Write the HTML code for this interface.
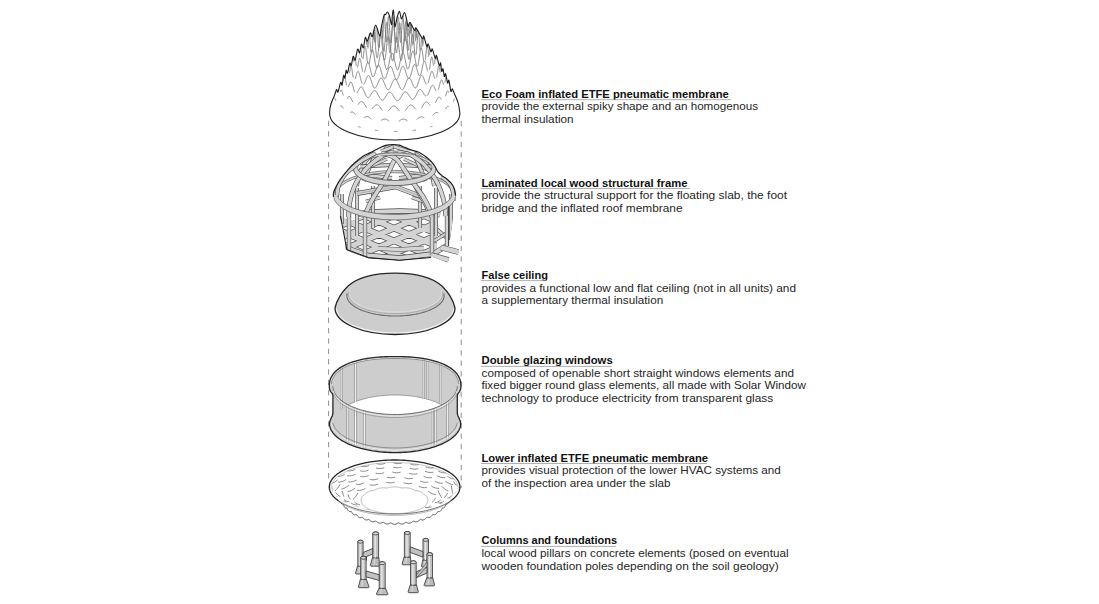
<!DOCTYPE html>
<html><head><meta charset="utf-8"><style>
html,body{margin:0;padding:0;background:#fff;width:1099px;height:604px;overflow:hidden}
</style></head><body>
<svg width="1099" height="604" viewBox="0 0 1099 604" style="position:absolute;left:0;top:0">
<g font-family='"Liberation Sans", sans-serif' font-size="9.8">
<text x="481.5" y="97.7" font-size="10.4" font-weight="bold" fill="#111" textLength="247.3" lengthAdjust="spacingAndGlyphs">Eco Foam inflated ETFE pneumatic membrane</text>
<line x1="481.0" y1="99.7" x2="731" y2="99.7" stroke="#9a9a9a" stroke-width="0.8"/>
<text x="481.5" y="110.3" font-size="10.1" font-weight="normal" fill="#262626" textLength="276.5" lengthAdjust="spacingAndGlyphs">provide the external spiky shape and an homogenous</text>
<text x="481.5" y="122.7" font-size="10.1" font-weight="normal" fill="#262626" textLength="92.1" lengthAdjust="spacingAndGlyphs">thermal insulation</text>
<text x="481.5" y="186.5" font-size="10.4" font-weight="bold" fill="#111" textLength="205.9" lengthAdjust="spacingAndGlyphs">Laminated local wood structural frame</text>
<line x1="481.0" y1="188.5" x2="689.7" y2="188.5" stroke="#9a9a9a" stroke-width="0.8"/>
<text x="481.5" y="199.1" font-size="10.1" font-weight="normal" fill="#262626" textLength="305.5" lengthAdjust="spacingAndGlyphs">provide the structural support for the floating slab, the foot</text>
<text x="481.5" y="211.5" font-size="10.1" font-weight="normal" fill="#262626" textLength="201.0" lengthAdjust="spacingAndGlyphs">bridge and the inflated roof membrane</text>
<text x="481.5" y="278.6" font-size="10.4" font-weight="bold" fill="#111" textLength="66.4" lengthAdjust="spacingAndGlyphs">False ceiling</text>
<line x1="481.0" y1="280.6" x2="546.9" y2="280.6" stroke="#9a9a9a" stroke-width="0.8"/>
<text x="481.5" y="291.6" font-size="10.1" font-weight="normal" fill="#262626" textLength="314.5" lengthAdjust="spacingAndGlyphs">provides a functional low and flat ceiling (not in all units) and</text>
<text x="481.5" y="304.0" font-size="10.1" font-weight="normal" fill="#262626" textLength="181.7" lengthAdjust="spacingAndGlyphs">a supplementary thermal insulation</text>
<text x="481.5" y="364.4" font-size="10.4" font-weight="bold" fill="#111" textLength="131.2" lengthAdjust="spacingAndGlyphs">Double glazing windows</text>
<line x1="481.0" y1="366.4" x2="611.7" y2="366.4" stroke="#9a9a9a" stroke-width="0.8"/>
<text x="481.5" y="376.8" font-size="10.1" font-weight="normal" fill="#262626" textLength="312.5" lengthAdjust="spacingAndGlyphs">composed of openable short straight windows elements and</text>
<text x="481.5" y="389.2" font-size="10.1" font-weight="normal" fill="#262626" textLength="324.5" lengthAdjust="spacingAndGlyphs">fixed bigger round glass elements, all made with Solar Window</text>
<text x="481.5" y="401.6" font-size="10.1" font-weight="normal" fill="#262626" textLength="291.7" lengthAdjust="spacingAndGlyphs">technology to produce electricity from transparent glass</text>
<text x="481.5" y="461.5" font-size="10.4" font-weight="bold" fill="#111" textLength="226.6" lengthAdjust="spacingAndGlyphs">Lower inflated ETFE pneumatic membrane</text>
<line x1="481.0" y1="463.5" x2="707.1" y2="463.5" stroke="#9a9a9a" stroke-width="0.8"/>
<text x="481.5" y="474.2" font-size="10.1" font-weight="normal" fill="#262626" textLength="299.3" lengthAdjust="spacingAndGlyphs">provides visual protection of the lower HVAC systems and</text>
<text x="481.5" y="486.6" font-size="10.1" font-weight="normal" fill="#262626" textLength="189.0" lengthAdjust="spacingAndGlyphs">of the inspection area under the slab</text>
<text x="481.5" y="544.4" font-size="10.4" font-weight="bold" fill="#111" textLength="135.5" lengthAdjust="spacingAndGlyphs">Columns and foundations</text>
<line x1="481.0" y1="546.4" x2="616.0" y2="546.4" stroke="#9a9a9a" stroke-width="0.8"/>
<text x="481.5" y="556.8" font-size="10.1" font-weight="normal" fill="#262626" textLength="307.0" lengthAdjust="spacingAndGlyphs">local wood pillars on concrete elements (posed on eventual</text>
<text x="481.5" y="569.5" font-size="10.1" font-weight="normal" fill="#262626" textLength="297.1" lengthAdjust="spacingAndGlyphs">wooden foundation poles depending on the soil geology)</text>
</g>
<line x1="328.6" y1="120.8" x2="328.6" y2="479" stroke="#8f8f8f" stroke-width="1" stroke-dasharray="5.3 5.06"/><line x1="461.2" y1="120.9" x2="461.2" y2="488" stroke="#8f8f8f" stroke-width="1" stroke-dasharray="5.4 5.02"/>
<clipPath id="cc"><path d="M329.60,113.50 C329.62,113.08 329.63,111.90 329.70,111.00 C329.77,110.10 329.85,109.02 330.00,108.10 C330.15,107.18 330.33,106.47 330.60,105.50 C330.87,104.53 331.25,103.30 331.60,102.30 C331.95,101.30 332.28,100.47 332.70,99.50 C333.12,98.53 333.67,97.58 334.10,96.50 C334.53,95.42 334.88,94.18 335.30,93.00 C335.72,91.82 336.15,89.57 336.60,89.40 C337.05,89.23 337.32,93.17 338.00,92.00 C338.68,90.83 340.02,83.57 340.70,82.40 C341.38,81.23 341.62,86.17 342.10,85.00 C342.58,83.83 343.12,76.57 343.60,75.40 C344.08,74.23 344.58,78.83 345.00,78.00 C345.42,77.17 345.68,71.23 346.10,70.40 C346.52,69.57 346.88,74.20 347.50,73.00 C348.12,71.80 349.18,64.40 349.80,63.20 C350.42,62.00 350.63,66.93 351.20,65.80 C351.77,64.67 352.53,57.37 353.20,56.40 C353.87,55.43 354.47,61.20 355.20,60.00 C355.93,58.80 356.87,50.40 357.60,49.20 C358.33,48.00 358.97,53.63 359.60,52.80 C360.23,51.97 360.77,45.03 361.40,44.20 C362.03,43.37 362.75,48.92 363.40,47.80 C364.05,46.68 364.65,38.62 365.30,37.50 C365.95,36.38 366.47,41.87 367.30,41.10 C368.13,40.33 369.47,33.67 370.30,32.90 C371.13,32.13 371.40,37.82 372.30,36.50 C373.20,35.18 374.47,25.08 375.70,25.00 C376.93,24.92 378.78,35.50 379.70,36.00 C380.62,36.50 380.48,31.43 381.20,28.00 C381.92,24.57 383.27,17.65 384.00,15.40 C384.73,13.15 385.02,15.07 385.60,14.50 C386.18,13.93 386.85,11.75 387.50,12.00 C388.15,12.25 388.82,13.88 389.50,16.00 C390.18,18.12 391.13,24.70 391.60,24.70 C392.07,24.70 392.02,18.42 392.30,16.00 C392.58,13.58 392.98,9.87 393.30,10.20 C393.62,10.53 393.92,15.20 394.20,18.00 C394.48,20.80 394.50,27.17 395.00,27.00 C395.50,26.83 396.43,19.60 397.20,17.00 C397.97,14.40 398.90,11.08 399.60,11.40 C400.30,11.72 400.62,18.72 401.40,18.90 C402.18,19.08 403.48,12.65 404.30,12.50 C405.12,12.35 405.67,15.67 406.30,18.00 C406.93,20.33 407.48,25.75 408.10,26.50 C408.72,27.25 408.90,21.82 410.00,22.50 C411.10,23.18 413.70,29.68 414.70,30.60 C415.70,31.52 414.72,26.65 416.00,28.00 C417.28,29.35 421.12,37.35 422.40,38.70 C423.68,40.05 422.95,34.78 423.70,36.10 C424.45,37.42 426.15,45.28 426.90,46.60 C427.65,47.92 427.52,43.17 428.20,44.00 C428.88,44.83 430.32,50.77 431.00,51.60 C431.68,52.43 431.60,47.90 432.30,49.00 C433.00,50.10 434.50,57.10 435.20,58.20 C435.90,59.30 435.82,54.37 436.50,55.60 C437.18,56.83 438.62,64.37 439.30,65.60 C439.98,66.83 440.20,62.03 440.60,63.00 C441.00,63.97 441.30,70.43 441.70,71.40 C442.10,72.37 442.57,67.97 443.00,68.80 C443.43,69.63 443.87,75.57 444.30,76.40 C444.73,77.23 445.05,72.70 445.60,73.80 C446.15,74.90 447.05,81.90 447.60,83.00 C448.15,84.10 448.35,79.02 448.90,80.40 C449.45,81.78 450.35,89.92 450.90,91.30 C451.45,92.68 451.77,88.67 452.20,88.70 C452.63,88.73 453.08,90.53 453.50,91.50 C453.92,92.47 454.20,93.33 454.70,94.50 C455.20,95.67 455.95,97.13 456.50,98.50 C457.05,99.87 457.58,101.28 458.00,102.70 C458.42,104.12 458.73,105.62 459.00,107.00 C459.27,108.38 459.45,109.92 459.60,111.00 C459.75,112.08 459.85,113.08 459.90,113.50 A65.15,26.5 0 0 1 329.6,113.5 Z"/></clipPath><path d="M329.60,113.50 C329.62,113.08 329.63,111.90 329.70,111.00 C329.77,110.10 329.85,109.02 330.00,108.10 C330.15,107.18 330.33,106.47 330.60,105.50 C330.87,104.53 331.25,103.30 331.60,102.30 C331.95,101.30 332.28,100.47 332.70,99.50 C333.12,98.53 333.67,97.58 334.10,96.50 C334.53,95.42 334.88,94.18 335.30,93.00 C335.72,91.82 336.15,89.57 336.60,89.40 C337.05,89.23 337.32,93.17 338.00,92.00 C338.68,90.83 340.02,83.57 340.70,82.40 C341.38,81.23 341.62,86.17 342.10,85.00 C342.58,83.83 343.12,76.57 343.60,75.40 C344.08,74.23 344.58,78.83 345.00,78.00 C345.42,77.17 345.68,71.23 346.10,70.40 C346.52,69.57 346.88,74.20 347.50,73.00 C348.12,71.80 349.18,64.40 349.80,63.20 C350.42,62.00 350.63,66.93 351.20,65.80 C351.77,64.67 352.53,57.37 353.20,56.40 C353.87,55.43 354.47,61.20 355.20,60.00 C355.93,58.80 356.87,50.40 357.60,49.20 C358.33,48.00 358.97,53.63 359.60,52.80 C360.23,51.97 360.77,45.03 361.40,44.20 C362.03,43.37 362.75,48.92 363.40,47.80 C364.05,46.68 364.65,38.62 365.30,37.50 C365.95,36.38 366.47,41.87 367.30,41.10 C368.13,40.33 369.47,33.67 370.30,32.90 C371.13,32.13 371.40,37.82 372.30,36.50 C373.20,35.18 374.47,25.08 375.70,25.00 C376.93,24.92 378.78,35.50 379.70,36.00 C380.62,36.50 380.48,31.43 381.20,28.00 C381.92,24.57 383.27,17.65 384.00,15.40 C384.73,13.15 385.02,15.07 385.60,14.50 C386.18,13.93 386.85,11.75 387.50,12.00 C388.15,12.25 388.82,13.88 389.50,16.00 C390.18,18.12 391.13,24.70 391.60,24.70 C392.07,24.70 392.02,18.42 392.30,16.00 C392.58,13.58 392.98,9.87 393.30,10.20 C393.62,10.53 393.92,15.20 394.20,18.00 C394.48,20.80 394.50,27.17 395.00,27.00 C395.50,26.83 396.43,19.60 397.20,17.00 C397.97,14.40 398.90,11.08 399.60,11.40 C400.30,11.72 400.62,18.72 401.40,18.90 C402.18,19.08 403.48,12.65 404.30,12.50 C405.12,12.35 405.67,15.67 406.30,18.00 C406.93,20.33 407.48,25.75 408.10,26.50 C408.72,27.25 408.90,21.82 410.00,22.50 C411.10,23.18 413.70,29.68 414.70,30.60 C415.70,31.52 414.72,26.65 416.00,28.00 C417.28,29.35 421.12,37.35 422.40,38.70 C423.68,40.05 422.95,34.78 423.70,36.10 C424.45,37.42 426.15,45.28 426.90,46.60 C427.65,47.92 427.52,43.17 428.20,44.00 C428.88,44.83 430.32,50.77 431.00,51.60 C431.68,52.43 431.60,47.90 432.30,49.00 C433.00,50.10 434.50,57.10 435.20,58.20 C435.90,59.30 435.82,54.37 436.50,55.60 C437.18,56.83 438.62,64.37 439.30,65.60 C439.98,66.83 440.20,62.03 440.60,63.00 C441.00,63.97 441.30,70.43 441.70,71.40 C442.10,72.37 442.57,67.97 443.00,68.80 C443.43,69.63 443.87,75.57 444.30,76.40 C444.73,77.23 445.05,72.70 445.60,73.80 C446.15,74.90 447.05,81.90 447.60,83.00 C448.15,84.10 448.35,79.02 448.90,80.40 C449.45,81.78 450.35,89.92 450.90,91.30 C451.45,92.68 451.77,88.67 452.20,88.70 C452.63,88.73 453.08,90.53 453.50,91.50 C453.92,92.47 454.20,93.33 454.70,94.50 C455.20,95.67 455.95,97.13 456.50,98.50 C457.05,99.87 457.58,101.28 458.00,102.70 C458.42,104.12 458.73,105.62 459.00,107.00 C459.27,108.38 459.45,109.92 459.60,111.00 C459.75,112.08 459.85,113.08 459.90,113.50 A65.15,26.5 0 0 1 329.6,113.5 Z" fill="#fff" stroke="none"/><path d="M358.2,126.7 L358.5,126.7 L358.8,126.8 L359.1,126.8 L359.3,126.9 L359.6,127.0 L359.9,127.1 L360.1,127.2 L360.4,127.3 L360.7,127.4 M374.9,130.3 L375.2,130.3 L375.5,130.3 L375.8,130.3 L376.1,130.3 L376.4,130.4 L376.7,130.4 L377.1,130.4 L377.4,130.5 L377.7,130.6 L378.0,130.7 L378.3,130.7 M393.8,131.6 L394.1,131.6 L394.5,131.6 L394.8,131.5 L395.1,131.5 L395.5,131.5 L395.8,131.5 L396.1,131.5 L396.4,131.5 L396.8,131.6 L397.1,131.6 L397.4,131.7 M412.5,130.6 L412.9,130.5 L413.2,130.4 L413.5,130.4 L413.8,130.3 L414.1,130.2 L414.4,130.2 L414.7,130.1 L415.0,130.1 L415.4,130.1 L415.7,130.1 L416.0,130.1 M430.3,127.0 L430.5,126.9 L430.8,126.8 L431.1,126.7 L431.4,126.6 L431.6,126.5 L431.9,126.5 L432.2,126.4 L432.4,126.4 M334.7,98.5 L334.7,98.5 L334.8,98.5 L334.8,98.5 L334.9,98.5 L334.9,98.5 L335.0,98.6 L335.1,98.6 L335.1,98.7 L335.2,98.9 L335.3,99.0 L335.3,99.2 L335.4,99.4 L335.5,99.6 L335.5,99.8 L335.6,100.1 L335.7,100.3 L335.8,100.6 L335.8,100.9 M340.2,106.0 L340.4,105.9 L340.5,105.9 L340.7,105.8 L340.8,105.8 L341.0,105.8 L341.1,105.8 L341.3,105.9 L341.4,106.0 L341.6,106.0 L341.7,106.2 L341.9,106.3 L342.0,106.5 L342.2,106.7 L342.3,106.9 L342.5,107.1 L342.6,107.3 L342.8,107.6 L343.0,107.9 L343.1,108.2 L343.3,108.5 M350.4,112.5 L350.6,112.4 L350.8,112.3 L351.0,112.2 L351.2,112.1 L351.4,112.1 L351.7,112.1 L351.9,112.0 L352.1,112.1 L352.3,112.1 L352.5,112.1 L352.8,112.2 L353.0,112.3 L353.2,112.4 L353.4,112.6 L353.7,112.8 L353.9,113.0 L354.1,113.2 L354.4,113.4 L354.6,113.6 L354.8,113.9 L355.1,114.2 L355.3,114.5 L355.6,114.8 M363.9,117.7 L364.2,117.6 L364.5,117.4 L364.7,117.3 L365.0,117.1 L365.3,117.0 L365.6,116.9 L365.8,116.8 L366.1,116.7 L366.4,116.7 L366.7,116.6 L366.9,116.6 L367.2,116.6 L367.5,116.6 L367.8,116.7 L368.0,116.8 L368.3,116.9 L368.6,117.0 L368.9,117.1 L369.2,117.3 L369.5,117.5 L369.7,117.7 L370.0,117.9 L370.3,118.2 L370.6,118.4 L370.9,118.7 L371.2,118.9 L371.4,119.2 M380.9,120.5 L381.2,120.3 L381.5,120.2 L381.8,120.0 L382.1,119.8 L382.4,119.6 L382.7,119.5 L383.0,119.4 L383.4,119.3 L383.7,119.2 L384.0,119.1 L384.3,119.1 L384.6,119.1 L384.9,119.1 L385.2,119.1 L385.5,119.1 L385.8,119.2 L386.1,119.3 L386.4,119.4 L386.7,119.5 L387.0,119.7 L387.3,119.9 L387.7,120.1 L388.0,120.3 L388.3,120.5 L388.6,120.7 L388.9,120.9 L389.2,121.2 M398.8,121.3 L399.2,121.1 L399.5,120.8 L399.8,120.6 L400.1,120.4 L400.4,120.2 L400.7,120.0 L401.0,119.8 L401.3,119.7 L401.6,119.5 L401.9,119.4 L402.3,119.3 L402.6,119.2 L402.9,119.2 L403.2,119.2 L403.5,119.1 L403.8,119.2 L404.1,119.2 L404.4,119.3 L404.7,119.3 L405.0,119.4 L405.3,119.6 L405.6,119.7 L405.9,119.9 L406.2,120.0 L406.6,120.2 L406.9,120.4 L407.2,120.6 L407.5,120.8 M416.7,119.5 L417.0,119.3 L417.3,119.0 L417.6,118.7 L417.9,118.5 L418.2,118.3 L418.4,118.0 L418.7,117.8 L419.0,117.6 L419.3,117.5 L419.6,117.3 L419.9,117.2 L420.1,117.1 L420.4,117.0 L420.7,116.9 L421.0,116.9 L421.3,116.9 L421.6,116.9 L421.8,116.9 L422.1,117.0 L422.4,117.0 L422.7,117.1 L422.9,117.2 L423.2,117.4 L423.5,117.5 L423.8,117.6 L424.0,117.8 L424.3,118.0 M432.8,115.3 L433.1,115.0 L433.3,114.7 L433.6,114.4 L433.8,114.1 L434.0,113.9 L434.3,113.7 L434.5,113.4 L434.8,113.2 L435.0,113.1 L435.2,112.9 L435.5,112.8 L435.7,112.7 L435.9,112.6 L436.2,112.5 L436.4,112.5 L436.6,112.5 L436.8,112.5 L437.1,112.5 L437.3,112.6 L437.5,112.6 L437.7,112.7 L437.9,112.8 L438.2,112.9 L438.4,113.0 M445.4,109.1 L445.6,108.8 L445.8,108.5 L446.0,108.2 L446.1,108.0 L446.3,107.7 L446.5,107.5 L446.6,107.3 L446.8,107.1 L447.0,106.9 L447.1,106.7 L447.3,106.6 L447.4,106.5 L447.6,106.4 L447.7,106.4 L447.9,106.4 L448.0,106.3 L448.2,106.4 L448.3,106.4 L448.5,106.4 L448.6,106.5 L448.8,106.6 M453.3,101.7 L453.4,101.3 L453.5,101.1 L453.6,100.8 L453.7,100.5 L453.8,100.3 L453.8,100.0 L453.9,99.8 L454.0,99.7 L454.1,99.5 L454.1,99.4 L454.2,99.3 L454.3,99.2 L454.3,99.1 L454.4,99.1 L454.5,99.1 L454.5,99.1 L454.6,99.1 L454.7,99.1 M338.0,82.9 L338.0,82.9 L338.0,82.9 L338.0,83.0 L338.0,83.2 L338.0,83.3 L338.1,83.5 L338.1,83.8 L338.1,84.1 L338.1,84.4 L338.2,84.7 L338.2,85.1 L338.2,85.5 L338.2,86.0 L338.3,86.4 L338.3,86.9 L338.3,87.4 L338.4,87.9 L338.4,88.4 M340.1,92.0 L340.2,91.8 L340.3,91.5 L340.4,91.3 L340.5,91.0 L340.6,90.8 L340.6,90.6 L340.7,90.4 L340.8,90.3 L340.9,90.2 L341.0,90.1 L341.1,90.0 L341.2,90.0 L341.3,90.0 L341.4,90.1 L341.5,90.2 L341.6,90.3 L341.7,90.5 L341.8,90.7 L341.9,90.9 L342.0,91.2 L342.1,91.6 L342.2,91.9 L342.3,92.3 L342.5,92.7 L342.6,93.1 L342.7,93.6 L342.8,94.1 L342.9,94.5 L343.0,95.0 L343.2,95.5 M347.1,98.8 L347.3,98.5 L347.4,98.3 L347.6,98.0 L347.7,97.7 L347.9,97.5 L348.1,97.3 L348.2,97.0 L348.4,96.9 L348.6,96.7 L348.7,96.6 L348.9,96.5 L349.1,96.4 L349.2,96.4 L349.4,96.4 L349.6,96.5 L349.8,96.5 L350.0,96.7 L350.1,96.8 L350.3,97.1 L350.5,97.3 L350.7,97.6 L350.9,97.9 L351.0,98.3 L351.2,98.6 L351.4,99.0 L351.6,99.4 L351.8,99.9 L352.0,100.3 L352.2,100.8 L352.4,101.3 L352.6,101.7 L352.8,102.2 M358.0,104.7 L358.2,104.4 L358.4,104.1 L358.6,103.8 L358.9,103.5 L359.1,103.2 L359.3,103.0 L359.5,102.7 L359.8,102.4 L360.0,102.2 L360.2,102.0 L360.5,101.8 L360.7,101.7 L360.9,101.6 L361.2,101.5 L361.4,101.5 L361.6,101.5 L361.9,101.5 L362.1,101.6 L362.3,101.7 L362.6,101.9 L362.8,102.1 L363.1,102.3 L363.3,102.6 L363.5,102.9 L363.8,103.2 L364.0,103.6 L364.3,103.9 L364.5,104.3 L364.8,104.8 L365.0,105.2 L365.3,105.6 L365.5,106.1 L365.8,106.5 L366.0,106.9 L366.3,107.3 L366.5,107.8 M372.0,109.0 L372.2,108.7 L372.5,108.4 L372.8,108.1 L373.0,107.7 L373.3,107.4 L373.6,107.1 L373.8,106.8 L374.1,106.5 L374.4,106.2 L374.6,105.9 L374.9,105.7 L375.2,105.4 L375.5,105.2 L375.7,105.1 L376.0,104.9 L376.3,104.8 L376.6,104.8 L376.8,104.8 L377.1,104.8 L377.4,104.9 L377.7,105.0 L377.9,105.1 L378.2,105.3 L378.5,105.5 L378.8,105.7 L379.0,106.0 L379.3,106.3 L379.6,106.6 L379.9,107.0 L380.2,107.4 L380.4,107.8 L380.7,108.2 L381.0,108.6 L381.3,109.0 L381.6,109.4 L381.9,109.8 L382.1,110.1 L382.4,110.5 M388.4,110.8 L388.7,110.4 L389.0,110.1 L389.3,109.7 L389.6,109.4 L389.9,109.0 L390.2,108.6 L390.5,108.3 L390.7,107.9 L391.0,107.6 L391.3,107.3 L391.6,107.0 L391.9,106.8 L392.2,106.6 L392.5,106.4 L392.8,106.2 L393.1,106.1 L393.3,106.0 L393.6,106.0 L393.9,106.0 L394.2,106.0 L394.5,106.1 L394.8,106.2 L395.1,106.4 L395.4,106.6 L395.7,106.8 L396.0,107.1 L396.3,107.3 L396.5,107.6 L396.8,108.0 L397.1,108.3 L397.4,108.7 L397.7,109.0 L398.0,109.4 L398.3,109.7 L398.6,110.1 L398.9,110.5 L399.1,110.8 L399.4,111.1 M405.2,110.7 L405.5,110.4 L405.8,110.0 L406.0,109.6 L406.3,109.2 L406.6,108.8 L406.9,108.4 L407.2,108.0 L407.5,107.6 L407.7,107.2 L408.0,106.9 L408.3,106.6 L408.6,106.3 L408.9,106.0 L409.2,105.7 L409.4,105.5 L409.7,105.4 L410.0,105.2 L410.3,105.1 L410.6,105.0 L410.8,105.0 L411.1,105.0 L411.4,105.1 L411.7,105.2 L411.9,105.3 L412.2,105.5 L412.5,105.7 L412.8,105.9 L413.0,106.2 L413.3,106.4 L413.6,106.7 L413.9,107.0 L414.1,107.4 L414.4,107.7 L414.7,108.0 L415.0,108.4 L415.2,108.7 L415.5,109.0 L415.8,109.3 M421.3,108.2 L421.6,107.8 L421.8,107.4 L422.1,107.0 L422.3,106.5 L422.6,106.1 L422.8,105.7 L423.1,105.2 L423.3,104.8 L423.6,104.4 L423.8,104.0 L424.1,103.7 L424.3,103.4 L424.6,103.1 L424.8,102.8 L425.1,102.6 L425.3,102.4 L425.6,102.2 L425.8,102.1 L426.1,102.0 L426.3,102.0 L426.5,102.0 L426.8,102.0 L427.0,102.1 L427.3,102.2 L427.5,102.3 L427.7,102.5 L428.0,102.7 L428.2,102.9 L428.4,103.2 L428.7,103.4 L428.9,103.7 L429.1,104.0 L429.4,104.3 L429.6,104.6 L429.8,104.9 L430.1,105.2 L430.3,105.5 M435.4,102.9 L435.6,102.4 L435.8,101.9 L436.0,101.5 L436.2,101.0 L436.4,100.6 L436.6,100.1 L436.8,99.7 L437.0,99.3 L437.2,98.9 L437.4,98.6 L437.6,98.3 L437.8,98.0 L438.0,97.7 L438.2,97.5 L438.4,97.4 L438.6,97.2 L438.7,97.1 L438.9,97.1 L439.1,97.1 L439.3,97.1 L439.5,97.1 L439.6,97.2 L439.8,97.4 L440.0,97.5 L440.2,97.7 L440.4,97.9 L440.5,98.2 L440.7,98.4 L440.9,98.7 L441.0,98.9 L441.2,99.2 L441.4,99.5 M445.5,96.3 L445.7,95.8 L445.8,95.4 L445.9,94.9 L446.1,94.4 L446.2,94.0 L446.3,93.5 L446.4,93.1 L446.6,92.7 L446.7,92.4 L446.8,92.1 L446.9,91.8 L447.0,91.5 L447.1,91.3 L447.3,91.1 L447.4,91.0 L447.5,90.9 L447.6,90.8 L447.7,90.8 L447.8,90.8 L447.9,90.9 L448.0,91.0 L448.1,91.1 L448.2,91.2 L448.3,91.4 L448.4,91.6 L448.5,91.8 L448.6,92.1 L448.7,92.3 L448.8,92.6 L448.9,92.8 M450.9,89.3 L450.9,88.8 L451.0,88.3 L451.0,87.8 L451.1,87.3 L451.1,86.9 L451.1,86.4 L451.2,86.0 L451.2,85.6 L451.3,85.3 L451.3,85.0 L451.3,84.7 L451.4,84.4 L451.4,84.2 L451.4,84.0 L451.4,83.9 L451.5,83.8 L451.5,83.7 L451.5,83.7 L451.5,83.8 L451.6,83.8 L451.6,83.9 L451.6,84.0 L451.6,84.2 L451.6,84.4 L451.6,84.6 M342.7,73.9 L342.7,74.4 L342.7,75.0 L342.7,75.6 L342.7,76.1 L342.7,76.7 L342.8,77.3 L342.8,77.8 L342.8,78.3 M343.4,80.6 L343.5,80.3 L343.5,80.0 L343.5,79.7 L343.6,79.4 L343.7,79.0 L343.7,78.7 L343.8,78.4 L343.8,78.0 L343.9,77.7 L343.9,77.4 L344.0,77.1 L344.1,76.8 L344.1,76.6 L344.2,76.4 L344.2,76.2 L344.3,76.1 L344.4,76.0 L344.4,75.9 L344.5,76.0 L344.6,76.0 L344.7,76.1 L344.7,76.3 L344.8,76.5 L344.9,76.7 L345.0,77.0 L345.0,77.3 L345.1,77.7 L345.2,78.1 L345.3,78.6 L345.4,79.0 L345.5,79.6 L345.5,80.1 L345.6,80.6 L345.7,81.2 L345.8,81.7 L345.9,82.3 L346.0,82.9 L346.1,83.4 L346.2,83.9 L346.3,84.5 L346.4,84.9 L346.5,85.4 M348.3,87.0 L348.4,86.8 L348.5,86.5 L348.6,86.2 L348.7,85.9 L348.9,85.5 L349.0,85.2 L349.1,84.8 L349.3,84.4 L349.4,84.1 L349.5,83.8 L349.6,83.4 L349.8,83.2 L349.9,82.9 L350.1,82.6 L350.2,82.4 L350.3,82.3 L350.5,82.1 L350.6,82.1 L350.8,82.0 L350.9,82.0 L351.0,82.1 L351.2,82.2 L351.3,82.4 L351.5,82.6 L351.6,82.8 L351.8,83.1 L351.9,83.4 L352.1,83.8 L352.2,84.2 L352.4,84.7 L352.5,85.1 L352.7,85.6 L352.9,86.1 L353.0,86.7 L353.2,87.2 L353.3,87.8 L353.5,88.3 L353.7,88.8 L353.8,89.4 L354.0,89.9 L354.2,90.4 L354.3,90.8 L354.5,91.3 L354.7,91.7 L354.8,92.0 M356.8,93.0 L357.0,92.8 L357.2,92.6 L357.3,92.4 L357.5,92.1 L357.7,91.8 L357.9,91.4 L358.1,91.1 L358.3,90.7 L358.5,90.3 L358.7,89.9 L358.8,89.6 L359.0,89.2 L359.2,88.9 L359.4,88.5 L359.6,88.2 L359.8,87.9 L360.0,87.7 L360.2,87.5 L360.4,87.3 L360.6,87.2 L360.8,87.1 L361.0,87.0 L361.2,87.0 L361.4,87.1 L361.6,87.2 L361.8,87.3 L362.1,87.5 L362.3,87.8 L362.5,88.1 L362.7,88.4 L362.9,88.8 L363.1,89.2 L363.3,89.6 L363.5,90.0 L363.7,90.5 L363.9,91.0 L364.2,91.5 L364.4,92.1 L364.6,92.6 L364.8,93.1 L365.0,93.6 L365.3,94.1 L365.5,94.6 L365.7,95.0 L365.9,95.5 L366.1,95.9 L366.4,96.2 L366.6,96.6 L366.8,96.8 L367.0,97.1 L367.3,97.3 L367.5,97.4 L367.7,97.5 L367.9,97.6 L368.2,97.5 L368.4,97.5 L368.6,97.4 L368.9,97.3 L369.1,97.1 L369.3,96.8 L369.6,96.6 L369.8,96.3 L370.0,96.0 L370.3,95.6 L370.5,95.2 L370.7,94.8 L371.0,94.4 L371.2,94.0 L371.4,93.6 L371.7,93.2 L371.9,92.9 L372.2,92.5 L372.4,92.1 L372.6,91.8 L372.9,91.5 L373.1,91.2 L373.4,91.0 L373.6,90.8 L373.8,90.7 L374.1,90.6 L374.3,90.5 L374.6,90.5 L374.8,90.6 L375.1,90.6 L375.3,90.8 L375.6,91.0 L375.8,91.2 L376.1,91.5 L376.3,91.8 L376.6,92.1 L376.8,92.5 L377.1,92.9 L377.3,93.4 L377.6,93.8 L377.8,94.3 L378.1,94.8 L378.3,95.3 L378.6,95.8 L378.8,96.2 L379.1,96.7 L379.3,97.2 L379.6,97.6 L379.8,98.0 L380.1,98.4 L380.4,98.8 L380.6,99.1 L380.9,99.4 L381.1,99.6 L381.4,99.8 L381.6,99.9 L381.9,100.0 L382.1,100.1 L382.4,100.1 L382.7,100.0 L382.9,99.9 L383.2,99.8 L383.4,99.6 L383.7,99.4 L384.0,99.1 L384.2,98.8 L384.5,98.4 L384.7,98.1 L385.0,97.7 L385.3,97.3 L385.5,96.8 L385.8,96.4 L386.1,96.0 L386.3,95.5 L386.6,95.1 L386.8,94.7 L387.1,94.3 L387.4,93.9 L387.6,93.6 L387.9,93.3 L388.2,93.0 L388.4,92.7 L388.7,92.5 L389.0,92.4 L389.2,92.2 L389.5,92.2 L389.7,92.1 L390.0,92.2 L390.3,92.2 L390.5,92.4 L390.8,92.5 L391.1,92.7 L391.3,93.0 L391.6,93.3 L391.9,93.6 L392.1,94.0 L392.4,94.4 L392.7,94.8 L392.9,95.2 L393.2,95.7 L393.5,96.1 L393.7,96.6 L394.0,97.0 L394.3,97.5 L394.5,97.9 L394.8,98.3 L395.1,98.7 L395.3,99.1 L395.6,99.4 L395.9,99.8 L396.1,100.0 L396.4,100.3 L396.7,100.4 L396.9,100.6 L397.2,100.7 L397.5,100.7 L397.7,100.7 L398.0,100.7 L398.3,100.6 L398.5,100.4 L398.8,100.2 L399.1,100.0 L399.3,99.7 L399.6,99.4 L399.9,99.0 L400.1,98.6 L400.4,98.2 L400.6,97.8 L400.9,97.3 L401.2,96.9 L401.4,96.4 L401.7,95.9 L402.0,95.5 L402.2,95.0 L402.5,94.6 L402.8,94.1 L403.0,93.7 L403.3,93.4 L403.5,93.0 L403.8,92.7 L404.1,92.5 L404.3,92.2 L404.6,92.0 L404.9,91.9 L405.1,91.8 L405.4,91.8 L405.6,91.8 L405.9,91.9 L406.2,92.0 L406.4,92.1 L406.7,92.3 L406.9,92.5 L407.2,92.8 L407.5,93.1 L407.7,93.5 L408.0,93.8 L408.2,94.2 L408.5,94.6 L408.7,95.0 L409.0,95.4 L409.2,95.9 L409.5,96.3 L409.8,96.7 L410.0,97.1 L410.3,97.5 L410.5,97.8 L410.8,98.2 L411.0,98.5 L411.3,98.7 L411.5,98.9 L411.8,99.1 L412.0,99.3 L412.3,99.3 L412.5,99.4 L412.8,99.4 L413.0,99.3 L413.3,99.2 L413.5,99.1 L413.8,98.9 L414.0,98.6 L414.3,98.3 L414.5,98.0 L414.8,97.6 L415.0,97.2 L415.3,96.8 L415.5,96.4 L415.8,95.9 L416.0,95.4 L416.2,94.9 L416.5,94.4 L416.7,93.9 L417.0,93.4 L417.2,92.9 L417.4,92.4 L417.7,92.0 L417.9,91.6 L418.2,91.2 L418.4,90.8 L418.6,90.5 L418.9,90.2 L419.1,90.0 L419.3,89.8 L419.6,89.6 L419.8,89.5 L420.0,89.5 L420.3,89.5 L420.5,89.5 L420.7,89.6 L421.0,89.7 L421.2,89.9 L421.4,90.1 L421.7,90.4 L421.9,90.7 L422.1,91.0 L422.3,91.3 L422.6,91.7 L422.8,92.1 L423.0,92.4 L423.2,92.8 L423.5,93.2 L423.7,93.6 L423.9,94.0 L424.1,94.4 L424.3,94.7 L424.6,95.0 L424.8,95.3 L425.0,95.6 L425.2,95.8 L425.4,96.0 L425.7,96.1 L425.9,96.2 L426.1,96.2 M426.9,95.9 L427.1,95.7 L427.3,95.5 L427.5,95.2 L427.8,94.8 L428.0,94.5 L428.2,94.0 L428.4,93.6 L428.6,93.1 L428.8,92.7 L429.0,92.1 L429.2,91.6 L429.4,91.1 L429.6,90.6 L429.8,90.0 L430.0,89.5 L430.2,89.0 L430.4,88.5 L430.6,88.1 L430.8,87.6 L430.9,87.2 L431.1,86.8 L431.3,86.5 L431.5,86.2 L431.7,85.9 L431.9,85.7 L432.1,85.6 L432.3,85.5 L432.4,85.4 L432.6,85.4 L432.8,85.4 L433.0,85.5 L433.2,85.6 L433.4,85.8 L433.5,86.0 L433.7,86.2 L433.9,86.5 L434.1,86.8 L434.2,87.1 L434.4,87.5 L434.6,87.8 L434.8,88.2 L434.9,88.6 L435.1,88.9 L435.3,89.3 L435.4,89.6 L435.6,90.0 L435.8,90.3 L435.9,90.6 L436.1,90.8 L436.3,91.0 M438.3,89.8 L438.4,89.4 L438.6,88.9 L438.7,88.4 L438.8,87.9 L439.0,87.4 L439.1,86.9 L439.3,86.3 L439.4,85.8 L439.5,85.2 L439.7,84.7 L439.8,84.2 L440.0,83.6 L440.1,83.1 L440.2,82.7 L440.3,82.2 L440.5,81.8 L440.6,81.4 L440.7,81.1 L440.9,80.8 L441.0,80.5 L441.1,80.3 L441.2,80.1 L441.3,80.0 L441.5,80.0 L441.6,79.9 L441.7,80.0 L441.8,80.0 L441.9,80.2 L442.0,80.3 L442.2,80.5 L442.3,80.8 L442.4,81.0 L442.5,81.3 L442.6,81.6 L442.7,82.0 L442.8,82.3 L442.9,82.6 L443.0,83.0 L443.1,83.3 L443.2,83.7 L443.3,84.0 L443.4,84.3 L443.5,84.6 L443.6,84.8 M445.0,82.7 L445.1,82.2 L445.2,81.7 L445.2,81.1 L445.3,80.6 L445.4,80.0 L445.4,79.5 L445.5,78.9 L445.5,78.3 L445.6,77.8 L445.7,77.3 L445.7,76.8 L445.8,76.3 L445.8,75.8 L445.9,75.4 L445.9,75.0 L446.0,74.7 L446.1,74.4 L446.1,74.1 L446.1,73.9 L446.2,73.8 L446.2,73.7 L446.3,73.6 L446.3,73.6 L446.4,73.6 L446.4,73.7 L446.4,73.9 L446.5,74.0 L446.5,74.2 L446.6,74.5 L446.6,74.7 L446.6,75.0 L446.6,75.3 L446.7,75.6 L446.7,76.0 L446.7,76.3 L446.8,76.7 L446.8,77.0 L446.8,77.3 L446.8,77.6 L446.8,77.9 L446.9,78.2 M347.8,61.6 L347.8,61.3 L347.8,61.0 L347.8,60.8 L347.8,60.6 L347.8,60.5 L347.9,60.4 L347.9,60.4 L347.9,60.5 L347.9,60.6 L347.9,60.8 L348.0,61.1 L348.0,61.4 L348.0,61.8 L348.0,62.2 L348.1,62.7 L348.1,63.2 L348.1,63.8 L348.2,64.4 L348.2,65.0 L348.2,65.6 L348.3,66.3 L348.3,67.0 L348.3,67.7 L348.4,68.4 L348.4,69.1 L348.4,69.7 L348.5,70.4 L348.5,71.0 M349.5,73.2 L349.6,72.8 L349.6,72.3 L349.7,71.9 L349.8,71.4 L349.9,70.9 L349.9,70.5 L350.0,70.0 L350.1,69.5 L350.1,69.0 L350.2,68.6 L350.3,68.1 L350.4,67.7 L350.5,67.4 L350.5,67.1 L350.6,66.8 L350.7,66.6 L350.8,66.4 L350.9,66.3 L351.0,66.3 L351.0,66.3 L351.1,66.4 L351.2,66.5 L351.3,66.7 L351.4,67.0 L351.5,67.3 L351.6,67.7 L351.7,68.2 L351.8,68.6 L351.9,69.2 L352.0,69.7 L352.1,70.3 L352.2,71.0 L352.3,71.6 L352.4,72.3 L352.5,73.0 L352.6,73.7 L352.7,74.3 L352.8,75.0 L352.9,75.7 L353.0,76.3 L353.2,76.9 L353.3,77.4 M355.1,79.2 L355.2,78.9 L355.3,78.5 L355.5,78.1 L355.6,77.6 L355.7,77.2 L355.9,76.7 L356.0,76.2 L356.1,75.7 L356.3,75.2 L356.4,74.7 L356.6,74.2 L356.7,73.7 L356.8,73.3 L357.0,72.9 L357.1,72.5 L357.3,72.2 L357.4,72.0 L357.6,71.8 L357.7,71.6 L357.8,71.5 L358.0,71.5 L358.1,71.5 L358.3,71.6 L358.5,71.7 L358.6,72.0 L358.8,72.2 L358.9,72.6 L359.1,73.0 L359.2,73.4 L359.4,73.9 L359.5,74.4 L359.7,75.0 L359.9,75.6 L360.0,76.2 L360.2,76.8 L360.3,77.5 L360.5,78.2 L360.7,78.8 L360.8,79.5 L361.0,80.1 L361.2,80.7 L361.3,81.3 L361.5,81.9 L361.7,82.4 L361.9,82.9 L362.0,83.3 L362.2,83.7 M363.6,84.6 L363.8,84.4 L364.0,84.2 L364.2,83.9 L364.3,83.6 L364.5,83.2 L364.7,82.8 L364.9,82.4 L365.1,81.9 L365.3,81.4 L365.5,80.9 L365.6,80.4 L365.8,79.8 L366.0,79.3 L366.2,78.8 L366.4,78.3 L366.6,77.8 L366.8,77.4 L367.0,77.0 L367.2,76.6 L367.4,76.3 L367.6,76.1 L367.8,75.8 L368.0,75.7 L368.1,75.6 L368.3,75.6 L368.5,75.6 L368.7,75.7 L368.9,75.8 L369.1,76.0 L369.3,76.3 L369.6,76.6 L369.8,77.0 L370.0,77.5 L370.2,77.9 L370.4,78.5 L370.6,79.0 L370.8,79.6 L371.0,80.2 L371.2,80.8 L371.4,81.5 L371.6,82.1 L371.8,82.7 L372.0,83.4 L372.2,84.0 L372.5,84.6 L372.7,85.1 L372.9,85.6 L373.1,86.1 L373.3,86.6 L373.5,87.0 L373.7,87.3 L373.9,87.6 L374.2,87.8 L374.4,88.0 L374.6,88.0 L374.8,88.1 L375.0,88.0 L375.2,88.0 L375.5,87.8 L375.7,87.6 L375.9,87.3 L376.1,87.0 L376.3,86.6 L376.6,86.2 L376.8,85.8 L377.0,85.3 L377.2,84.8 L377.5,84.2 L377.7,83.7 L377.9,83.1 L378.1,82.6 L378.3,82.0 L378.6,81.5 L378.8,81.0 L379.0,80.5 L379.3,80.1 L379.5,79.6 L379.7,79.3 L379.9,78.9 L380.2,78.7 L380.4,78.4 L380.6,78.3 L380.8,78.2 L381.1,78.1 L381.3,78.2 L381.5,78.2 L381.8,78.4 L382.0,78.6 L382.2,78.9 L382.5,79.2 L382.7,79.6 L382.9,80.0 L383.2,80.4 L383.4,81.0 L383.6,81.5 L383.9,82.1 L384.1,82.6 L384.3,83.2 L384.6,83.9 L384.8,84.5 L385.0,85.1 L385.3,85.7 L385.5,86.2 L385.7,86.8 L386.0,87.3 L386.2,87.8 L386.4,88.2 L386.7,88.6 L386.9,89.0 L387.2,89.3 L387.4,89.5 L387.6,89.6 L387.9,89.8 L388.1,89.8 L388.3,89.8 L388.6,89.7 L388.8,89.5 L389.1,89.3 L389.3,89.1 L389.5,88.8 L389.8,88.4 L390.0,88.0 L390.2,87.5 L390.5,87.0 L390.7,86.5 L391.0,85.9 L391.2,85.4 L391.4,84.8 L391.7,84.2 L391.9,83.6 L392.2,83.1 L392.4,82.5 L392.6,82.0 L392.9,81.5 L393.1,81.0 L393.4,80.6 L393.6,80.2 L393.8,79.8 L394.1,79.6 L394.3,79.3 L394.6,79.2 L394.8,79.0 L395.0,79.0 L395.3,79.0 L395.5,79.1 L395.8,79.2 L396.0,79.4 L396.2,79.7 L396.5,80.0 L396.7,80.4 L397.0,80.8 L397.2,81.2 L397.4,81.7 L397.7,82.2 L397.9,82.8 L398.2,83.3 L398.4,83.9 L398.6,84.5 L398.9,85.1 L399.1,85.6 L399.4,86.2 L399.6,86.7 L399.8,87.2 L400.1,87.7 L400.3,88.2 L400.5,88.5 L400.8,88.9 L401.0,89.2 L401.3,89.4 L401.5,89.6 L401.7,89.7 L402.0,89.8 L402.2,89.7 L402.4,89.7 L402.7,89.5 L402.9,89.3 L403.2,89.1 L403.4,88.8 L403.6,88.4 L403.9,88.0 L404.1,87.5 L404.3,87.0 L404.6,86.5 L404.8,85.9 L405.0,85.3 L405.3,84.7 L405.5,84.1 L405.7,83.5 L406.0,82.9 L406.2,82.3 L406.4,81.7 L406.7,81.2 L406.9,80.6 L407.1,80.1 L407.4,79.7 L407.6,79.3 L407.8,78.9 L408.1,78.7 L408.3,78.4 L408.5,78.2 L408.8,78.1 L409.0,78.1 L409.2,78.1 L409.4,78.1 L409.7,78.3 L409.9,78.5 L410.1,78.7 L410.3,79.0 L410.6,79.4 L410.8,79.8 L411.0,80.2 L411.3,80.7 L411.5,81.2 L411.7,81.7 L411.9,82.2 L412.1,82.8 L412.4,83.3 L412.6,83.9 L412.8,84.4 L413.0,84.9 L413.3,85.4 L413.5,85.9 L413.7,86.3 L413.9,86.7 L414.1,87.1 L414.4,87.3 L414.6,87.6 L414.8,87.8 L415.0,87.9 L415.2,88.0 L415.4,88.0 L415.7,87.9 L415.9,87.8 L416.1,87.6 L416.3,87.3 L416.5,87.0 L416.7,86.7 L416.9,86.2 L417.1,85.8 L417.4,85.3 L417.6,84.7 L417.8,84.1 L418.0,83.5 L418.2,82.9 L418.4,82.3 L418.6,81.7 L418.8,81.0 L419.0,80.4 L419.2,79.8 L419.4,79.2 L419.6,78.6 L419.8,78.1 L420.0,77.6 L420.3,77.1 L420.5,76.7 L420.7,76.3 L420.9,76.0 L421.1,75.8 L421.3,75.6 L421.5,75.5 L421.6,75.4 L421.8,75.4 L422.0,75.5 L422.2,75.6 L422.4,75.8 L422.6,76.0 L422.8,76.3 L423.0,76.7 L423.2,77.0 L423.4,77.5 L423.6,77.9 L423.8,78.4 L424.0,78.9 L424.1,79.4 L424.3,79.9 L424.5,80.5 L424.7,81.0 L424.9,81.5 L425.1,82.0 L425.3,82.4 L425.4,82.9 L425.6,83.3 L425.8,83.6 L426.0,83.9 L426.2,84.2 L426.3,84.4 M427.9,83.4 L428.1,82.9 L428.3,82.5 L428.4,82.0 L428.6,81.4 L428.8,80.9 L428.9,80.2 L429.1,79.6 L429.3,79.0 L429.4,78.3 L429.6,77.6 L429.7,77.0 L429.9,76.3 L430.1,75.7 L430.2,75.1 L430.4,74.5 L430.5,73.9 L430.7,73.4 L430.8,73.0 L431.0,72.6 L431.1,72.2 L431.3,71.9 L431.5,71.6 L431.6,71.5 L431.8,71.3 L431.9,71.3 L432.0,71.3 L432.2,71.3 L432.3,71.5 L432.5,71.7 L432.6,71.9 L432.8,72.2 L432.9,72.5 L433.0,72.9 L433.2,73.3 L433.3,73.7 L433.5,74.2 L433.6,74.7 L433.7,75.2 L433.9,75.7 L434.0,76.2 L434.1,76.7 L434.3,77.2 L434.4,77.6 L434.5,78.1 L434.7,78.5 L434.8,78.8 M436.6,77.5 L436.7,76.9 L436.8,76.3 L436.9,75.7 L437.0,75.1 L437.1,74.4 L437.2,73.8 L437.3,73.1 L437.4,72.4 L437.5,71.7 L437.6,71.1 L437.7,70.4 L437.8,69.8 L437.9,69.2 L438.0,68.7 L438.1,68.2 L438.2,67.7 L438.3,67.3 L438.4,66.9 L438.5,66.6 L438.6,66.4 L438.6,66.2 L438.7,66.1 L438.8,66.0 L438.9,66.1 L439.0,66.1 L439.1,66.3 L439.1,66.4 L439.2,66.7 L439.3,67.0 L439.4,67.3 L439.5,67.7 L439.5,68.1 L439.6,68.5 L439.7,69.0 L439.7,69.5 L439.8,70.0 L439.9,70.5 L440.0,70.9 L440.0,71.4 L440.1,71.9 L440.2,72.3 L440.2,72.7 M441.2,71.0 L441.2,70.4 L441.2,69.8 L441.3,69.1 L441.3,68.5 L441.3,67.8 L441.4,67.1 L441.4,66.4 L441.4,65.7 L441.5,65.1 L441.5,64.4 L441.5,63.8 L441.6,63.2 L441.6,62.7 L441.6,62.2 L441.6,61.7 L441.7,61.3 L441.7,61.0 L441.7,60.7 L441.7,60.5 L441.7,60.3 L441.8,60.2 L441.8,60.2 L441.8,60.2 L441.8,60.3 L441.8,60.4 L441.8,60.6 M353.3,55.2 L353.3,55.9 L353.3,56.7 L353.3,57.5 L353.3,58.3 L353.4,59.0 L353.4,59.7 L353.4,60.4 M353.8,61.8 L353.9,61.3 L353.9,60.7 L354.0,60.2 L354.0,59.6 L354.0,59.0 L354.1,58.4 L354.1,57.8 L354.2,57.2 L354.2,56.6 L354.3,56.1 L354.3,55.6 L354.3,55.1 L354.4,54.7 L354.4,54.3 L354.5,54.0 L354.5,53.7 L354.6,53.6 L354.7,53.5 L354.7,53.4 L354.8,53.5 L354.8,53.6 L354.9,53.8 L354.9,54.0 L355.0,54.4 L355.1,54.8 L355.1,55.2 L355.2,55.8 L355.2,56.3 L355.3,57.0 L355.4,57.6 L355.4,58.4 L355.5,59.1 L355.6,59.9 L355.7,60.6 L355.7,61.4 L355.8,62.2 L355.9,63.0 L355.9,63.7 L356.0,64.4 L356.1,65.1 L356.2,65.8 M357.6,67.6 L357.6,67.1 L357.7,66.6 L357.8,66.1 L357.9,65.5 L358.0,65.0 L358.1,64.4 L358.2,63.7 L358.3,63.1 L358.4,62.5 L358.5,61.9 L358.6,61.3 L358.7,60.8 L358.9,60.3 L359.0,59.8 L359.1,59.4 L359.2,59.1 L359.3,58.8 L359.4,58.6 L359.5,58.4 L359.6,58.3 L359.7,58.3 L359.8,58.3 L360.0,58.5 L360.1,58.7 L360.2,58.9 L360.3,59.3 L360.4,59.7 L360.5,60.2 L360.7,60.7 L360.8,61.3 L360.9,61.9 L361.0,62.6 L361.2,63.3 L361.3,64.1 L361.4,64.8 L361.5,65.6 L361.7,66.3 L361.8,67.1 L361.9,67.9 L362.1,68.6 L362.2,69.3 L362.3,70.0 L362.4,70.6 L362.6,71.2 L362.7,71.7 M364.4,72.6 L364.5,72.2 L364.7,71.8 L364.8,71.3 L365.0,70.8 L365.1,70.2 L365.3,69.6 L365.4,69.0 L365.6,68.4 L365.7,67.7 L365.9,67.1 L366.0,66.5 L366.2,65.9 L366.3,65.3 L366.5,64.8 L366.6,64.3 L366.8,63.8 L367.0,63.4 L367.1,63.0 L367.3,62.7 L367.4,62.5 L367.6,62.4 L367.7,62.3 L367.9,62.3 L368.1,62.3 L368.2,62.5 L368.4,62.7 L368.6,63.0 L368.7,63.3 L368.9,63.8 L369.1,64.2 L369.2,64.8 L369.4,65.4 L369.6,66.0 L369.7,66.7 L369.9,67.4 L370.1,68.1 L370.2,68.8 L370.4,69.6 L370.6,70.3 L370.8,71.1 L370.9,71.8 L371.1,72.5 L371.3,73.2 L371.4,73.8 L371.6,74.4 L371.8,74.9 L372.0,75.4 L372.2,75.8 L372.3,76.2 L372.5,76.5 L372.7,76.7 L372.9,76.8 L373.1,76.9 L373.2,76.9 L373.4,76.8 L373.6,76.6 L373.8,76.4 L374.0,76.1 L374.1,75.7 L374.3,75.3 L374.5,74.8 L374.7,74.3 L374.9,73.8 L375.1,73.2 L375.3,72.6 L375.4,71.9 L375.6,71.3 L375.8,70.6 L376.0,70.0 L376.2,69.3 L376.4,68.7 L376.6,68.1 L376.8,67.6 L377.0,67.0 L377.2,66.6 L377.3,66.2 L377.5,65.8 L377.7,65.5 L377.9,65.3 L378.1,65.2 L378.3,65.1 L378.5,65.1 L378.7,65.1 L378.9,65.3 L379.1,65.5 L379.3,65.8 L379.5,66.1 L379.7,66.6 L379.9,67.0 L380.1,67.6 L380.3,68.2 L380.5,68.8 L380.7,69.4 L380.9,70.1 L381.1,70.8 L381.3,71.5 L381.5,72.3 L381.7,73.0 L381.9,73.7 L382.1,74.4 L382.3,75.1 L382.5,75.7 L382.7,76.3 L382.9,76.8 L383.1,77.3 L383.3,77.8 L383.5,78.1 L383.7,78.4 L383.9,78.7 L384.1,78.8 L384.3,78.9 L384.5,78.9 L384.7,78.9 L384.9,78.7 L385.1,78.5 L385.3,78.2 L385.6,77.9 L385.8,77.5 L386.0,77.0 L386.2,76.5 L386.4,76.0 L386.6,75.4 L386.8,74.7 L387.0,74.1 L387.2,73.4 L387.4,72.7 L387.6,72.0 L387.8,71.4 L388.0,70.7 L388.3,70.1 L388.5,69.5 L388.7,68.9 L388.9,68.4 L389.1,67.9 L389.3,67.5 L389.5,67.2 L389.7,66.9 L389.9,66.6 L390.1,66.5 L390.4,66.4 L390.6,66.4 L390.8,66.5 L391.0,66.6 L391.2,66.8 L391.4,67.1 L391.6,67.5 L391.8,67.9 L392.0,68.4 L392.3,68.9 L392.5,69.5 L392.7,70.1 L392.9,70.7 L393.1,71.4 L393.3,72.1 L393.5,72.8 L393.7,73.5 L394.0,74.2 L394.2,74.8 L394.4,75.5 L394.6,76.1 L394.8,76.7 L395.0,77.3 L395.2,77.8 L395.4,78.2 L395.6,78.6 L395.9,78.9 L396.1,79.2 L396.3,79.3 L396.5,79.4 L396.7,79.5 L396.9,79.4 L397.1,79.3 L397.3,79.1 L397.6,78.9 L397.8,78.5 L398.0,78.1 L398.2,77.7 L398.4,77.2 L398.6,76.6 L398.8,76.0 L399.0,75.4 L399.2,74.7 L399.5,74.0 L399.7,73.3 L399.9,72.6 L400.1,71.9 L400.3,71.2 L400.5,70.5 L400.7,69.9 L400.9,69.3 L401.1,68.7 L401.3,68.2 L401.6,67.7 L401.8,67.3 L402.0,66.9 L402.2,66.6 L402.4,66.4 L402.6,66.2 L402.8,66.2 L403.0,66.2 L403.2,66.2 L403.4,66.4 L403.6,66.6 L403.8,66.9 L404.0,67.2 L404.3,67.6 L404.5,68.1 L404.7,68.6 L404.9,69.2 L405.1,69.8 L405.3,70.4 L405.5,71.0 L405.7,71.7 L405.9,72.4 L406.1,73.0 L406.3,73.7 L406.5,74.4 L406.7,75.0 L406.9,75.6 L407.1,76.1 L407.3,76.6 L407.5,77.1 L407.7,77.5 L407.9,77.8 L408.1,78.1 L408.3,78.3 L408.5,78.4 L408.7,78.5 L408.9,78.4 L409.1,78.3 L409.3,78.2 L409.5,77.9 L409.7,77.6 L409.9,77.2 L410.1,76.8 L410.3,76.3 L410.5,75.7 L410.7,75.1 L410.9,74.5 L411.1,73.8 L411.3,73.1 L411.5,72.4 L411.7,71.7 L411.9,70.9 L412.1,70.2 L412.3,69.5 L412.4,68.8 L412.6,68.1 L412.8,67.5 L413.0,66.9 L413.2,66.4 L413.4,65.9 L413.6,65.5 L413.8,65.1 L414.0,64.8 L414.2,64.6 L414.3,64.4 L414.5,64.4 L414.7,64.4 L414.9,64.4 L415.1,64.6 L415.3,64.8 L415.5,65.1 L415.6,65.4 L415.8,65.8 L416.0,66.3 L416.2,66.8 L416.4,67.3 L416.5,67.9 L416.7,68.5 L416.9,69.2 L417.1,69.8 L417.3,70.5 L417.4,71.1 L417.6,71.7 L417.8,72.3 L418.0,72.9 L418.2,73.5 L418.3,74.0 L418.5,74.5 L418.7,74.9 L418.8,75.2 L419.0,75.5 L419.2,75.7 L419.4,75.9 L419.5,75.9 L419.7,76.0 M420.0,75.7 L420.2,75.5 L420.4,75.2 L420.5,74.9 L420.7,74.4 L420.9,73.9 L421.0,73.4 L421.2,72.8 L421.4,72.2 L421.5,71.5 L421.7,70.8 L421.9,70.0 L422.0,69.3 L422.2,68.5 L422.3,67.8 L422.5,67.0 L422.6,66.3 L422.8,65.6 L423.0,64.9 L423.1,64.3 L423.3,63.7 L423.4,63.2 L423.6,62.7 L423.7,62.3 L423.9,61.9 L424.0,61.6 L424.2,61.4 L424.3,61.2 L424.5,61.2 L424.6,61.2 L424.8,61.3 L424.9,61.4 L425.1,61.6 L425.2,61.9 L425.4,62.2 L425.5,62.7 L425.6,63.1 L425.8,63.6 L425.9,64.1 L426.1,64.7 L426.2,65.3 L426.3,65.9 L426.5,66.6 L426.6,67.2 L426.8,67.8 L426.9,68.4 L427.0,69.0 L427.2,69.6 L427.3,70.1 L427.4,70.5 L427.5,71.0 L427.7,71.3 M429.3,69.8 L429.4,69.3 L429.5,68.6 L429.6,68.0 L429.8,67.3 L429.9,66.5 L430.0,65.8 L430.1,65.0 L430.2,64.2 L430.3,63.5 L430.4,62.7 L430.5,62.0 L430.6,61.2 L430.7,60.6 L430.9,59.9 L431.0,59.3 L431.1,58.8 L431.2,58.3 L431.3,57.9 L431.4,57.5 L431.5,57.3 L431.6,57.1 L431.7,56.9 L431.8,56.9 L431.9,56.9 L432.0,57.0 L432.0,57.1 L432.1,57.4 L432.2,57.6 L432.3,58.0 L432.4,58.4 L432.5,58.9 L432.6,59.4 L432.7,59.9 L432.8,60.5 L432.9,61.1 L432.9,61.7 L433.0,62.3 L433.1,62.9 L433.2,63.5 L433.3,64.1 L433.3,64.6 L433.4,65.2 L433.5,65.7 M434.7,64.2 L434.7,63.6 L434.8,62.9 L434.8,62.2 L434.9,61.4 L434.9,60.6 L435.0,59.8 L435.1,59.1 L435.1,58.3 L435.2,57.5 L435.2,56.8 L435.3,56.1 L435.3,55.4 L435.3,54.8 L435.4,54.2 L435.4,53.7 L435.5,53.2 L435.5,52.8 L435.6,52.5 L435.6,52.2 L435.6,52.0 L435.7,51.9 L435.7,51.8 L435.8,51.9 L435.8,52.0 L435.8,52.2 L435.9,52.4 L435.9,52.7 L435.9,53.1 L435.9,53.5 L436.0,54.0 L436.0,54.5 L436.0,55.0 L436.1,55.6 L436.1,56.2 L436.1,56.8 L436.1,57.4 L436.1,58.0 L436.2,58.6 L436.2,59.1 L436.2,59.7 L436.2,60.2 M358.9,41.1 L358.9,41.9 L358.9,42.7 L358.9,43.6 L358.9,44.5 L358.9,45.5 L358.9,46.5 L358.9,47.4 L358.9,48.4 L359.0,49.4 L359.0,50.4 L359.0,51.3 L359.0,52.2 M359.5,54.3 L359.5,53.6 L359.6,52.9 L359.6,52.1 L359.6,51.3 L359.7,50.5 L359.7,49.7 L359.8,48.8 L359.8,48.0 L359.8,47.2 L359.9,46.4 L359.9,45.7 L360.0,45.0 L360.0,44.4 L360.1,43.8 L360.1,43.3 L360.2,42.9 L360.2,42.6 L360.3,42.3 L360.3,42.2 L360.4,42.1 L360.4,42.2 L360.5,42.3 L360.5,42.6 L360.6,42.9 L360.7,43.3 L360.7,43.8 L360.8,44.4 L360.8,45.1 L360.9,45.8 L361.0,46.6 L361.0,47.5 L361.1,48.4 L361.2,49.3 L361.2,50.3 L361.3,51.3 L361.3,52.3 L361.4,53.3 L361.5,54.2 L361.6,55.1 L361.6,56.0 L361.7,56.9 L361.8,57.7 M363.0,59.0 L363.1,58.3 L363.2,57.6 L363.3,56.9 L363.4,56.1 L363.5,55.3 L363.6,54.5 L363.7,53.6 L363.8,52.8 L363.9,52.0 L363.9,51.1 L364.0,50.4 L364.1,49.6 L364.2,49.0 L364.3,48.4 L364.4,47.8 L364.5,47.3 L364.6,46.9 L364.7,46.6 L364.8,46.4 L364.9,46.3 L365.0,46.3 L365.1,46.3 L365.2,46.5 L365.3,46.8 L365.5,47.1 L365.6,47.6 L365.7,48.1 L365.8,48.7 L365.9,49.4 L366.0,50.2 L366.1,51.0 L366.2,51.8 L366.3,52.8 L366.4,53.7 L366.6,54.7 L366.7,55.6 L366.8,56.6 L366.9,57.6 L367.0,58.5 L367.1,59.4 L367.2,60.3 L367.4,61.1 L367.5,61.9 L367.6,62.6 L367.7,63.2 M369.1,64.1 L369.2,63.6 L369.4,63.1 L369.5,62.4 L369.6,61.8 L369.7,61.0 L369.9,60.2 L370.0,59.4 L370.1,58.6 L370.3,57.7 L370.4,56.9 L370.5,56.0 L370.7,55.2 L370.8,54.4 L371.0,53.6 L371.1,52.9 L371.2,52.2 L371.4,51.6 L371.5,51.1 L371.7,50.6 L371.8,50.2 L371.9,49.9 L372.1,49.8 L372.2,49.6 L372.4,49.6 L372.5,49.7 L372.6,49.9 L372.8,50.2 L372.9,50.6 L373.1,51.0 L373.2,51.6 L373.4,52.2 L373.5,52.9 L373.7,53.7 L373.8,54.5 L374.0,55.4 L374.1,56.3 L374.3,57.2 L374.4,58.1 L374.6,59.1 L374.7,60.0 L374.9,61.0 L375.0,61.9 L375.2,62.8 L375.3,63.6 L375.5,64.4 L375.7,65.1 L375.8,65.8 L376.0,66.3 L376.1,66.8 L376.3,67.3 L376.4,67.6 L376.6,67.8 L376.8,67.9 L376.9,67.9 L377.1,67.9 L377.2,67.7 L377.4,67.5 L377.6,67.1 L377.7,66.7 L377.9,66.1 L378.0,65.6 L378.2,64.9 L378.4,64.2 L378.5,63.4 L378.7,62.6 L378.9,61.8 L379.0,60.9 L379.2,60.0 L379.3,59.1 L379.5,58.3 L379.7,57.4 L379.8,56.6 L380.0,55.8 L380.2,55.1 L380.4,54.4 L380.5,53.8 L380.7,53.3 L380.9,52.9 L381.0,52.5 L381.2,52.2 L381.4,52.0 L381.5,51.9 L381.7,51.9 L381.9,52.1 L382.1,52.3 L382.2,52.6 L382.4,52.9 L382.6,53.4 L382.7,54.0 L382.9,54.6 L383.1,55.3 L383.3,56.1 L383.4,56.9 L383.6,57.7 L383.8,58.6 L384.0,59.5 L384.1,60.5 L384.3,61.4 L384.5,62.3 L384.7,63.2 L384.8,64.1 L385.0,65.0 L385.2,65.8 L385.4,66.5 L385.5,67.2 L385.7,67.8 L385.9,68.3 L386.1,68.8 L386.3,69.1 L386.4,69.4 L386.6,69.5 L386.8,69.6 L387.0,69.6 L387.1,69.5 L387.3,69.2 L387.5,68.9 L387.7,68.5 L387.9,68.0 L388.0,67.5 L388.2,66.8 L388.4,66.1 L388.6,65.4 L388.8,64.5 L389.0,63.7 L389.1,62.8 L389.3,61.9 L389.5,61.0 L389.7,60.1 L389.9,59.3 L390.0,58.4 L390.2,57.6 L390.4,56.8 L390.6,56.1 L390.8,55.4 L391.0,54.8 L391.1,54.3 L391.3,53.8 L391.5,53.5 L391.7,53.2 L391.9,53.0 L392.0,53.0 L392.2,53.0 L392.4,53.1 L392.6,53.3 L392.8,53.6 L393.0,54.0 L393.1,54.5 L393.3,55.1 L393.5,55.7 L393.7,56.4 L393.9,57.2 L394.1,58.0 L394.2,58.8 L394.4,59.7 L394.6,60.6 L394.8,61.5 L395.0,62.4 L395.2,63.3 L395.4,64.2 L395.5,65.0 L395.7,65.8 L395.9,66.6 L396.1,67.3 L396.3,67.9 L396.5,68.5 L396.6,68.9 L396.8,69.3 L397.0,69.6 L397.2,69.8 L397.4,69.9 L397.6,69.9 L397.7,69.9 L397.9,69.7 L398.1,69.4 L398.3,69.0 L398.5,68.6 L398.6,68.0 L398.8,67.4 L399.0,66.7 L399.2,66.0 L399.4,65.2 L399.6,64.3 L399.7,63.4 L399.9,62.5 L400.1,61.6 L400.3,60.7 L400.5,59.8 L400.6,58.9 L400.8,58.0 L401.0,57.2 L401.2,56.4 L401.4,55.7 L401.6,55.0 L401.7,54.4 L401.9,53.9 L402.1,53.4 L402.3,53.1 L402.5,52.8 L402.6,52.7 L402.8,52.6 L403.0,52.6 L403.2,52.8 L403.3,53.0 L403.5,53.3 L403.7,53.7 L403.9,54.2 L404.1,54.8 L404.2,55.4 L404.4,56.1 L404.6,56.9 L404.8,57.7 L404.9,58.5 L405.1,59.4 L405.3,60.3 L405.5,61.1 L405.6,62.0 L405.8,62.9 L406.0,63.7 L406.2,64.5 L406.3,65.3 L406.5,66.0 L406.7,66.7 L406.9,67.2 L407.0,67.8 L407.2,68.2 L407.4,68.5 L407.5,68.7 L407.7,68.9 L407.9,68.9 L408.1,68.9 L408.2,68.7 L408.4,68.5 L408.6,68.2 L408.7,67.7 L408.9,67.2 L409.1,66.6 L409.2,66.0 L409.4,65.2 L409.6,64.4 L409.8,63.6 L409.9,62.7 L410.1,61.8 L410.3,60.9 L410.4,59.9 L410.6,59.0 L410.7,58.1 L410.9,57.1 L411.1,56.3 L411.2,55.4 L411.4,54.6 L411.6,53.9 L411.7,53.2 L411.9,52.6 L412.0,52.1 L412.2,51.7 L412.4,51.4 L412.5,51.1 L412.7,51.0 L412.8,50.9 L413.0,51.0 L413.2,51.1 L413.3,51.4 L413.5,51.7 L413.6,52.1 L413.8,52.6 L413.9,53.2 L414.1,53.8 L414.3,54.5 L414.4,55.3 L414.6,56.1 L414.7,56.9 L414.9,57.7 L415.0,58.6 L415.2,59.5 L415.3,60.3 L415.5,61.2 L415.6,62.0 L415.8,62.7 L415.9,63.5 L416.1,64.1 L416.2,64.7 L416.4,65.3 L416.5,65.7 L416.7,66.1 L416.8,66.4 L417.0,66.6 M417.7,66.0 L417.8,65.6 L417.9,65.2 L418.1,64.6 L418.2,64.0 L418.4,63.3 L418.5,62.5 L418.6,61.7 L418.8,60.8 L418.9,59.9 L419.1,58.9 L419.2,58.0 L419.3,57.0 L419.5,56.0 L419.6,55.1 L419.7,54.2 L419.9,53.3 L420.0,52.4 L420.1,51.7 L420.2,50.9 L420.4,50.3 L420.5,49.7 L420.6,49.2 L420.8,48.8 L420.9,48.5 L421.0,48.2 L421.1,48.1 L421.3,48.1 L421.4,48.1 L421.5,48.3 L421.6,48.5 L421.8,48.9 L421.9,49.3 L422.0,49.8 L422.1,50.4 L422.2,51.0 L422.4,51.7 L422.5,52.5 L422.6,53.3 L422.7,54.1 L422.8,54.9 L422.9,55.8 L423.0,56.6 L423.2,57.5 L423.3,58.3 L423.4,59.1 L423.5,59.8 L423.6,60.5 L423.7,61.1 L423.8,61.7 M425.3,60.2 L425.4,59.5 L425.5,58.7 L425.6,57.8 L425.7,56.9 L425.7,56.0 L425.8,55.0 L425.9,54.0 L426.0,53.1 L426.1,52.1 L426.2,51.1 L426.3,50.2 L426.4,49.3 L426.5,48.5 L426.6,47.7 L426.6,47.0 L426.7,46.3 L426.8,45.8 L426.9,45.3 L427.0,44.9 L427.1,44.6 L427.1,44.4 L427.2,44.3 L427.3,44.3 L427.4,44.4 L427.5,44.5 L427.5,44.8 L427.6,45.2 L427.7,45.6 L427.8,46.1 L427.8,46.7 L427.9,47.4 L428.0,48.1 L428.0,48.8 L428.1,49.6 L428.2,50.5 L428.3,51.3 L428.3,52.1 L428.4,53.0 L428.4,53.8 L428.5,54.6 L428.6,55.3 L428.6,56.0 L428.7,56.7 M429.6,55.0 L429.7,54.1 L429.7,53.3 L429.8,52.3 L429.8,51.4 L429.8,50.4 L429.9,49.4 L429.9,48.4 L430.0,47.4 L430.0,46.5 L430.0,45.6 L430.1,44.7 L430.1,43.9 L430.1,43.1 L430.2,42.4 L430.2,41.8 L430.2,41.2 L430.3,40.8 L430.3,40.4 L430.3,40.1 L430.4,40.0 L430.4,39.9 L430.4,39.9 L430.4,40.0 L430.5,40.2 L430.5,40.5 L430.5,40.9 L430.5,41.4 L430.6,41.9 L430.6,42.5 L430.6,43.2 L430.6,43.9 L430.6,44.7 L430.6,45.5 L430.7,46.3 L430.7,47.1 L430.7,48.0 L430.7,48.8 L430.7,49.6 L430.7,50.4 L430.7,51.1 L430.7,51.8 M366.4,44.4 L366.4,43.4 L366.4,42.3 L366.4,41.1 L366.4,40.0 L366.4,38.8 L366.4,37.5 L366.5,36.3 L366.5,35.1 L366.5,33.9 L366.5,32.8 L366.5,31.7 L366.5,30.8 L366.5,29.8 L366.6,29.0 L366.6,28.3 L366.6,27.7 L366.6,27.3 L366.6,26.9 L366.7,26.7 L366.7,26.6 L366.7,26.7 L366.7,26.9 L366.7,27.2 L366.8,27.7 L366.8,28.3 L366.8,29.0 L366.8,29.9 L366.9,30.8 L366.9,31.8 L366.9,33.0 L366.9,34.1 L367.0,35.4 L367.0,36.7 L367.0,38.0 L367.1,39.4 L367.1,40.7 L367.1,42.0 L367.2,43.3 L367.2,44.6 L367.2,45.8 L367.3,47.0 M368.0,48.6 L368.1,47.6 L368.1,46.5 L368.2,45.4 L368.2,44.3 L368.3,43.1 L368.3,41.8 L368.4,40.6 L368.4,39.4 L368.5,38.2 L368.5,37.0 L368.6,35.9 L368.6,34.9 L368.7,33.9 L368.7,33.0 L368.8,32.3 L368.9,31.6 L368.9,31.0 L369.0,30.6 L369.0,30.3 L369.1,30.1 L369.2,30.1 L369.2,30.2 L369.3,30.5 L369.4,30.8 L369.4,31.4 L369.5,32.0 L369.6,32.8 L369.6,33.6 L369.7,34.6 L369.8,35.6 L369.8,36.8 L369.9,38.0 L370.0,39.3 L370.0,40.6 L370.1,41.9 L370.2,43.2 L370.3,44.6 L370.3,45.9 L370.4,47.2 L370.5,48.4 L370.6,49.6 L370.6,50.7 L370.7,51.7 M371.9,53.2 L371.9,52.3 L372.0,51.4 L372.1,50.4 L372.2,49.3 L372.3,48.2 L372.4,47.0 L372.5,45.8 L372.6,44.5 L372.7,43.3 L372.7,42.1 L372.8,40.9 L372.9,39.7 L373.0,38.6 L373.1,37.6 L373.2,36.7 L373.3,35.8 L373.4,35.1 L373.5,34.4 L373.6,33.9 L373.7,33.5 L373.8,33.2 L373.9,33.1 L374.0,33.1 L374.1,33.3 L374.2,33.6 L374.3,34.0 L374.4,34.5 L374.5,35.2 L374.6,36.0 L374.7,36.9 L374.8,37.9 L374.9,38.9 L375.0,40.1 L375.1,41.3 L375.2,42.6 L375.3,43.9 L375.4,45.2 L375.5,46.5 L375.6,47.9 L375.7,49.2 L375.8,50.4 L376.0,51.6 L376.1,52.8 L376.2,53.8 L376.3,54.8 L376.4,55.7 L376.5,56.4 L376.6,57.1 L376.7,57.6 M377.3,58.2 L377.4,57.9 L377.5,57.4 L377.6,56.9 L377.8,56.2 L377.9,55.4 L378.0,54.6 L378.1,53.6 L378.2,52.5 L378.3,51.4 L378.5,50.2 L378.6,49.0 L378.7,47.8 L378.8,46.5 L378.9,45.3 L379.1,44.1 L379.2,42.9 L379.3,41.7 L379.4,40.6 L379.5,39.6 L379.7,38.7 L379.8,37.9 L379.9,37.1 L380.0,36.5 L380.2,36.0 L380.3,35.7 L380.4,35.5 L380.5,35.4 L380.7,35.4 L380.8,35.6 L380.9,35.9 L381.0,36.4 L381.2,36.9 L381.3,37.6 L381.4,38.5 L381.5,39.4 L381.7,40.4 L381.8,41.5 L381.9,42.6 L382.1,43.9 L382.2,45.1 L382.3,46.4 L382.5,47.7 L382.6,49.0 L382.7,50.3 L382.8,51.6 L383.0,52.8 L383.1,54.0 L383.2,55.1 L383.4,56.1 L383.5,57.0 L383.6,57.9 L383.8,58.6 L383.9,59.1 L384.0,59.6 L384.2,59.9 L384.3,60.1 L384.5,60.2 L384.6,60.1 L384.7,59.8 L384.9,59.5 L385.0,59.0 L385.1,58.4 L385.3,57.7 L385.4,56.8 L385.5,55.9 L385.7,54.9 L385.8,53.8 L386.0,52.6 L386.1,51.4 L386.2,50.2 L386.4,48.9 L386.5,47.7 L386.6,46.4 L386.8,45.2 L386.9,44.0 L387.1,42.8 L387.2,41.7 L387.3,40.7 L387.5,39.8 L387.6,39.0 L387.8,38.3 L387.9,37.7 L388.0,37.3 L388.2,36.9 L388.3,36.8 L388.5,36.7 L388.6,36.8 L388.8,37.0 L388.9,37.3 L389.0,37.8 L389.2,38.4 L389.3,39.2 L389.5,40.0 L389.6,40.9 L389.7,41.9 L389.9,43.0 L390.0,44.2 L390.2,45.4 L390.3,46.7 L390.5,48.0 L390.6,49.3 L390.8,50.6 L390.9,51.8 L391.0,53.1 L391.2,54.3 L391.3,55.4 L391.5,56.4 L391.6,57.4 L391.8,58.3 L391.9,59.0 L392.0,59.7 L392.2,60.2 L392.3,60.6 L392.5,60.8 L392.6,61.0 L392.8,60.9 L392.9,60.8 L393.1,60.5 L393.2,60.1 L393.3,59.5 L393.5,58.8 L393.6,58.1 L393.8,57.2 L393.9,56.2 L394.1,55.1 L394.2,54.0 L394.4,52.8 L394.5,51.6 L394.7,50.3 L394.8,49.0 L394.9,47.7 L395.1,46.4 L395.2,45.2 L395.4,44.0 L395.5,42.9 L395.7,41.8 L395.8,40.8 L396.0,39.9 L396.1,39.1 L396.3,38.4 L396.4,37.9 L396.5,37.5 L396.7,37.2 L396.8,37.0 L397.0,37.0 L397.1,37.1 L397.3,37.3 L397.4,37.7 L397.6,38.2 L397.7,38.8 L397.8,39.6 L398.0,40.4 L398.1,41.4 L398.3,42.4 L398.4,43.5 L398.6,44.7 L398.7,45.9 L398.8,47.2 L399.0,48.5 L399.1,49.7 L399.3,51.0 L399.4,52.2 L399.6,53.4 L399.7,54.6 L399.9,55.7 L400.0,56.7 L400.1,57.6 L400.3,58.4 L400.4,59.1 L400.6,59.7 L400.7,60.1 L400.8,60.5 L401.0,60.6 L401.1,60.7 L401.3,60.6 L401.4,60.4 L401.6,60.0 L401.7,59.5 L401.8,58.9 L402.0,58.2 L402.1,57.4 L402.3,56.4 L402.4,55.4 L402.5,54.3 L402.7,53.1 L402.8,51.9 L403.0,50.6 L403.1,49.3 L403.2,48.0 L403.4,46.7 L403.5,45.4 L403.6,44.2 L403.8,43.0 L403.9,41.8 L404.1,40.8 L404.2,39.8 L404.3,38.9 L404.5,38.2 L404.6,37.5 L404.7,37.0 L404.9,36.6 L405.0,36.3 L405.1,36.2 L405.3,36.2 L405.4,36.3 L405.6,36.6 L405.7,37.0 L405.8,37.5 L406.0,38.2 L406.1,39.0 L406.2,39.8 L406.4,40.8 L406.5,41.9 L406.6,43.0 L406.8,44.1 L406.9,45.4 L407.0,46.6 L407.1,47.9 L407.3,49.1 L407.4,50.4 L407.5,51.6 L407.7,52.7 L407.8,53.8 L407.9,54.9 L408.1,55.8 L408.2,56.7 L408.3,57.4 L408.4,58.1 L408.6,58.6 L408.7,59.0 L408.8,59.2 L408.9,59.4 L409.1,59.3 L409.2,59.2 L409.3,58.9 L409.4,58.5 L409.6,57.9 L409.7,57.3 L409.8,56.5 L409.9,55.6 L410.1,54.6 L410.2,53.5 L410.3,52.3 L410.4,51.1 L410.5,49.9 L410.7,48.6 L410.8,47.2 L410.9,45.9 L411.0,44.6 L411.1,43.3 L411.3,42.1 L411.4,40.9 L411.5,39.8 L411.6,38.7 L411.7,37.8 L411.8,36.9 L412.0,36.2 L412.1,35.5 L412.2,35.0 L412.3,34.7 L412.4,34.4 L412.5,34.3 L412.7,34.4 L412.8,34.6 L412.9,34.9 L413.0,35.3 L413.1,35.9 L413.2,36.6 L413.3,37.3 L413.4,38.2 L413.5,39.2 L413.6,40.3 L413.8,41.4 L413.9,42.6 L414.0,43.8 L414.1,45.0 L414.2,46.3 L414.3,47.5 L414.4,48.7 L414.5,49.9 L414.6,51.0 L414.7,52.1 L414.8,53.1 L414.9,54.0 L415.0,54.8 L415.1,55.5 M416.2,54.6 L416.3,53.8 L416.4,52.8 L416.5,51.8 L416.6,50.7 L416.7,49.5 L416.8,48.2 L416.9,47.0 L416.9,45.6 L417.0,44.3 L417.1,43.0 L417.2,41.7 L417.3,40.4 L417.4,39.1 L417.5,37.9 L417.6,36.8 L417.7,35.8 L417.7,34.9 L417.8,34.0 L417.9,33.3 L418.0,32.7 L418.1,32.3 L418.2,31.9 L418.2,31.7 L418.3,31.7 L418.4,31.8 L418.5,32.0 L418.6,32.3 L418.7,32.8 L418.7,33.4 L418.8,34.1 L418.9,34.9 L419.0,35.8 L419.0,36.8 L419.1,37.9 L419.2,39.0 L419.3,40.2 L419.3,41.4 L419.4,42.6 L419.5,43.9 L419.6,45.1 L419.6,46.3 L419.7,47.4 L419.8,48.5 L419.8,49.6 L419.9,50.5 M420.9,49.4 L421.0,48.3 L421.0,47.2 L421.1,45.9 L421.1,44.7 L421.2,43.4 L421.2,42.0 L421.3,40.7 L421.3,39.3 L421.4,38.0 L421.4,36.7 L421.5,35.5 L421.5,34.3 L421.6,33.3 L421.6,32.3 L421.7,31.3 L421.7,30.6 L421.8,29.9 L421.8,29.3 L421.9,28.9 L421.9,28.6 L422.0,28.4 L422.0,28.4 L422.0,28.5 L422.1,28.8 L422.1,29.2 L422.2,29.7 L422.2,30.3 L422.2,31.1 L422.3,31.9 L422.3,32.9 L422.4,33.9 L422.4,35.0 L422.4,36.1 L422.5,37.3 L422.5,38.5 L422.5,39.7 L422.6,40.9 L422.6,42.1 L422.6,43.3 L422.7,44.4 L422.7,45.5 L422.7,46.5 M423.1,44.4 L423.1,43.2 L423.1,42.0 L423.1,40.7 L423.1,39.3 L423.2,38.0 L423.2,36.6 L423.2,35.3 L423.2,34.0 L423.2,32.7 L423.2,31.5 L423.2,30.4 L423.2,29.3 M373.0,19.0 L373.0,20.3 L373.0,21.7 L373.0,23.2 L373.0,24.8 L373.0,26.4 L373.1,28.0 L373.1,29.7 L373.1,31.3 L373.1,33.0 L373.1,34.5 L373.1,36.1 L373.1,37.5 M373.4,39.6 L373.4,38.4 L373.4,37.0 L373.5,35.6 L373.5,34.1 L373.5,32.5 L373.5,31.0 L373.6,29.4 L373.6,27.9 L373.6,26.4 L373.6,24.9 L373.7,23.5 L373.7,22.2 L373.7,21.0 L373.8,19.9 L373.8,19.0 L373.8,18.1 L373.8,17.5 L373.9,17.0 L373.9,16.6 L373.9,16.4 L374.0,16.4 L374.0,16.6 L374.0,16.9 L374.1,17.4 L374.1,18.1 L374.1,18.9 L374.2,19.9 L374.2,21.0 L374.3,22.2 L374.3,23.6 L374.3,25.0 L374.4,26.5 L374.4,28.1 L374.4,29.7 L374.5,31.3 L374.5,33.0 L374.6,34.6 L374.6,36.2 L374.7,37.8 L374.7,39.3 L374.7,40.7 L374.8,42.0 M375.6,43.0 L375.6,41.8 L375.7,40.5 L375.7,39.1 L375.8,37.6 L375.8,36.1 L375.9,34.6 L375.9,33.0 L376.0,31.4 L376.0,29.9 L376.1,28.4 L376.2,26.9 L376.2,25.6 L376.3,24.3 L376.3,23.1 L376.4,22.1 L376.5,21.2 L376.5,20.4 L376.6,19.8 L376.6,19.3 L376.7,19.0 L376.8,18.9 L376.8,19.0 L376.9,19.2 L376.9,19.6 L377.0,20.2 L377.1,20.9 L377.1,21.7 L377.2,22.7 L377.3,23.9 L377.3,25.2 L377.4,26.5 L377.5,28.0 L377.5,29.5 L377.6,31.1 L377.7,32.7 L377.7,34.3 L377.8,36.0 L377.9,37.6 L378.0,39.2 L378.0,40.7 L378.1,42.2 L378.2,43.6 L378.2,44.9 L378.3,46.0 L378.4,47.1 M379.2,47.9 L379.3,47.0 L379.4,46.0 L379.5,44.8 L379.5,43.6 L379.6,42.2 L379.7,40.8 L379.8,39.3 L379.9,37.7 L379.9,36.2 L380.0,34.6 L380.1,33.0 L380.2,31.5 L380.3,30.0 L380.3,28.6 L380.4,27.2 L380.5,26.0 L380.6,24.9 L380.7,23.8 L380.8,23.0 L380.9,22.2 L380.9,21.7 L381.0,21.3 L381.1,21.0 L381.2,21.0 L381.3,21.1 L381.4,21.3 L381.5,21.8 L381.6,22.4 L381.6,23.2 L381.7,24.1 L381.8,25.1 L381.9,26.3 L382.0,27.6 L382.1,29.0 L382.2,30.4 L382.3,32.0 L382.4,33.6 L382.5,35.2 L382.5,36.8 L382.6,38.5 L382.7,40.1 L382.8,41.6 L382.9,43.1 L383.0,44.5 L383.1,45.9 L383.2,47.1 L383.3,48.2 L383.4,49.2 L383.5,50.0 L383.6,50.7 L383.7,51.2 L383.8,51.6 L383.9,51.7 L384.0,51.7 L384.1,51.6 L384.2,51.2 L384.2,50.7 L384.3,50.1 L384.4,49.2 L384.5,48.3 L384.6,47.2 L384.7,46.0 L384.8,44.7 L384.9,43.3 L385.0,41.8 L385.1,40.3 L385.2,38.7 L385.3,37.1 L385.4,35.6 L385.5,34.0 L385.6,32.5 L385.7,31.0 L385.8,29.6 L385.9,28.3 L386.0,27.0 L386.1,25.9 L386.2,25.0 L386.3,24.1 L386.5,23.5 L386.6,22.9 L386.7,22.6 L386.8,22.4 L386.9,22.4 L387.0,22.5 L387.1,22.8 L387.2,23.3 L387.3,24.0 L387.4,24.8 L387.5,25.7 L387.6,26.8 L387.7,28.0 L387.8,29.4 L387.9,30.8 L388.0,32.2 L388.1,33.8 L388.2,35.4 L388.3,37.0 L388.4,38.6 L388.5,40.2 L388.7,41.8 L388.8,43.3 L388.9,44.8 L389.0,46.2 L389.1,47.5 L389.2,48.6 L389.3,49.7 L389.4,50.6 L389.5,51.3 L389.6,52.0 L389.7,52.4 L389.8,52.7 L389.9,52.8 L390.1,52.7 L390.2,52.5 L390.3,52.0 L390.4,51.5 L390.5,50.7 L390.6,49.9 L390.7,48.8 L390.8,47.7 L390.9,46.4 L391.0,45.1 L391.1,43.6 L391.3,42.1 L391.4,40.6 L391.5,39.0 L391.6,37.4 L391.7,35.8 L391.8,34.2 L391.9,32.7 L392.0,31.2 L392.1,29.8 L392.2,28.5 L392.4,27.3 L392.5,26.3 L392.6,25.3 L392.7,24.6 L392.8,23.9 L392.9,23.4 L393.0,23.1 L393.1,23.0 L393.2,23.0 L393.4,23.2 L393.5,23.6 L393.6,24.1 L393.7,24.8 L393.8,25.7 L393.9,26.7 L394.0,27.8 L394.1,29.0 L394.2,30.3 L394.4,31.8 L394.5,33.3 L394.6,34.8 L394.7,36.4 L394.8,38.0 L394.9,39.6 L395.0,41.2 L395.1,42.7 L395.2,44.2 L395.4,45.7 L395.5,47.0 L395.6,48.2 L395.7,49.3 L395.8,50.3 L395.9,51.2 L396.0,51.8 L396.1,52.4 L396.2,52.7 L396.4,52.9 L396.5,53.0 L396.6,52.8 L396.7,52.5 L396.8,52.0 L396.9,51.4 L397.0,50.6 L397.1,49.6 L397.2,48.5 L397.4,47.3 L397.5,46.0 L397.6,44.6 L397.7,43.1 L397.8,41.6 L397.9,40.0 L398.0,38.4 L398.1,36.8 L398.2,35.2 L398.3,33.6 L398.5,32.1 L398.6,30.6 L398.7,29.3 L398.8,28.0 L398.9,26.8 L399.0,25.8 L399.1,24.9 L399.2,24.1 L399.3,23.6 L399.4,23.1 L399.5,22.9 L399.7,22.8 L399.8,22.8 L399.9,23.1 L400.0,23.5 L400.1,24.1 L400.2,24.8 L400.3,25.7 L400.4,26.7 L400.5,27.9 L400.6,29.1 L400.7,30.5 L400.8,31.9 L400.9,33.4 L401.1,35.0 L401.2,36.6 L401.3,38.2 L401.4,39.8 L401.5,41.3 L401.6,42.8 L401.7,44.3 L401.8,45.7 L401.9,46.9 L402.0,48.1 L402.1,49.2 L402.2,50.1 L402.3,50.9 L402.4,51.5 L402.5,51.9 L402.6,52.2 L402.7,52.4 L402.8,52.3 L402.9,52.1 L403.0,51.7 L403.1,51.1 L403.3,50.4 L403.4,49.5 L403.5,48.5 L403.6,47.4 L403.7,46.1 L403.8,44.8 L403.9,43.3 L404.0,41.8 L404.1,40.2 L404.2,38.6 L404.3,37.0 L404.4,35.4 L404.5,33.8 L404.6,32.2 L404.7,30.7 L404.8,29.2 L404.9,27.9 L405.0,26.6 L405.1,25.5 L405.2,24.5 L405.3,23.7 L405.4,22.9 L405.4,22.4 L405.5,22.0 L405.6,21.8 L405.7,21.8 L405.8,21.9 L405.9,22.2 L406.0,22.6 L406.1,23.3 L406.2,24.1 L406.3,25.0 L406.4,26.0 L406.5,27.2 L406.6,28.5 L406.7,29.9 L406.8,31.3 L406.9,32.8 L407.0,34.4 L407.1,36.0 L407.1,37.5 L407.2,39.1 L407.3,40.6 L407.4,42.1 L407.5,43.5 L407.6,44.9 L407.7,46.1 L407.8,47.2 L407.9,48.2 L408.0,49.1 L408.0,49.8 L408.1,50.3 L408.2,50.7 M408.7,50.1 L408.7,49.4 L408.8,48.7 L408.9,47.7 L409.0,46.7 L409.1,45.5 L409.2,44.1 L409.3,42.7 L409.3,41.3 L409.4,39.7 L409.5,38.1 L409.6,36.5 L409.7,34.8 L409.7,33.2 L409.8,31.6 L409.9,30.0 L410.0,28.5 L410.1,27.1 L410.1,25.8 L410.2,24.6 L410.3,23.5 L410.4,22.5 L410.5,21.7 L410.5,21.0 L410.6,20.5 L410.7,20.2 L410.8,20.0 L410.8,20.0 L410.9,20.2 L411.0,20.6 L411.1,21.1 L411.1,21.8 L411.2,22.6 L411.3,23.5 L411.4,24.6 L411.4,25.8 L411.5,27.1 L411.6,28.5 L411.6,30.0 L411.7,31.5 L411.8,33.1 L411.9,34.6 L411.9,36.2 L412.0,37.7 L412.1,39.3 L412.1,40.7 L412.2,42.1 L412.3,43.4 L412.3,44.6 L412.4,45.6 M413.3,44.1 L413.3,42.9 L413.4,41.5 L413.4,40.1 L413.5,38.6 L413.6,37.0 L413.6,35.4 L413.7,33.7 L413.7,32.1 L413.8,30.4 L413.8,28.8 L413.9,27.3 L413.9,25.8 L414.0,24.4 L414.0,23.1 L414.1,21.9 L414.2,20.9 L414.2,19.9 L414.3,19.2 L414.3,18.6 L414.4,18.1 L414.4,17.8 L414.4,17.7 L414.5,17.8 L414.5,18.0 L414.6,18.4 L414.6,19.0 L414.7,19.7 L414.7,20.6 L414.8,21.6 L414.8,22.7 L414.9,23.9 L414.9,25.3 L414.9,26.7 L415.0,28.2 L415.0,29.7 L415.1,31.2 L415.1,32.8 L415.2,34.4 L415.2,35.9 L415.2,37.4 L415.3,38.8 L415.3,40.1 L415.3,41.4 M415.9,39.8 L415.9,38.4 L416.0,37.0 L416.0,35.4 L416.0,33.8 L416.0,32.2 L416.1,30.5 L416.1,28.9 L416.1,27.2 L416.1,25.7 L416.2,24.1 L416.2,22.7 L416.2,21.3 L416.2,20.0 L416.2,18.9 L416.3,17.9 L416.3,17.0 L416.3,16.3 L416.3,15.7 L416.3,15.3 L416.3,15.1 L416.4,15.1 L416.4,15.2 L416.4,15.5 L416.4,15.9 L416.4,16.6 L416.4,17.3 L416.5,18.2 L416.5,19.3 L416.5,20.4 L416.5,21.7 L416.5,23.1 L416.5,24.5 L416.5,26.0 L416.5,27.5 L416.5,29.1 L416.5,30.7 L416.6,32.2 L416.6,33.7 L416.6,35.2 L416.6,36.6 L416.6,37.9 M378.2,18.1 L378.2,19.5 L378.2,20.9 L378.2,22.3 L378.2,23.7 L378.2,25.1 L378.2,26.5 L378.3,27.9 L378.3,29.2 L378.3,30.5 M378.5,32.0 L378.5,30.9 L378.5,29.7 L378.5,28.5 L378.5,27.1 L378.5,25.8 L378.6,24.5 L378.6,23.1 L378.6,21.8 L378.6,20.4 L378.6,19.2 L378.7,18.0 L378.7,16.9 L378.7,15.8 L378.7,14.9 L378.7,14.1 L378.8,13.4 L378.8,12.8 L378.8,12.3 L378.8,12.0 L378.9,11.9 L378.9,11.9 L378.9,12.1 L378.9,12.4 L378.9,12.8 L379.0,13.4 L379.0,14.1 L379.0,14.9 L379.1,15.9 L379.1,17.0 L379.1,18.1 L379.1,19.4 L379.2,20.7 L379.2,22.0 L379.2,23.4 L379.2,24.9 L379.3,26.3 L379.3,27.7 L379.3,29.1 L379.4,30.4 L379.4,31.7 L379.4,33.0 L379.5,34.1 M380.0,34.7 L380.1,33.6 L380.1,32.5 L380.2,31.3 L380.2,30.0 L380.2,28.6 L380.3,27.3 L380.3,25.9 L380.4,24.6 L380.4,23.2 L380.4,21.9 L380.5,20.7 L380.5,19.5 L380.6,18.4 L380.6,17.4 L380.7,16.5 L380.7,15.7 L380.7,15.1 L380.8,14.5 L380.8,14.1 L380.9,13.9 L380.9,13.8 L381.0,13.9 L381.0,14.1 L381.1,14.4 L381.1,14.9 L381.2,15.5 L381.2,16.3 L381.3,17.2 L381.3,18.2 L381.4,19.3 L381.4,20.4 L381.5,21.7 L381.5,23.0 L381.6,24.4 L381.6,25.8 L381.7,27.2 L381.7,28.6 L381.8,30.0 L381.8,31.4 L381.9,32.7 L381.9,34.0 L382.0,35.2 L382.0,36.3 L382.1,37.3 L382.1,38.2 M382.8,38.7 L382.8,37.9 L382.9,37.0 L382.9,36.0 L383.0,34.9 L383.1,33.7 L383.1,32.5 L383.2,31.2 L383.2,29.8 L383.3,28.5 L383.4,27.1 L383.4,25.8 L383.5,24.4 L383.6,23.1 L383.6,21.9 L383.7,20.7 L383.7,19.7 L383.8,18.7 L383.9,17.8 L383.9,17.1 L384.0,16.5 L384.1,16.0 L384.1,15.6 L384.2,15.4 L384.3,15.4 L384.3,15.5 L384.4,15.7 L384.4,16.1 L384.5,16.7 L384.6,17.3 L384.6,18.1 L384.7,19.0 L384.8,20.1 L384.9,21.2 L384.9,22.4 L385.0,23.7 L385.1,25.0 L385.1,26.4 L385.2,27.8 L385.3,29.2 L385.3,30.6 L385.4,32.0 L385.5,33.3 L385.5,34.6 L385.6,35.9 L385.7,37.0 L385.8,38.1 L385.8,39.0 L385.9,39.8 L386.0,40.6 L386.0,41.1 L386.1,41.6 L386.2,41.8 L386.3,42.0 L386.3,42.0 L386.4,41.8 L386.5,41.5 L386.5,41.1 L386.6,40.5 L386.7,39.8 L386.8,38.9 L386.8,38.0 L386.9,36.9 L387.0,35.8 L387.1,34.5 L387.1,33.3 L387.2,31.9 L387.3,30.6 L387.4,29.2 L387.4,27.8 L387.5,26.5 L387.6,25.1 L387.7,23.9 L387.7,22.6 L387.8,21.5 L387.9,20.5 L388.0,19.5 L388.1,18.7 L388.1,18.0 L388.2,17.4 L388.3,16.9 L388.4,16.6 L388.4,16.5 L388.5,16.5 L388.6,16.6 L388.7,16.9 L388.8,17.4 L388.8,17.9 L388.9,18.6 L389.0,19.5 L389.1,20.4 L389.2,21.5 L389.2,22.6 L389.3,23.8 L389.4,25.1 L389.5,26.5 L389.6,27.9 L389.6,29.3 L389.7,30.7 L389.8,32.0 L389.9,33.4 L390.0,34.7 L390.0,36.0 L390.1,37.2 L390.2,38.3 L390.3,39.3 L390.4,40.2 L390.4,41.0 L390.5,41.6 L390.6,42.1 L390.7,42.5 L390.8,42.7 L390.9,42.8 L390.9,42.7 L391.0,42.5 L391.1,42.1 L391.2,41.6 L391.3,41.0 L391.4,40.2 L391.4,39.3 L391.5,38.3 L391.6,37.2 L391.7,36.0 L391.8,34.8 L391.9,33.5 L391.9,32.1 L392.0,30.7 L392.1,29.4 L392.2,28.0 L392.3,26.6 L392.4,25.3 L392.4,24.0 L392.5,22.8 L392.6,21.7 L392.7,20.7 L392.8,19.8 L392.9,19.0 L392.9,18.3 L393.0,17.7 L393.1,17.3 L393.2,17.1 L393.3,17.0 L393.4,17.0 L393.4,17.2 L393.5,17.5 L393.6,18.0 L393.7,18.6 L393.8,19.4 L393.9,20.2 L394.0,21.2 L394.0,22.3 L394.1,23.5 L394.2,24.7 L394.3,26.0 L394.4,27.3 L394.5,28.7 L394.5,30.1 L394.6,31.5 L394.7,32.9 L394.8,34.2 L394.9,35.5 L395.0,36.7 L395.1,37.9 L395.1,38.9 L395.2,39.9 L395.3,40.7 L395.4,41.5 L395.5,42.1 L395.6,42.5 L395.6,42.8 L395.7,43.0 L395.8,43.0 L395.9,42.8 L396.0,42.5 L396.1,42.1 L396.2,41.5 L396.2,40.8 L396.3,40.0 L396.4,39.1 L396.5,38.0 L396.6,36.9 L396.7,35.7 L396.7,34.4 L396.8,33.0 L396.9,31.7 L397.0,30.3 L397.1,28.9 L397.2,27.5 L397.2,26.1 L397.3,24.8 L397.4,23.6 L397.5,22.4 L397.6,21.3 L397.7,20.3 L397.7,19.4 L397.8,18.6 L397.9,18.0 L398.0,17.5 L398.1,17.1 L398.2,16.9 L398.2,16.8 L398.3,16.9 L398.4,17.2 L398.5,17.5 L398.6,18.1 L398.7,18.7 L398.7,19.5 L398.8,20.4 L398.9,21.4 L399.0,22.5 L399.1,23.7 L399.2,24.9 L399.2,26.2 L399.3,27.6 L399.4,28.9 L399.5,30.3 L399.6,31.7 L399.6,33.1 L399.7,34.4 L399.8,35.6 L399.9,36.8 L400.0,37.9 L400.0,38.9 L400.1,39.8 L400.2,40.6 L400.3,41.3 L400.4,41.8 L400.4,42.2 L400.5,42.5 L400.6,42.5 L400.7,42.5 L400.8,42.3 L400.8,41.9 L400.9,41.4 L401.0,40.8 L401.1,40.1 L401.2,39.2 L401.2,38.2 L401.3,37.1 L401.4,35.9 L401.5,34.6 L401.5,33.3 L401.6,32.0 L401.7,30.6 L401.8,29.2 L401.9,27.8 L401.9,26.4 L402.0,25.0 L402.1,23.7 L402.2,22.5 L402.2,21.3 L402.3,20.2 L402.4,19.3 L402.5,18.4 L402.5,17.7 L402.6,17.1 L402.7,16.6 L402.8,16.3 L402.8,16.1 L402.9,16.1 L403.0,16.2 L403.1,16.5 L403.1,16.9 L403.2,17.5 L403.3,18.2 L403.3,19.0 L403.4,19.9 L403.5,20.9 L403.6,22.1 L403.6,23.3 L403.7,24.5 L403.8,25.8 L403.8,27.2 L403.9,28.6 L404.0,29.9 L404.1,31.3 L404.1,32.6 L404.2,33.9 L404.3,35.1 L404.3,36.3 L404.4,37.4 L404.5,38.3 L404.5,39.2 L404.6,39.9 L404.7,40.5 L404.7,41.0 L404.8,41.3 M405.1,41.1 L405.2,40.7 L405.2,40.2 L405.3,39.5 L405.3,38.7 L405.4,37.7 L405.5,36.7 L405.5,35.5 L405.6,34.3 L405.7,33.0 L405.7,31.7 L405.8,30.3 L405.9,28.9 L405.9,27.5 L406.0,26.1 L406.0,24.7 L406.1,23.3 L406.2,22.1 L406.2,20.8 L406.3,19.7 L406.4,18.6 L406.4,17.7 L406.5,16.9 L406.5,16.2 L406.6,15.6 L406.7,15.2 L406.7,14.9 L406.8,14.8 L406.8,14.8 L406.9,15.0 L406.9,15.3 L407.0,15.8 L407.1,16.4 L407.1,17.1 L407.2,18.0 L407.2,18.9 L407.3,20.0 L407.3,21.1 L407.4,22.3 L407.5,23.6 L407.5,24.9 L407.6,26.3 L407.6,27.7 L407.7,29.0 L407.7,30.4 L407.8,31.7 L407.8,32.9 L407.9,34.1 L407.9,35.2 L408.0,36.2 L408.0,37.2 M408.7,35.8 L408.8,34.7 L408.8,33.5 L408.9,32.3 L408.9,30.9 L408.9,29.6 L409.0,28.2 L409.0,26.8 L409.1,25.3 L409.1,23.9 L409.2,22.5 L409.2,21.2 L409.2,19.9 L409.3,18.7 L409.3,17.6 L409.4,16.6 L409.4,15.7 L409.4,14.9 L409.5,14.3 L409.5,13.8 L409.6,13.4 L409.6,13.2 L409.6,13.1 L409.7,13.2 L409.7,13.4 L409.8,13.7 L409.8,14.2 L409.8,14.9 L409.9,15.6 L409.9,16.5 L409.9,17.5 L410.0,18.6 L410.0,19.8 L410.0,21.0 L410.1,22.3 L410.1,23.6 L410.1,25.0 L410.2,26.3 L410.2,27.7 L410.2,29.0 L410.3,30.3 L410.3,31.5 L410.3,32.7 L410.4,33.8 M410.8,32.3 L410.8,31.1 L410.8,29.9 L410.9,28.5 L410.9,27.1 L410.9,25.7 L410.9,24.3 L410.9,22.9 L411.0,21.5 L411.0,20.1 L411.0,18.8 L411.0,17.5 L411.0,16.3 L411.1,15.3 L411.1,14.3 L411.1,13.4 L411.1,12.7 L411.1,12.1 L411.1,11.6 L411.1,11.3 L411.2,11.1 L411.2,11.1 L411.2,11.2 L411.2,11.5 L411.2,11.9 L411.2,12.4 L411.2,13.1 L411.2,13.9 L411.3,14.8 L411.3,15.9 L411.3,17.0 L411.3,18.2 L411.3,19.4 L411.3,20.7 L411.3,22.1 L411.3,23.4 L411.3,24.8 L411.3,26.1 L411.3,27.4 L411.4,28.7 L411.4,29.9 L411.4,31.0" fill="none" stroke="#787878" stroke-width="0.9" clip-path="url(#cc)"/><path d="M329.60,113.50 C329.62,113.08 329.63,111.90 329.70,111.00 C329.77,110.10 329.85,109.02 330.00,108.10 C330.15,107.18 330.33,106.47 330.60,105.50 C330.87,104.53 331.25,103.30 331.60,102.30 C331.95,101.30 332.28,100.47 332.70,99.50 C333.12,98.53 333.67,97.58 334.10,96.50 C334.53,95.42 334.88,94.18 335.30,93.00 C335.72,91.82 336.15,89.57 336.60,89.40 C337.05,89.23 337.32,93.17 338.00,92.00 C338.68,90.83 340.02,83.57 340.70,82.40 C341.38,81.23 341.62,86.17 342.10,85.00 C342.58,83.83 343.12,76.57 343.60,75.40 C344.08,74.23 344.58,78.83 345.00,78.00 C345.42,77.17 345.68,71.23 346.10,70.40 C346.52,69.57 346.88,74.20 347.50,73.00 C348.12,71.80 349.18,64.40 349.80,63.20 C350.42,62.00 350.63,66.93 351.20,65.80 C351.77,64.67 352.53,57.37 353.20,56.40 C353.87,55.43 354.47,61.20 355.20,60.00 C355.93,58.80 356.87,50.40 357.60,49.20 C358.33,48.00 358.97,53.63 359.60,52.80 C360.23,51.97 360.77,45.03 361.40,44.20 C362.03,43.37 362.75,48.92 363.40,47.80 C364.05,46.68 364.65,38.62 365.30,37.50 C365.95,36.38 366.47,41.87 367.30,41.10 C368.13,40.33 369.47,33.67 370.30,32.90 C371.13,32.13 371.40,37.82 372.30,36.50 C373.20,35.18 374.47,25.08 375.70,25.00 C376.93,24.92 378.78,35.50 379.70,36.00 C380.62,36.50 380.48,31.43 381.20,28.00 C381.92,24.57 383.27,17.65 384.00,15.40 C384.73,13.15 385.02,15.07 385.60,14.50 C386.18,13.93 386.85,11.75 387.50,12.00 C388.15,12.25 388.82,13.88 389.50,16.00 C390.18,18.12 391.13,24.70 391.60,24.70 C392.07,24.70 392.02,18.42 392.30,16.00 C392.58,13.58 392.98,9.87 393.30,10.20 C393.62,10.53 393.92,15.20 394.20,18.00 C394.48,20.80 394.50,27.17 395.00,27.00 C395.50,26.83 396.43,19.60 397.20,17.00 C397.97,14.40 398.90,11.08 399.60,11.40 C400.30,11.72 400.62,18.72 401.40,18.90 C402.18,19.08 403.48,12.65 404.30,12.50 C405.12,12.35 405.67,15.67 406.30,18.00 C406.93,20.33 407.48,25.75 408.10,26.50 C408.72,27.25 408.90,21.82 410.00,22.50 C411.10,23.18 413.70,29.68 414.70,30.60 C415.70,31.52 414.72,26.65 416.00,28.00 C417.28,29.35 421.12,37.35 422.40,38.70 C423.68,40.05 422.95,34.78 423.70,36.10 C424.45,37.42 426.15,45.28 426.90,46.60 C427.65,47.92 427.52,43.17 428.20,44.00 C428.88,44.83 430.32,50.77 431.00,51.60 C431.68,52.43 431.60,47.90 432.30,49.00 C433.00,50.10 434.50,57.10 435.20,58.20 C435.90,59.30 435.82,54.37 436.50,55.60 C437.18,56.83 438.62,64.37 439.30,65.60 C439.98,66.83 440.20,62.03 440.60,63.00 C441.00,63.97 441.30,70.43 441.70,71.40 C442.10,72.37 442.57,67.97 443.00,68.80 C443.43,69.63 443.87,75.57 444.30,76.40 C444.73,77.23 445.05,72.70 445.60,73.80 C446.15,74.90 447.05,81.90 447.60,83.00 C448.15,84.10 448.35,79.02 448.90,80.40 C449.45,81.78 450.35,89.92 450.90,91.30 C451.45,92.68 451.77,88.67 452.20,88.70 C452.63,88.73 453.08,90.53 453.50,91.50 C453.92,92.47 454.20,93.33 454.70,94.50 C455.20,95.67 455.95,97.13 456.50,98.50 C457.05,99.87 457.58,101.28 458.00,102.70 C458.42,104.12 458.73,105.62 459.00,107.00 C459.27,108.38 459.45,109.92 459.60,111.00 C459.75,112.08 459.85,113.08 459.90,113.50 A65.15,26.5 0 0 1 329.6,113.5 Z" fill="none" stroke="#1e1e1e" stroke-width="1.1" stroke-linejoin="round"/>
<defs><clipPath id="fr_all"><path d="M333.5,197 L333.5,192.6 L336,186.7 L340.9,178.7 L347.9,169.8 L354.8,162.8 L362.8,156.4 L369.7,152.9 L375.7,150 L385.6,145.2 L393.3,144.5 L404.9,147.4 L410.9,149.9 L418.8,151.9 L424.8,155.9 L430.7,160.9 L434.7,165.8 L438.7,172.8 L441.7,175.7 L447.6,179.7 L452.6,184.7 L454.6,189.7 L455.6,195.6 L455.6,200 L449,246 L459,249 L459,256 L449,263 L433,257 L400,261 L368,258.5 L346,250.5 L340,216 L333.5,200 Z"/></clipPath><clipPath id="up_back"><rect x="330" y="130" width="140" height="169.2"/></clipPath><clipPath id="up_front"><rect x="330" y="169.2" width="140" height="40"/></clipPath><clipPath id="ev_back"><rect x="330" y="130" width="140" height="65.2"/></clipPath><clipPath id="ev_front"><rect x="330" y="195.2" width="140" height="40"/></clipPath><clipPath id="floorclip"><path d="M342,218 L352,221 L366,216 L400,214.5 L430,216 L437,219 L437,250 L433,255 L400,259.5 L368,257.5 L347,250 Z"/></clipPath></defs>
<g clip-path="url(#fr_all)">
<path d="M342,218 L352,221 L366,216 L400,214.5 L430,216 L437,219 L437,250 L433,255 L400,259.5 L368,257.5 L347,250 Z" fill="#fafafa" stroke="none"/>
<g clip-path="url(#floorclip)">
<path d="M199,209.3 L319,259.7 M229,209.3 L349,259.7 M259,209.3 L379,259.7 M289,209.3 L409,259.7 M319,209.3 L439,259.7 M349,209.3 L469,259.7 M379,209.3 L499,259.7 M409,209.3 L529,259.7 M439,209.3 L559,259.7 M469,209.3 L589,259.7 M499,209.3 L619,259.7 M199,259.7 L319,209.3 M229,259.7 L349,209.3 M259,259.7 L379,209.3 M289,259.7 L409,209.3 M319,259.7 L439,209.3 M349,259.7 L469,209.3 M379,259.7 L499,209.3 M409,259.7 L529,209.3 M439,259.7 L559,209.3 M469,259.7 L589,209.3 M499,259.7 L619,209.3" fill="none" stroke="#4c4c4c" stroke-width="6.6"/>
<path d="M199,209.3 L319,259.7 M229,209.3 L349,259.7 M259,209.3 L379,259.7 M289,209.3 L409,259.7 M319,209.3 L439,259.7 M349,209.3 L469,259.7 M379,209.3 L499,259.7 M409,209.3 L529,259.7 M439,209.3 L559,259.7 M469,209.3 L589,259.7 M499,209.3 L619,259.7 M199,259.7 L319,209.3 M229,259.7 L349,209.3 M259,259.7 L379,209.3 M289,259.7 L409,209.3 M319,259.7 L439,209.3 M349,259.7 L469,209.3 M379,259.7 L499,209.3 M409,259.7 L529,209.3 M439,259.7 L559,209.3 M469,259.7 L589,209.3 M499,259.7 L619,209.3" fill="none" stroke="#d4d4d4" stroke-width="5.2"/>
</g>
<path d="M433,226 L447,238" fill="none" stroke="#4c4c4c" stroke-width="3.90" stroke-linecap="butt" stroke-linejoin="round" /><path d="M433,226 L447,238" fill="none" stroke="#d4d4d4" stroke-width="2.60" stroke-linecap="butt" stroke-linejoin="round" />
<path d="M434,241 L447,233" fill="none" stroke="#4c4c4c" stroke-width="3.70" stroke-linecap="butt" stroke-linejoin="round" /><path d="M434,241 L447,233" fill="none" stroke="#d4d4d4" stroke-width="2.40" stroke-linecap="butt" stroke-linejoin="round" />
<path d="M358,214.5 L368,212 L400,211 L428,212 L440,215" fill="none" stroke="#4c4c4c" stroke-width="5.30" stroke-linecap="butt" stroke-linejoin="round" /><path d="M358,214.5 L368,212 L400,211 L428,212 L440,215" fill="none" stroke="#d4d4d4" stroke-width="4.00" stroke-linecap="butt" stroke-linejoin="round" />
<path d="M345,246 L352,250 L368,255.5 L400,258 L433,254 L447,245.5" fill="none" stroke="#4c4c4c" stroke-width="5.30" stroke-linecap="butt" stroke-linejoin="round" /><path d="M345,246 L352,250 L368,255.5 L400,258 L433,254 L447,245.5" fill="none" stroke="#d4d4d4" stroke-width="4.00" stroke-linecap="butt" stroke-linejoin="round" />
<path d="M378,248.5 L400,249.5 L424,248" fill="none" stroke="#4c4c4c" stroke-width="4.70" stroke-linecap="butt" stroke-linejoin="round" /><path d="M378,248.5 L400,249.5 L424,248" fill="none" stroke="#d4d4d4" stroke-width="3.40" stroke-linecap="butt" stroke-linejoin="round" />
<path d="M357,188 L357,236" fill="none" stroke="#4c4c4c" stroke-width="3.90" stroke-linecap="butt" stroke-linejoin="round" /><path d="M357,188 L357,236" fill="none" stroke="#d4d4d4" stroke-width="2.60" stroke-linecap="butt" stroke-linejoin="round" />
<path d="M373,186 L373,228" fill="none" stroke="#4c4c4c" stroke-width="3.90" stroke-linecap="butt" stroke-linejoin="round" /><path d="M373,186 L373,228" fill="none" stroke="#d4d4d4" stroke-width="2.60" stroke-linecap="butt" stroke-linejoin="round" />
<path d="M420,186 L420,228" fill="none" stroke="#4c4c4c" stroke-width="3.90" stroke-linecap="butt" stroke-linejoin="round" /><path d="M420,186 L420,228" fill="none" stroke="#d4d4d4" stroke-width="2.60" stroke-linecap="butt" stroke-linejoin="round" />
<path d="M436,188 L436,236" fill="none" stroke="#4c4c4c" stroke-width="3.90" stroke-linecap="butt" stroke-linejoin="round" /><path d="M436,188 L436,236" fill="none" stroke="#d4d4d4" stroke-width="2.60" stroke-linecap="butt" stroke-linejoin="round" />
<path d="M342,194 L342,224" fill="none" stroke="#4c4c4c" stroke-width="3.90" stroke-linecap="butt" stroke-linejoin="round" /><path d="M342,194 L342,224" fill="none" stroke="#d4d4d4" stroke-width="2.60" stroke-linecap="butt" stroke-linejoin="round" />
<path d="M451,194 L451,240" fill="none" stroke="#4c4c4c" stroke-width="3.90" stroke-linecap="butt" stroke-linejoin="round" /><path d="M451,194 L451,240" fill="none" stroke="#d4d4d4" stroke-width="2.60" stroke-linecap="butt" stroke-linejoin="round" />
<path d="M357.00,186.00 C357.50,183.67 358.50,176.17 360.00,172.00 C361.50,167.83 363.33,164.17 366.00,161.00 C368.67,157.83 374.33,154.33 376.00,153.00" fill="none" stroke="#4c4c4c" stroke-width="3.90" stroke-linecap="butt" stroke-linejoin="round" /><path d="M357.00,186.00 C357.50,183.67 358.50,176.17 360.00,172.00 C361.50,167.83 363.33,164.17 366.00,161.00 C368.67,157.83 374.33,154.33 376.00,153.00" fill="none" stroke="#d4d4d4" stroke-width="2.60" stroke-linecap="butt" stroke-linejoin="round" />
<path d="M434.00,186.00 C433.50,183.67 432.50,176.17 431.00,172.00 C429.50,167.83 427.83,164.17 425.00,161.00 C422.17,157.83 415.83,154.33 414.00,153.00" fill="none" stroke="#4c4c4c" stroke-width="3.90" stroke-linecap="butt" stroke-linejoin="round" /><path d="M434.00,186.00 C433.50,183.67 432.50,176.17 431.00,172.00 C429.50,167.83 427.83,164.17 425.00,161.00 C422.17,157.83 415.83,154.33 414.00,153.00" fill="none" stroke="#d4d4d4" stroke-width="2.60" stroke-linecap="butt" stroke-linejoin="round" />
<path d="M360,166.5 L392,165" fill="none" stroke="#4c4c4c" stroke-width="3.90" stroke-linecap="butt" stroke-linejoin="round" /><path d="M360,166.5 L392,165" fill="none" stroke="#d4d4d4" stroke-width="2.60" stroke-linecap="butt" stroke-linejoin="round" />
<path d="M399,165 L431,166.5" fill="none" stroke="#4c4c4c" stroke-width="3.90" stroke-linecap="butt" stroke-linejoin="round" /><path d="M399,165 L431,166.5" fill="none" stroke="#d4d4d4" stroke-width="2.60" stroke-linecap="butt" stroke-linejoin="round" />
<path d="M357,177.5 L375,176 L392,178" fill="none" stroke="#4c4c4c" stroke-width="3.90" stroke-linecap="butt" stroke-linejoin="round" /><path d="M357,177.5 L375,176 L392,178" fill="none" stroke="#d4d4d4" stroke-width="2.60" stroke-linecap="butt" stroke-linejoin="round" />
<path d="M399,178 L416,176 L434,177.5" fill="none" stroke="#4c4c4c" stroke-width="3.90" stroke-linecap="butt" stroke-linejoin="round" /><path d="M399,178 L416,176 L434,177.5" fill="none" stroke="#d4d4d4" stroke-width="2.60" stroke-linecap="butt" stroke-linejoin="round" />
<path d="M357,193.5 L395.5,186.8 L424.5,197.8" fill="none" stroke="#4c4c4c" stroke-width="4.90" stroke-linecap="butt" stroke-linejoin="round" /><path d="M357,193.5 L395.5,186.8 L424.5,197.8" fill="none" stroke="#d4d4d4" stroke-width="3.60" stroke-linecap="butt" stroke-linejoin="round" />
<path d="M357,193.5 L395.5,186.8 L424.5,197.8" fill="none" stroke="#8a8a8a" stroke-width="0.5"/>
<path d="M366,201.5 L380,197.5" fill="none" stroke="#4c4c4c" stroke-width="3.90" stroke-linecap="butt" stroke-linejoin="round" /><path d="M366,201.5 L380,197.5" fill="none" stroke="#d4d4d4" stroke-width="2.60" stroke-linecap="butt" stroke-linejoin="round" />
<path d="M412,197.5 L425,202" fill="none" stroke="#4c4c4c" stroke-width="3.90" stroke-linecap="butt" stroke-linejoin="round" /><path d="M412,197.5 L425,202" fill="none" stroke="#d4d4d4" stroke-width="2.60" stroke-linecap="butt" stroke-linejoin="round" />
<path d="M404,159 L428,170" fill="none" stroke="#4c4c4c" stroke-width="3.50" stroke-linecap="butt" stroke-linejoin="round" /><path d="M404,159 L428,170" fill="none" stroke="#d4d4d4" stroke-width="2.20" stroke-linecap="butt" stroke-linejoin="round" />
<path d="M387,159 L363,170" fill="none" stroke="#4c4c4c" stroke-width="3.50" stroke-linecap="butt" stroke-linejoin="round" /><path d="M387,159 L363,170" fill="none" stroke="#d4d4d4" stroke-width="2.20" stroke-linecap="butt" stroke-linejoin="round" />
<path d="M376.00,154.00 C375.25,155.50 372.92,160.00 371.50,163.00 C370.08,166.00 368.75,169.00 367.50,172.00 C366.25,175.00 364.58,179.50 364.00,181.00" fill="none" stroke="#4c4c4c" stroke-width="4.10" stroke-linecap="butt" stroke-linejoin="round" /><path d="M376.00,154.00 C375.25,155.50 372.92,160.00 371.50,163.00 C370.08,166.00 368.75,169.00 367.50,172.00 C366.25,175.00 364.58,179.50 364.00,181.00" fill="none" stroke="#d4d4d4" stroke-width="2.80" stroke-linecap="butt" stroke-linejoin="round" />
<path d="M413.50,154.00 C414.25,155.50 416.58,160.00 418.00,163.00 C419.42,166.00 420.75,169.00 422.00,172.00 C423.25,175.00 424.92,179.50 425.50,181.00" fill="none" stroke="#4c4c4c" stroke-width="4.10" stroke-linecap="butt" stroke-linejoin="round" /><path d="M413.50,154.00 C414.25,155.50 416.58,160.00 418.00,163.00 C419.42,166.00 420.75,169.00 422.00,172.00 C423.25,175.00 424.92,179.50 425.50,181.00" fill="none" stroke="#d4d4d4" stroke-width="2.80" stroke-linecap="butt" stroke-linejoin="round" />
<path d="M333.20,195.20 a61.40,24.80 0 1 0 122.80,0 a61.40,24.80 0 1 0 -122.80,0 Z M337.20,193.60 a57.40,20.90 0 1 0 114.80,0 a57.40,20.90 0 1 0 -114.80,0 Z" fill="#d4d4d4" fill-rule="evenodd" stroke="#4c4c4c" stroke-width="0.65" clip-path="url(#ev_back)"/>
<path d="M353.60,169.20 a41.20,16.40 0 1 0 82.40,0 a41.20,16.40 0 1 0 -82.40,0 Z M357.60,167.90 a37.20,12.60 0 1 0 74.40,0 a37.20,12.60 0 1 0 -74.40,0 Z" fill="#d4d4d4" fill-rule="evenodd" stroke="#4c4c4c" stroke-width="0.65" clip-path="url(#up_back)"/>
<path d="M383.70,148.80 a10.50,4.40 0 1 0 21.00,0 a10.50,4.40 0 1 0 -21.00,0 Z M386.40,148.60 a7.80,2.60 0 1 0 15.60,0 a7.80,2.60 0 1 0 -15.60,0 Z" fill="#d4d4d4" fill-rule="evenodd" stroke="#4c4c4c" stroke-width="0.65" />
<path d="M381,151.5 L394,146.5 L409,151.5" fill="none" stroke="#4c4c4c" stroke-width="3.90" stroke-linecap="butt" stroke-linejoin="round" /><path d="M381,151.5 L394,146.5 L409,151.5" fill="none" stroke="#d4d4d4" stroke-width="2.60" stroke-linecap="butt" stroke-linejoin="round" />
<line x1="393.3" y1="145.5" x2="393.3" y2="151" stroke="#666" stroke-width="0.7"/>
<path d="M349,206 L349,250" fill="none" stroke="#4c4c4c" stroke-width="4.30" stroke-linecap="butt" stroke-linejoin="round" /><path d="M349,206 L349,250" fill="none" stroke="#d4d4d4" stroke-width="3.00" stroke-linecap="butt" stroke-linejoin="round" />
<path d="M365,213 L365,257" fill="none" stroke="#4c4c4c" stroke-width="4.30" stroke-linecap="butt" stroke-linejoin="round" /><path d="M365,213 L365,257" fill="none" stroke="#d4d4d4" stroke-width="3.00" stroke-linecap="butt" stroke-linejoin="round" />
<path d="M432,213 L432,255" fill="none" stroke="#4c4c4c" stroke-width="4.30" stroke-linecap="butt" stroke-linejoin="round" /><path d="M432,213 L432,255" fill="none" stroke="#d4d4d4" stroke-width="3.00" stroke-linecap="butt" stroke-linejoin="round" />
<path d="M447,205 L447,246" fill="none" stroke="#4c4c4c" stroke-width="4.30" stroke-linecap="butt" stroke-linejoin="round" /><path d="M447,205 L447,246" fill="none" stroke="#d4d4d4" stroke-width="3.00" stroke-linecap="butt" stroke-linejoin="round" />
<path d="M336.80,197.00 C337.03,195.33 337.33,190.00 338.20,187.00 C339.07,184.00 340.53,181.42 342.00,179.00 C343.47,176.58 345.17,174.42 347.00,172.50 C348.83,170.58 350.83,169.28 353.00,167.50 C355.17,165.72 357.67,163.45 360.00,161.80 C362.33,160.15 364.50,159.03 367.00,157.60 C369.50,156.17 373.67,153.93 375.00,153.20" fill="none" stroke="#4c4c4c" stroke-width="4.30" stroke-linecap="butt" stroke-linejoin="round" /><path d="M336.80,197.00 C337.03,195.33 337.33,190.00 338.20,187.00 C339.07,184.00 340.53,181.42 342.00,179.00 C343.47,176.58 345.17,174.42 347.00,172.50 C348.83,170.58 350.83,169.28 353.00,167.50 C355.17,165.72 357.67,163.45 360.00,161.80 C362.33,160.15 364.50,159.03 367.00,157.60 C369.50,156.17 373.67,153.93 375.00,153.20" fill="none" stroke="#d4d4d4" stroke-width="3.00" stroke-linecap="butt" stroke-linejoin="round" />
<path d="M348.60,217.00 C348.75,214.83 348.93,208.00 349.50,204.00 C350.07,200.00 350.92,196.50 352.00,193.00 C353.08,189.50 354.47,185.97 356.00,183.00 C357.53,180.03 359.53,177.53 361.20,175.20 C362.87,172.87 364.10,171.07 366.00,169.00 C367.90,166.93 370.43,164.63 372.60,162.80 C374.77,160.97 376.93,159.38 379.00,158.00 C381.07,156.62 382.67,155.53 385.00,154.50 C387.33,153.47 391.67,152.25 393.00,151.80" fill="none" stroke="#4c4c4c" stroke-width="4.70" stroke-linecap="butt" stroke-linejoin="round" /><path d="M348.60,217.00 C348.75,214.83 348.93,208.00 349.50,204.00 C350.07,200.00 350.92,196.50 352.00,193.00 C353.08,189.50 354.47,185.97 356.00,183.00 C357.53,180.03 359.53,177.53 361.20,175.20 C362.87,172.87 364.10,171.07 366.00,169.00 C367.90,166.93 370.43,164.63 372.60,162.80 C374.77,160.97 376.93,159.38 379.00,158.00 C381.07,156.62 382.67,155.53 385.00,154.50 C387.33,153.47 391.67,152.25 393.00,151.80" fill="none" stroke="#d4d4d4" stroke-width="3.40" stroke-linecap="butt" stroke-linejoin="round" />
<path d="M441.50,176.60 C442.50,177.33 445.83,179.27 447.50,181.00 C449.17,182.73 450.52,184.83 451.50,187.00 C452.48,189.17 453.05,191.67 453.40,194.00 C453.75,196.33 453.57,199.83 453.60,201.00" fill="none" stroke="#4c4c4c" stroke-width="4.30" stroke-linecap="butt" stroke-linejoin="round" /><path d="M441.50,176.60 C442.50,177.33 445.83,179.27 447.50,181.00 C449.17,182.73 450.52,184.83 451.50,187.00 C452.48,189.17 453.05,191.67 453.40,194.00 C453.75,196.33 453.57,199.83 453.60,201.00" fill="none" stroke="#d4d4d4" stroke-width="3.00" stroke-linecap="butt" stroke-linejoin="round" />
<path d="M445.80,216.00 C445.58,214.00 445.22,207.83 444.50,204.00 C443.78,200.17 442.67,196.50 441.50,193.00 C440.33,189.50 438.97,185.97 437.50,183.00 C436.03,180.03 434.28,177.53 432.70,175.20 C431.12,172.87 429.73,171.07 428.00,169.00 C426.27,166.93 424.30,164.63 422.30,162.80 C420.30,160.97 418.07,159.38 416.00,158.00 C413.93,156.62 412.90,155.53 409.90,154.50 C406.90,153.47 399.98,152.25 398.00,151.80" fill="none" stroke="#4c4c4c" stroke-width="4.70" stroke-linecap="butt" stroke-linejoin="round" /><path d="M445.80,216.00 C445.58,214.00 445.22,207.83 444.50,204.00 C443.78,200.17 442.67,196.50 441.50,193.00 C440.33,189.50 438.97,185.97 437.50,183.00 C436.03,180.03 434.28,177.53 432.70,175.20 C431.12,172.87 429.73,171.07 428.00,169.00 C426.27,166.93 424.30,164.63 422.30,162.80 C420.30,160.97 418.07,159.38 416.00,158.00 C413.93,156.62 412.90,155.53 409.90,154.50 C406.90,153.47 399.98,152.25 398.00,151.80" fill="none" stroke="#d4d4d4" stroke-width="3.40" stroke-linecap="butt" stroke-linejoin="round" />
<path d="M414.90,185.60 C415.50,186.75 417.23,190.27 418.50,192.50 C419.77,194.73 421.30,196.92 422.50,199.00 C423.70,201.08 424.78,203.00 425.70,205.00 C426.62,207.00 427.62,210.00 428.00,211.00" fill="none" stroke="#4c4c4c" stroke-width="4.10" stroke-linecap="butt" stroke-linejoin="round" /><path d="M414.90,185.60 C415.50,186.75 417.23,190.27 418.50,192.50 C419.77,194.73 421.30,196.92 422.50,199.00 C423.70,201.08 424.78,203.00 425.70,205.00 C426.62,207.00 427.62,210.00 428.00,211.00" fill="none" stroke="#d4d4d4" stroke-width="2.80" stroke-linecap="butt" stroke-linejoin="round" />
<path d="M364.50,217.00 C365.17,215.33 367.00,210.25 368.50,207.00 C370.00,203.75 371.67,200.67 373.50,197.50 C375.33,194.33 377.63,190.95 379.50,188.00 C381.37,185.05 382.98,182.88 384.70,179.80 C386.42,176.72 388.05,172.93 389.80,169.50 C391.55,166.07 393.25,161.58 395.20,159.20 C397.15,156.82 399.28,156.13 401.50,155.20 C403.72,154.27 407.33,153.87 408.50,153.60" fill="none" stroke="#4c4c4c" stroke-width="4.90" stroke-linecap="butt" stroke-linejoin="round" /><path d="M364.50,217.00 C365.17,215.33 367.00,210.25 368.50,207.00 C370.00,203.75 371.67,200.67 373.50,197.50 C375.33,194.33 377.63,190.95 379.50,188.00 C381.37,185.05 382.98,182.88 384.70,179.80 C386.42,176.72 388.05,172.93 389.80,169.50 C391.55,166.07 393.25,161.58 395.20,159.20 C397.15,156.82 399.28,156.13 401.50,155.20 C403.72,154.27 407.33,153.87 408.50,153.60" fill="none" stroke="#d4d4d4" stroke-width="3.60" stroke-linecap="butt" stroke-linejoin="round" />
<path d="M432.00,217.00 C431.42,215.33 429.92,210.25 428.50,207.00 C427.08,203.75 425.42,200.67 423.50,197.50 C421.58,194.33 419.08,190.92 417.00,188.00 C414.92,185.08 413.08,183.00 411.00,180.00 C408.92,177.00 406.83,173.42 404.50,170.00 C402.17,166.58 399.58,161.97 397.00,159.50 C394.42,157.03 391.57,156.18 389.00,155.20 C386.43,154.22 382.83,153.87 381.60,153.60" fill="none" stroke="#4c4c4c" stroke-width="4.90" stroke-linecap="butt" stroke-linejoin="round" /><path d="M432.00,217.00 C431.42,215.33 429.92,210.25 428.50,207.00 C427.08,203.75 425.42,200.67 423.50,197.50 C421.58,194.33 419.08,190.92 417.00,188.00 C414.92,185.08 413.08,183.00 411.00,180.00 C408.92,177.00 406.83,173.42 404.50,170.00 C402.17,166.58 399.58,161.97 397.00,159.50 C394.42,157.03 391.57,156.18 389.00,155.20 C386.43,154.22 382.83,153.87 381.60,153.60" fill="none" stroke="#d4d4d4" stroke-width="3.60" stroke-linecap="butt" stroke-linejoin="round" />
<clipPath id="urtop"><rect x="376" y="140" width="38" height="16"/></clipPath>
<path d="M353.60,169.20 a41.20,16.40 0 1 0 82.40,0 a41.20,16.40 0 1 0 -82.40,0 Z M357.60,167.90 a37.20,12.60 0 1 0 74.40,0 a37.20,12.60 0 1 0 -74.40,0 Z" fill="#d4d4d4" fill-rule="evenodd" stroke="#4c4c4c" stroke-width="0.65" clip-path="url(#urtop)"/>
<path d="M353.60,169.20 a41.20,16.40 0 1 0 82.40,0 a41.20,16.40 0 1 0 -82.40,0 Z M357.60,167.90 a37.20,12.60 0 1 0 74.40,0 a37.20,12.60 0 1 0 -74.40,0 Z" fill="#d4d4d4" fill-rule="evenodd" stroke="#4c4c4c" stroke-width="0.65" clip-path="url(#up_front)"/>
<path d="M333.20,195.20 a61.40,24.80 0 1 0 122.80,0 a61.40,24.80 0 1 0 -122.80,0 Z M337.20,193.60 a57.40,20.90 0 1 0 114.80,0 a57.40,20.90 0 1 0 -114.80,0 Z" fill="#d4d4d4" fill-rule="evenodd" stroke="#4c4c4c" stroke-width="0.65" clip-path="url(#ev_front)"/>
<path d="M441,247.5 L458.5,252" fill="none" stroke="#4c4c4c" stroke-width="5.70" stroke-linecap="butt" stroke-linejoin="round" /><path d="M441,247.5 L458.5,252" fill="none" stroke="#d4d4d4" stroke-width="4.40" stroke-linecap="butt" stroke-linejoin="round" />
<path d="M431,255 L448.5,260" fill="none" stroke="#4c4c4c" stroke-width="5.70" stroke-linecap="butt" stroke-linejoin="round" /><path d="M431,255 L448.5,260" fill="none" stroke="#d4d4d4" stroke-width="4.40" stroke-linecap="butt" stroke-linejoin="round" />
</g>
<path d="M333.50,197.00 C333.52,196.27 333.18,194.32 333.60,192.60 C334.02,190.88 334.78,189.02 336.00,186.70 C337.22,184.38 338.92,181.52 340.90,178.70 C342.88,175.88 345.58,172.45 347.90,169.80 C350.22,167.15 352.32,165.03 354.80,162.80 C357.28,160.57 360.32,158.05 362.80,156.40 C365.28,154.75 367.33,154.10 369.70,152.90 C372.07,151.70 374.35,150.45 377.00,149.20 C379.65,147.95 382.88,146.18 385.60,145.40 C388.32,144.62 391.07,144.53 393.30,144.50 C395.53,144.47 397.07,144.72 399.00,145.20 C400.93,145.68 402.92,146.62 404.90,147.40 C406.88,148.18 408.58,149.10 410.90,149.90 C413.22,150.70 416.48,151.20 418.80,152.20 C421.12,153.20 422.82,154.45 424.80,155.90 C426.78,157.35 429.05,159.22 430.70,160.90 C432.35,162.58 433.45,164.12 434.70,166.00 C435.95,167.88 436.98,170.58 438.20,172.20 C439.42,173.82 440.43,174.45 442.00,175.70 C443.57,176.95 445.90,178.23 447.60,179.70 C449.30,181.17 451.03,182.83 452.20,184.50 C453.37,186.17 454.03,187.85 454.60,189.70 C455.17,191.55 455.43,194.62 455.60,195.60" fill="none" stroke="#1e1e1e" stroke-width="1.2" stroke-linejoin="round"/>
<path d="M340.5,216 L346.8,249.5 L368.2,257.6 L399.5,260.3 L431,257.5" fill="none" stroke="#1e1e1e" stroke-width="1.1" stroke-linejoin="round"/>
<path d="M448.6,206 L448.6,246" fill="none" stroke="#333" stroke-width="0.9"/>
<path d="M335,308 C336.5,301 341,293 348,286 C358,277.5 376,273.2 395,273.2 C414,273.2 432,277.5 442,286 C449,293 453.5,301 455,308 A60,26.5 0 0 1 335,308 Z" fill="#cdcdcd" stroke="none"/>
<path d="M336.34,308.48 L336.46,309.45 L336.67,310.42 L336.96,311.38 L337.34,312.34 L337.80,313.29 L338.35,314.23 L338.99,315.17 L339.70,316.09 L340.50,317.00 L341.37,317.89 L342.33,318.77 L343.36,319.63 L344.47,320.48 L345.66,321.31 L346.92,322.11 L348.24,322.90 L349.64,323.66 L351.10,324.40 L352.63,325.11 L354.22,325.80 L355.87,326.46 L357.58,327.09 L359.35,327.70 L361.16,328.27 L363.03,328.82 L364.94,329.33 L366.90,329.81 L368.90,330.26 L370.94,330.68 L373.01,331.06 L375.12,331.40 L377.25,331.72 L379.41,331.99 L381.60,332.23 L383.80,332.44 L386.02,332.60 L388.25,332.73 L390.50,332.83 L392.75,332.88 L395.00,332.90 L397.25,332.88 L399.50,332.83 L401.75,332.73 L403.98,332.60 L406.20,332.44 L408.40,332.23 L410.59,331.99 L412.75,331.72 L414.88,331.40 L416.99,331.06 L419.06,330.68 L421.10,330.26 L423.10,329.81 L425.06,329.33 L426.97,328.82 L428.84,328.27 L430.65,327.70 L432.42,327.09 L434.13,326.46 L435.78,325.80 L437.37,325.11 L438.90,324.40 L440.36,323.66 L441.76,322.90 L443.08,322.11 L444.34,321.31 L445.53,320.48 L446.64,319.63 L447.67,318.77 L448.63,317.89 L449.50,317.00 L450.30,316.09 L451.01,315.17 L451.65,314.23 L452.20,313.29 L452.66,312.34 L453.04,311.38 L453.33,310.42 L453.54,309.45 L453.66,308.48" fill="none" stroke="#fff" stroke-width="0.9"/>
<path d="M347.17,293.47 L347.00,294.32 L346.91,295.17 L346.91,296.03 L347.00,296.88 L347.17,297.73 L347.42,298.58 L347.76,299.42 L348.18,300.26 L348.69,301.09 L349.28,301.90 L349.95,302.71 L350.70,303.51 L351.53,304.29 L352.43,305.05 L353.41,305.80 L354.47,306.53 L355.59,307.24 L356.79,307.93 L358.05,308.60 L359.38,309.25 L360.78,309.87 L362.23,310.47 L363.74,311.04 L365.31,311.59 L366.93,312.10 L368.61,312.59 L370.32,313.05 L372.09,313.48 L373.89,313.87 L375.73,314.24 L377.61,314.57 L379.52,314.87 L381.45,315.13 L383.41,315.36 L385.40,315.55 L387.40,315.71 L389.41,315.84 L391.43,315.93 L393.46,315.98 L395.50,316.00 L397.54,315.98 L399.57,315.93 L401.59,315.84 L403.60,315.71 L405.60,315.55 L407.59,315.36 L409.55,315.13 L411.48,314.87 L413.39,314.57 L415.27,314.24 L417.11,313.87 L418.91,313.48 L420.68,313.05 L422.39,312.59 L424.07,312.10 L425.69,311.59 L427.26,311.04 L428.77,310.47 L430.22,309.87 L431.62,309.25 L432.95,308.60 L434.21,307.93 L435.41,307.24 L436.53,306.53 L437.59,305.80 L438.57,305.05 L439.47,304.29 L440.30,303.51 L441.05,302.71 L441.72,301.90 L442.31,301.09 L442.82,300.26 L443.24,299.42 L443.58,298.58 L443.83,297.73 L444.00,296.88 L444.09,296.03 L444.09,295.17 L444.00,294.32 L443.83,293.47" fill="none" stroke="#6a6a6a" stroke-width="1.1"/>
<path d="M348.76,291.71 L348.52,292.53 L348.37,293.36 L348.30,294.18 L348.32,295.01 L348.43,295.83 L348.62,296.65 L348.90,297.47 L349.26,298.28 L349.71,299.09 L350.24,299.88 L350.86,300.67 L351.55,301.44 L352.33,302.20 L353.19,302.95 L354.12,303.68 L355.13,304.40 L356.21,305.09 L357.36,305.77 L358.59,306.43 L359.88,307.06 L361.23,307.67 L362.65,308.26 L364.13,308.82 L365.67,309.36 L367.26,309.86 L368.90,310.34 L370.59,310.79 L372.33,311.21 L374.11,311.60 L375.93,311.96 L377.78,312.29 L379.67,312.58 L381.58,312.84 L383.52,313.07 L385.49,313.26 L387.47,313.42 L389.46,313.54 L391.47,313.63 L393.48,313.68 L395.50,313.70 L397.52,313.68 L399.53,313.63 L401.54,313.54 L403.53,313.42 L405.51,313.26 L407.48,313.07 L409.42,312.84 L411.33,312.58 L413.22,312.29 L415.07,311.96 L416.89,311.60 L418.67,311.21 L420.41,310.79 L422.10,310.34 L423.74,309.86 L425.33,309.36 L426.87,308.82 L428.35,308.26 L429.77,307.67 L431.12,307.06 L432.41,306.43 L433.64,305.77 L434.79,305.09 L435.87,304.40 L436.88,303.68 L437.81,302.95 L438.67,302.20 L439.45,301.44 L440.14,300.67 L440.76,299.88 L441.29,299.09 L441.74,298.28 L442.10,297.47 L442.38,296.65 L442.57,295.83 L442.68,295.01 L442.70,294.18 L442.63,293.36 L442.48,292.53 L442.24,291.71" fill="none" stroke="#9a9a9a" stroke-width="0.7"/>
<path d="M350.20,290.29 L349.89,291.09 L349.68,291.89 L349.54,292.69 L349.50,293.50 L349.54,294.31 L349.68,295.11 L349.89,295.91 L350.20,296.71 L350.59,297.50 L351.07,298.29 L351.63,299.06 L352.27,299.83 L353.00,300.58 L353.81,301.32 L354.70,302.04 L355.66,302.75 L356.70,303.44 L357.82,304.11 L359.01,304.76 L360.26,305.39 L361.59,306.00 L362.97,306.58 L364.42,307.14 L365.93,307.67 L367.50,308.18 L369.12,308.65 L370.78,309.10 L372.50,309.52 L374.26,309.91 L376.06,310.27 L377.90,310.59 L379.77,310.88 L381.67,311.14 L383.59,311.37 L385.54,311.56 L387.51,311.72 L389.50,311.84 L391.49,311.93 L393.49,311.98 L395.50,312.00 L397.51,311.98 L399.51,311.93 L401.50,311.84 L403.49,311.72 L405.46,311.56 L407.41,311.37 L409.33,311.14 L411.23,310.88 L413.10,310.59 L414.94,310.27 L416.74,309.91 L418.50,309.52 L420.22,309.10 L421.88,308.65 L423.50,308.18 L425.07,307.67 L426.58,307.14 L428.03,306.58 L429.41,306.00 L430.74,305.39 L431.99,304.76 L433.18,304.11 L434.30,303.44 L435.34,302.75 L436.30,302.04 L437.19,301.32 L438.00,300.58 L438.73,299.83 L439.37,299.06 L439.93,298.29 L440.41,297.50 L440.80,296.71 L441.11,295.91 L441.32,295.11 L441.46,294.31 L441.50,293.50 L441.46,292.69 L441.32,291.89 L441.11,291.09 L440.80,290.29" fill="none" stroke="#e4e4e4" stroke-width="0.7"/>
<path d="M335,308 C336.5,301 341,293 348,286 C358,277.5 376,273.2 395,273.2 C414,273.2 432,277.5 442,286 C449,293 453.5,301 455,308 A60,26.5 0 0 1 335,308 Z" fill="none" stroke="#262626" stroke-width="1.3"/>
<path d="M329.30,386.30 L329.33,384.69 L329.44,383.37 L329.61,382.13 L329.86,380.95 L330.17,379.82 L330.55,378.72 L331.00,377.65 L331.52,376.62 L332.11,375.60 L332.76,374.62 L333.49,373.65 L334.28,372.72 L335.13,371.80 L336.05,370.91 L337.04,370.04 L338.09,369.20 L339.20,368.38 L340.37,367.59 L341.61,366.82 L342.91,366.08 L344.27,365.36 L345.69,364.66 L347.17,364.00 L348.70,363.36 L350.29,362.74 L351.94,362.16 L353.65,361.60 L355.41,361.07 L357.22,360.57 L359.09,360.09 L361.01,359.65 L362.98,359.23 L365.00,358.85 L367.08,358.49 L369.21,358.16 L371.40,357.87 L373.64,357.60 L375.94,357.37 L378.31,357.17 L380.74,356.99 L383.26,356.85 L385.87,356.74 L388.60,356.66 L391.54,356.62 L395.10,356.60 L398.66,356.62 L401.60,356.66 L404.33,356.74 L406.94,356.85 L409.46,356.99 L411.89,357.17 L414.26,357.37 L416.56,357.60 L418.80,357.87 L420.99,358.16 L423.12,358.49 L425.20,358.85 L427.22,359.23 L429.19,359.65 L431.11,360.09 L432.98,360.57 L434.79,361.07 L436.55,361.60 L438.26,362.16 L439.91,362.74 L441.50,363.36 L443.03,364.00 L444.51,364.66 L445.93,365.36 L447.29,366.08 L448.59,366.82 L449.83,367.59 L451.00,368.38 L452.11,369.20 L453.16,370.04 L454.15,370.91 L455.07,371.80 L455.92,372.72 L456.71,373.65 L457.44,374.62 L458.09,375.60 L458.68,376.62 L459.20,377.65 L459.65,378.72 L460.03,379.82 L460.34,380.95 L460.59,382.13 L460.76,383.37 L460.87,384.69 L460.90,386.30  L461.00,386.30 L460.70,389.00 L459.60,391.60 L457.90,393.60 L457.30,395.50 L457.30,413.00 L457.80,415.50 L459.20,418.50 L460.40,421.50 L460.70,423.60  L460.70,423.60 L460.65,424.74 L460.50,425.88 L460.25,427.01 L459.89,428.14 L459.44,429.26 L458.89,430.37 L458.24,431.47 L457.49,432.56 L456.65,433.64 L455.71,434.70 L454.67,435.74 L453.55,436.77 L452.34,437.77 L451.03,438.75 L449.64,439.71 L448.17,440.65 L446.62,441.55 L444.98,442.43 L443.27,443.29 L441.49,444.11 L439.63,444.90 L437.70,445.65 L435.71,446.37 L433.66,447.06 L431.55,447.71 L429.38,448.33 L427.15,448.90 L424.88,449.44 L422.56,449.94 L420.20,450.39 L417.81,450.81 L415.37,451.18 L412.91,451.51 L410.41,451.80 L407.90,452.04 L405.36,452.24 L402.81,452.40 L400.25,452.51 L397.68,452.58 L395.10,452.60 L392.52,452.58 L389.95,452.51 L387.39,452.40 L384.84,452.24 L382.30,452.04 L379.79,451.80 L377.29,451.51 L374.83,451.18 L372.39,450.81 L370.00,450.39 L367.64,449.94 L365.32,449.44 L363.05,448.90 L360.82,448.33 L358.65,447.71 L356.54,447.06 L354.49,446.37 L352.50,445.65 L350.57,444.90 L348.71,444.11 L346.93,443.29 L345.22,442.43 L343.58,441.55 L342.03,440.65 L340.56,439.71 L339.17,438.75 L337.86,437.77 L336.65,436.77 L335.53,435.74 L334.49,434.70 L333.55,433.64 L332.71,432.56 L331.96,431.47 L331.31,430.37 L330.76,429.26 L330.31,428.14 L329.95,427.01 L329.70,425.88 L329.55,424.74 L329.50,423.60  L329.50,423.60 L329.80,421.50 L331.00,418.50 L332.40,415.50 L332.90,413.00 L332.90,395.50 L332.30,393.60 L330.60,391.60 L329.50,389.00 L329.30,386.30 Z" fill="#cdcdcd" stroke="none"/>
<clipPath id="wclip"><path d="M332.9,386.3 A62.2,28.2 0 0 0 457.3,386.3 Z"/></clipPath>
<path d="M333.10,423.60 L333.15,422.48 L333.29,421.36 L333.53,420.24 L333.86,419.13 L334.29,418.02 L334.81,416.92 L335.43,415.84 L336.13,414.76 L336.93,413.70 L337.82,412.66 L338.80,411.63 L339.86,410.62 L341.01,409.63 L342.24,408.66 L343.55,407.71 L344.94,406.79 L346.41,405.89 L347.95,405.03 L349.57,404.19 L351.26,403.38 L353.01,402.60 L354.83,401.85 L356.72,401.14 L358.66,400.46 L360.65,399.82 L362.71,399.21 L364.81,398.65 L366.95,398.12 L369.14,397.63 L371.37,397.18 L373.64,396.77 L375.94,396.40 L378.27,396.07 L380.63,395.79 L383.00,395.55 L385.40,395.35 L387.81,395.20 L390.24,395.09 L392.67,395.02 L395.10,395.00 L397.53,395.02 L399.96,395.09 L402.39,395.20 L404.80,395.35 L407.20,395.55 L409.57,395.79 L411.93,396.07 L414.26,396.40 L416.56,396.77 L418.83,397.18 L421.06,397.63 L423.25,398.12 L425.39,398.65 L427.49,399.21 L429.55,399.82 L431.54,400.46 L433.48,401.14 L435.37,401.85 L437.19,402.60 L438.94,403.38 L440.63,404.19 L442.25,405.03 L443.79,405.89 L445.26,406.79 L446.65,407.71 L447.96,408.66 L449.19,409.63 L450.34,410.62 L451.40,411.63 L452.38,412.66 L453.27,413.70 L454.07,414.76 L454.77,415.84 L455.39,416.92 L455.91,418.02 L456.34,419.13 L456.67,420.24 L456.91,421.36 L457.05,422.48 L457.10,423.60 L457.1,470 L333.1,470 Z" fill="#fff" clip-path="url(#wclip)"/>
<path d="M333.10,423.60 L333.15,422.48 L333.29,421.36 L333.53,420.24 L333.86,419.13 L334.29,418.02 L334.81,416.92 L335.43,415.84 L336.13,414.76 L336.93,413.70 L337.82,412.66 L338.80,411.63 L339.86,410.62 L341.01,409.63 L342.24,408.66 L343.55,407.71 L344.94,406.79 L346.41,405.89 L347.95,405.03 L349.57,404.19 L351.26,403.38 L353.01,402.60 L354.83,401.85 L356.72,401.14 L358.66,400.46 L360.65,399.82 L362.71,399.21 L364.81,398.65 L366.95,398.12 L369.14,397.63 L371.37,397.18 L373.64,396.77 L375.94,396.40 L378.27,396.07 L380.63,395.79 L383.00,395.55 L385.40,395.35 L387.81,395.20 L390.24,395.09 L392.67,395.02 L395.10,395.00 L397.53,395.02 L399.96,395.09 L402.39,395.20 L404.80,395.35 L407.20,395.55 L409.57,395.79 L411.93,396.07 L414.26,396.40 L416.56,396.77 L418.83,397.18 L421.06,397.63 L423.25,398.12 L425.39,398.65 L427.49,399.21 L429.55,399.82 L431.54,400.46 L433.48,401.14 L435.37,401.85 L437.19,402.60 L438.94,403.38 L440.63,404.19 L442.25,405.03 L443.79,405.89 L445.26,406.79 L446.65,407.71 L447.96,408.66 L449.19,409.63 L450.34,410.62 L451.40,411.63 L452.38,412.66 L453.27,413.70 L454.07,414.76 L454.77,415.84 L455.39,416.92 L455.91,418.02 L456.34,419.13 L456.67,420.24 L456.91,421.36 L457.05,422.48 L457.10,423.60" fill="none" stroke="#8a8a8a" stroke-width="0.8" clip-path="url(#wclip)"/>
<clipPath id="wback"><path d="M331.60,386.30 L331.63,384.81 L331.73,383.58 L331.90,382.43 L332.14,381.33 L332.44,380.28 L332.81,379.26 L333.24,378.27 L333.74,377.30 L334.31,376.36 L334.94,375.44 L335.64,374.55 L336.40,373.68 L337.23,372.83 L338.11,372.00 L339.07,371.19 L340.08,370.41 L341.15,369.65 L342.29,368.91 L343.48,368.20 L344.74,367.51 L346.05,366.84 L347.42,366.19 L348.84,365.57 L350.32,364.98 L351.86,364.41 L353.45,363.86 L355.10,363.35 L356.79,362.85 L358.54,362.39 L360.35,361.95 L362.20,361.53 L364.10,361.15 L366.06,360.79 L368.06,360.46 L370.12,360.15 L372.23,359.88 L374.39,359.63 L376.61,359.41 L378.90,359.23 L381.24,359.06 L383.67,358.93 L386.19,358.83 L388.83,358.76 L391.67,358.71 L395.10,358.70 L398.53,358.71 L401.37,358.76 L404.01,358.83 L406.53,358.93 L408.96,359.06 L411.30,359.23 L413.59,359.41 L415.81,359.63 L417.97,359.88 L420.08,360.15 L422.14,360.46 L424.14,360.79 L426.10,361.15 L428.00,361.53 L429.85,361.95 L431.66,362.39 L433.41,362.85 L435.10,363.35 L436.75,363.86 L438.34,364.41 L439.88,364.98 L441.36,365.57 L442.78,366.19 L444.15,366.84 L445.46,367.51 L446.72,368.20 L447.91,368.91 L449.05,369.65 L450.12,370.41 L451.13,371.19 L452.09,372.00 L452.97,372.83 L453.80,373.68 L454.56,374.55 L455.26,375.44 L455.89,376.36 L456.46,377.30 L456.96,378.27 L457.39,379.26 L457.76,380.28 L458.06,381.33 L458.30,382.43 L458.47,383.58 L458.57,384.81 L458.60,386.30 L457.1,423.6 A62,28.6 0 0 0 333.1,423.6 Z"/></clipPath>
<g clip-path="url(#wback)"><line x1="341.8" y1="350" x2="341.8" y2="425" stroke="#7e7e7e" stroke-width="2.0"/><line x1="341.8" y1="350" x2="341.8" y2="425" stroke="#fafafa" stroke-width="1.0"/></g>
<g clip-path="url(#wback)"><line x1="355.4" y1="350" x2="355.4" y2="425" stroke="#7e7e7e" stroke-width="2.0"/><line x1="355.4" y1="350" x2="355.4" y2="425" stroke="#fafafa" stroke-width="1.0"/></g>
<g clip-path="url(#wback)"><line x1="423.8" y1="350" x2="423.8" y2="425" stroke="#7e7e7e" stroke-width="2.0"/><line x1="423.8" y1="350" x2="423.8" y2="425" stroke="#fafafa" stroke-width="1.0"/></g>
<g clip-path="url(#wback)"><line x1="427.2" y1="350" x2="427.2" y2="425" stroke="#7e7e7e" stroke-width="2.0"/><line x1="427.2" y1="350" x2="427.2" y2="425" stroke="#fafafa" stroke-width="1.0"/></g>
<g clip-path="url(#wback)"><line x1="440.2" y1="350" x2="440.2" y2="425" stroke="#7e7e7e" stroke-width="2.0"/><line x1="440.2" y1="350" x2="440.2" y2="425" stroke="#fafafa" stroke-width="1.0"/></g>
<clipPath id="wfront"><path d="M332.9,386.3 A62.2,28.2 0 0 0 457.3,386.3 L457.1,423.6 A62,28.2 0 0 1 333.1,423.6 Z"/></clipPath>
<g clip-path="url(#wfront)"><line x1="347.3" y1="390" x2="347.3" y2="455" stroke="#7e7e7e" stroke-width="2.0"/><line x1="347.3" y1="390" x2="347.3" y2="455" stroke="#fafafa" stroke-width="1.0"/></g>
<g clip-path="url(#wfront)"><line x1="355.5" y1="390" x2="355.5" y2="455" stroke="#7e7e7e" stroke-width="2.0"/><line x1="355.5" y1="390" x2="355.5" y2="455" stroke="#fafafa" stroke-width="1.0"/></g>
<g clip-path="url(#wfront)"><line x1="364.6" y1="390" x2="364.6" y2="455" stroke="#7e7e7e" stroke-width="2.0"/><line x1="364.6" y1="390" x2="364.6" y2="455" stroke="#fafafa" stroke-width="1.0"/></g>
<g clip-path="url(#wfront)"><line x1="432.8" y1="390" x2="432.8" y2="455" stroke="#7e7e7e" stroke-width="2.0"/><line x1="432.8" y1="390" x2="432.8" y2="455" stroke="#fafafa" stroke-width="1.0"/></g>
<g clip-path="url(#wfront)"><line x1="435.4" y1="390" x2="435.4" y2="455" stroke="#7e7e7e" stroke-width="2.0"/><line x1="435.4" y1="390" x2="435.4" y2="455" stroke="#fafafa" stroke-width="1.0"/></g>
<g clip-path="url(#wfront)"><line x1="447.4" y1="390" x2="447.4" y2="455" stroke="#7e7e7e" stroke-width="2.0"/><line x1="447.4" y1="390" x2="447.4" y2="455" stroke="#fafafa" stroke-width="1.0"/></g>
<path d="M331.38,384.16 L331.51,383.01 L331.70,381.92 L331.95,380.87 L332.27,379.85 L332.65,378.87 L333.10,377.91 L333.60,376.98 L334.17,376.07 L334.79,375.18 L335.48,374.32 L336.23,373.47 L337.04,372.64 L337.91,371.84 L338.83,371.06 L339.82,370.30 L340.86,369.56 L341.96,368.84 L343.12,368.14 L344.33,367.46 L345.59,366.81 L346.91,366.18 L348.28,365.57 L349.71,364.98 L351.19,364.42 L352.72,363.88 L354.30,363.37 L355.92,362.88 L357.60,362.41 L359.33,361.97 L361.11,361.56 L362.93,361.17 L364.80,360.80 L366.72,360.47 L368.69,360.15 L370.70,359.87 L372.77,359.61 L374.88,359.38 L377.06,359.17 L379.29,358.99 L381.58,358.84 L383.95,358.72 L386.41,358.62 L388.98,358.56 L391.75,358.51 L395.10,358.50 L398.45,358.51 L401.22,358.56 L403.79,358.62 L406.25,358.72 L408.62,358.84 L410.91,358.99 L413.14,359.17 L415.32,359.38 L417.43,359.61 L419.50,359.87 L421.51,360.15 L423.48,360.47 L425.40,360.80 L427.27,361.17 L429.09,361.56 L430.87,361.97 L432.60,362.41 L434.28,362.88 L435.90,363.37 L437.48,363.88 L439.01,364.42 L440.49,364.98 L441.92,365.57 L443.29,366.18 L444.61,366.81 L445.87,367.46 L447.08,368.14 L448.24,368.84 L449.34,369.56 L450.38,370.30 L451.37,371.06 L452.29,371.84 L453.16,372.64 L453.97,373.47 L454.72,374.32 L455.41,375.18 L456.03,376.07 L456.60,376.98 L457.10,377.91 L457.55,378.87 L457.93,379.85 L458.25,380.87 L458.50,381.92 L458.69,383.01 L458.82,384.16" fill="none" stroke="#7a7a7a" stroke-width="0.8"/>
<path d="M330.23,384.74 L330.33,383.48 L330.50,382.31 L330.73,381.19 L331.03,380.11 L331.39,379.07 L331.82,378.05 L332.31,377.06 L332.86,376.10 L333.48,375.16 L334.17,374.24 L334.91,373.35 L335.72,372.48 L336.59,371.62 L337.52,370.80 L338.51,369.99 L339.57,369.21 L340.68,368.44 L341.85,367.71 L343.08,366.99 L344.36,366.30 L345.70,365.63 L347.10,364.99 L348.56,364.37 L350.06,363.77 L351.62,363.20 L353.24,362.66 L354.90,362.14 L356.62,361.65 L358.39,361.18 L360.20,360.74 L362.07,360.33 L363.99,359.94 L365.96,359.58 L367.98,359.25 L370.04,358.95 L372.16,358.68 L374.34,358.43 L376.57,358.21 L378.85,358.02 L381.21,357.86 L383.64,357.73 L386.17,357.63 L388.82,357.56 L391.66,357.51 L395.10,357.50 L398.54,357.51 L401.38,357.56 L404.03,357.63 L406.56,357.73 L408.99,357.86 L411.35,358.02 L413.63,358.21 L415.86,358.43 L418.04,358.68 L420.16,358.95 L422.22,359.25 L424.24,359.58 L426.21,359.94 L428.13,360.33 L430.00,360.74 L431.81,361.18 L433.58,361.65 L435.30,362.14 L436.96,362.66 L438.58,363.20 L440.14,363.77 L441.64,364.37 L443.10,364.99 L444.50,365.63 L445.84,366.30 L447.12,366.99 L448.35,367.71 L449.52,368.44 L450.63,369.21 L451.69,369.99 L452.68,370.80 L453.61,371.62 L454.48,372.48 L455.29,373.35 L456.03,374.24 L456.72,375.16 L457.34,376.10 L457.89,377.06 L458.38,378.05 L458.81,379.07 L459.17,380.11 L459.47,381.19 L459.70,382.31 L459.87,383.48 L459.97,384.74" fill="none" stroke="#f2f2f2" stroke-width="0.8"/>
<path d="M457.30,386.30 L457.25,387.41 L457.11,388.51 L456.87,389.61 L456.53,390.71 L456.10,391.80 L455.58,392.88 L454.96,393.95 L454.26,395.01 L453.46,396.06 L452.57,397.09 L451.59,398.11 L450.52,399.10 L449.37,400.08 L448.13,401.03 L446.82,401.97 L445.42,402.88 L443.95,403.76 L442.40,404.61 L440.77,405.44 L439.08,406.24 L437.32,407.01 L435.50,407.74 L433.61,408.45 L431.66,409.11 L429.66,409.75 L427.60,410.34 L425.49,410.90 L423.34,411.43 L421.14,411.91 L418.90,412.35 L416.63,412.76 L414.32,413.12 L411.98,413.44 L409.62,413.72 L407.23,413.96 L404.83,414.15 L402.41,414.30 L399.98,414.41 L397.54,414.48 L395.10,414.50 L392.66,414.48 L390.22,414.41 L387.79,414.30 L385.37,414.15 L382.97,413.96 L380.58,413.72 L378.22,413.44 L375.88,413.12 L373.57,412.76 L371.30,412.35 L369.06,411.91 L366.86,411.43 L364.71,410.90 L362.60,410.34 L360.54,409.75 L358.54,409.11 L356.59,408.45 L354.70,407.74 L352.88,407.01 L351.12,406.24 L349.43,405.44 L347.80,404.61 L346.25,403.76 L344.78,402.88 L343.38,401.97 L342.07,401.03 L340.83,400.08 L339.68,399.10 L338.61,398.11 L337.63,397.09 L336.74,396.06 L335.94,395.01 L335.24,393.95 L334.62,392.88 L334.10,391.80 L333.67,390.71 L333.33,389.61 L333.09,388.51 L332.95,387.41 L332.90,386.30" fill="none" stroke="#5e5e5e" stroke-width="0.9"/>
<path d="M456.96,390.95 L456.68,391.97 L456.32,392.99 L455.87,394.01 L455.35,395.01 L454.74,396.01 L454.05,396.99 L453.28,397.97 L452.44,398.93 L451.52,399.87 L450.52,400.80 L449.45,401.71 L448.30,402.61 L447.09,403.48 L445.80,404.34 L444.45,405.17 L443.03,405.98 L441.54,406.76 L439.99,407.52 L438.39,408.25 L436.72,408.96 L435.00,409.63 L433.22,410.28 L431.40,410.90 L429.52,411.49 L427.60,412.04 L425.63,412.57 L423.63,413.06 L421.58,413.52 L419.50,413.94 L417.39,414.33 L415.25,414.68 L413.08,415.00 L410.88,415.28 L408.67,415.52 L406.44,415.73 L404.19,415.90 L401.93,416.03 L399.66,416.12 L397.38,416.18 L395.10,416.20 L392.82,416.18 L390.54,416.12 L388.27,416.03 L386.01,415.90 L383.76,415.73 L381.53,415.52 L379.32,415.28 L377.12,415.00 L374.95,414.68 L372.81,414.33 L370.70,413.94 L368.62,413.52 L366.57,413.06 L364.57,412.57 L362.60,412.04 L360.68,411.49 L358.80,410.90 L356.98,410.28 L355.20,409.63 L353.48,408.96 L351.81,408.25 L350.21,407.52 L348.66,406.76 L347.17,405.98 L345.75,405.17 L344.40,404.34 L343.11,403.48 L341.90,402.61 L340.75,401.71 L339.68,400.80 L338.68,399.87 L337.76,398.93 L336.92,397.97 L336.15,396.99 L335.46,396.01 L334.85,395.01 L334.33,394.01 L333.88,392.99 L333.52,391.97 L333.24,390.95" fill="none" stroke="#f0f0f0" stroke-width="0.8"/>
<path d="M456.69,393.22 L456.35,394.22 L455.92,395.21 L455.41,396.19 L454.83,397.17 L454.17,398.13 L453.44,399.08 L452.63,400.02 L451.74,400.95 L450.79,401.86 L449.76,402.76 L448.67,403.63 L447.50,404.49 L446.27,405.33 L444.97,406.15 L443.61,406.95 L442.19,407.73 L440.70,408.48 L439.16,409.21 L437.56,409.91 L435.91,410.58 L434.20,411.23 L432.45,411.85 L430.64,412.44 L428.79,413.00 L426.90,413.54 L424.97,414.04 L423.00,414.50 L420.99,414.94 L418.95,415.34 L416.88,415.71 L414.78,416.05 L412.66,416.35 L410.52,416.62 L408.35,416.85 L406.17,417.05 L403.97,417.21 L401.76,417.34 L399.55,417.43 L397.32,417.48 L395.10,417.50 L392.88,417.48 L390.65,417.43 L388.44,417.34 L386.23,417.21 L384.03,417.05 L381.85,416.85 L379.68,416.62 L377.54,416.35 L375.42,416.05 L373.32,415.71 L371.25,415.34 L369.21,414.94 L367.20,414.50 L365.23,414.04 L363.30,413.54 L361.41,413.00 L359.56,412.44 L357.75,411.85 L356.00,411.23 L354.29,410.58 L352.64,409.91 L351.04,409.21 L349.50,408.48 L348.01,407.73 L346.59,406.95 L345.23,406.15 L343.93,405.33 L342.70,404.49 L341.53,403.63 L340.44,402.76 L339.41,401.86 L338.46,400.95 L337.57,400.02 L336.76,399.08 L336.03,398.13 L335.37,397.17 L334.79,396.19 L334.28,395.21 L333.85,394.22 L333.51,393.22" fill="none" stroke="#8a8a8a" stroke-width="0.7"/>
<path d="M457.36,422.90 L457.12,423.91 L456.79,424.92 L456.37,425.92 L455.87,426.92 L455.29,427.91 L454.62,428.88 L453.88,429.85 L453.05,430.80 L452.14,431.74 L451.15,432.66 L450.09,433.57 L448.95,434.46 L447.74,435.33 L446.45,436.17 L445.10,437.00 L443.67,437.81 L442.18,438.59 L440.62,439.34 L439.00,440.07 L437.32,440.78 L435.59,441.45 L433.79,442.10 L431.95,442.71 L430.05,443.30 L428.10,443.85 L426.11,444.38 L424.08,444.87 L422.01,445.32 L419.90,445.74 L417.75,446.13 L415.58,446.48 L413.37,446.80 L411.14,447.08 L408.89,447.32 L406.62,447.53 L404.34,447.70 L402.04,447.83 L399.73,447.92 L397.42,447.98 L395.10,448.00 L392.78,447.98 L390.47,447.92 L388.16,447.83 L385.86,447.70 L383.58,447.53 L381.31,447.32 L379.06,447.08 L376.83,446.80 L374.62,446.48 L372.45,446.13 L370.30,445.74 L368.19,445.32 L366.12,444.87 L364.09,444.38 L362.10,443.85 L360.15,443.30 L358.25,442.71 L356.41,442.10 L354.61,441.45 L352.88,440.78 L351.20,440.07 L349.58,439.34 L348.02,438.59 L346.53,437.81 L345.10,437.00 L343.75,436.17 L342.46,435.33 L341.25,434.46 L340.11,433.57 L339.05,432.66 L338.06,431.74 L337.15,430.80 L336.32,429.85 L335.58,428.88 L334.91,427.91 L334.33,426.92 L333.83,425.92 L333.41,424.92 L333.08,423.91 L332.84,422.90" fill="none" stroke="#7a7a7a" stroke-width="0.8"/>
<path d="M458.81,423.28 L458.64,424.35 L458.38,425.42 L458.02,426.48 L457.57,427.54 L457.04,428.59 L456.41,429.62 L455.70,430.65 L454.90,431.66 L454.01,432.66 L453.04,433.65 L451.98,434.61 L450.85,435.56 L449.63,436.49 L448.33,437.40 L446.96,438.28 L445.51,439.15 L443.99,439.98 L442.40,440.79 L440.74,441.57 L439.02,442.33 L437.23,443.05 L435.38,443.75 L433.47,444.41 L431.51,445.04 L429.50,445.63 L427.43,446.20 L425.32,446.72 L423.17,447.21 L420.97,447.67 L418.74,448.09 L416.48,448.46 L414.18,448.81 L411.85,449.11 L409.51,449.37 L407.14,449.59 L404.75,449.77 L402.35,449.92 L399.94,450.02 L397.52,450.08 L395.10,450.10 L392.68,450.08 L390.26,450.02 L387.85,449.92 L385.45,449.77 L383.06,449.59 L380.69,449.37 L378.35,449.11 L376.02,448.81 L373.72,448.46 L371.46,448.09 L369.23,447.67 L367.03,447.21 L364.88,446.72 L362.77,446.20 L360.70,445.63 L358.69,445.04 L356.73,444.41 L354.82,443.75 L352.97,443.05 L351.18,442.33 L349.46,441.57 L347.80,440.79 L346.21,439.98 L344.69,439.15 L343.24,438.28 L341.87,437.40 L340.57,436.49 L339.35,435.56 L338.22,434.61 L337.16,433.65 L336.19,432.66 L335.30,431.66 L334.50,430.65 L333.79,429.62 L333.16,428.59 L332.63,427.54 L332.18,426.48 L331.82,425.42 L331.56,424.35 L331.39,423.28" fill="none" stroke="#f4f4f4" stroke-width="0.8"/>
<path d="M329.30,386.30 L329.33,384.69 L329.44,383.37 L329.61,382.13 L329.86,380.95 L330.17,379.82 L330.55,378.72 L331.00,377.65 L331.52,376.62 L332.11,375.60 L332.76,374.62 L333.49,373.65 L334.28,372.72 L335.13,371.80 L336.05,370.91 L337.04,370.04 L338.09,369.20 L339.20,368.38 L340.37,367.59 L341.61,366.82 L342.91,366.08 L344.27,365.36 L345.69,364.66 L347.17,364.00 L348.70,363.36 L350.29,362.74 L351.94,362.16 L353.65,361.60 L355.41,361.07 L357.22,360.57 L359.09,360.09 L361.01,359.65 L362.98,359.23 L365.00,358.85 L367.08,358.49 L369.21,358.16 L371.40,357.87 L373.64,357.60 L375.94,357.37 L378.31,357.17 L380.74,356.99 L383.26,356.85 L385.87,356.74 L388.60,356.66 L391.54,356.62 L395.10,356.60 L398.66,356.62 L401.60,356.66 L404.33,356.74 L406.94,356.85 L409.46,356.99 L411.89,357.17 L414.26,357.37 L416.56,357.60 L418.80,357.87 L420.99,358.16 L423.12,358.49 L425.20,358.85 L427.22,359.23 L429.19,359.65 L431.11,360.09 L432.98,360.57 L434.79,361.07 L436.55,361.60 L438.26,362.16 L439.91,362.74 L441.50,363.36 L443.03,364.00 L444.51,364.66 L445.93,365.36 L447.29,366.08 L448.59,366.82 L449.83,367.59 L451.00,368.38 L452.11,369.20 L453.16,370.04 L454.15,370.91 L455.07,371.80 L455.92,372.72 L456.71,373.65 L457.44,374.62 L458.09,375.60 L458.68,376.62 L459.20,377.65 L459.65,378.72 L460.03,379.82 L460.34,380.95 L460.59,382.13 L460.76,383.37 L460.87,384.69 L460.90,386.30  L461.00,386.30 L460.70,389.00 L459.60,391.60 L457.90,393.60 L457.30,395.50 L457.30,413.00 L457.80,415.50 L459.20,418.50 L460.40,421.50 L460.70,423.60  L460.70,423.60 L460.65,424.74 L460.50,425.88 L460.25,427.01 L459.89,428.14 L459.44,429.26 L458.89,430.37 L458.24,431.47 L457.49,432.56 L456.65,433.64 L455.71,434.70 L454.67,435.74 L453.55,436.77 L452.34,437.77 L451.03,438.75 L449.64,439.71 L448.17,440.65 L446.62,441.55 L444.98,442.43 L443.27,443.29 L441.49,444.11 L439.63,444.90 L437.70,445.65 L435.71,446.37 L433.66,447.06 L431.55,447.71 L429.38,448.33 L427.15,448.90 L424.88,449.44 L422.56,449.94 L420.20,450.39 L417.81,450.81 L415.37,451.18 L412.91,451.51 L410.41,451.80 L407.90,452.04 L405.36,452.24 L402.81,452.40 L400.25,452.51 L397.68,452.58 L395.10,452.60 L392.52,452.58 L389.95,452.51 L387.39,452.40 L384.84,452.24 L382.30,452.04 L379.79,451.80 L377.29,451.51 L374.83,451.18 L372.39,450.81 L370.00,450.39 L367.64,449.94 L365.32,449.44 L363.05,448.90 L360.82,448.33 L358.65,447.71 L356.54,447.06 L354.49,446.37 L352.50,445.65 L350.57,444.90 L348.71,444.11 L346.93,443.29 L345.22,442.43 L343.58,441.55 L342.03,440.65 L340.56,439.71 L339.17,438.75 L337.86,437.77 L336.65,436.77 L335.53,435.74 L334.49,434.70 L333.55,433.64 L332.71,432.56 L331.96,431.47 L331.31,430.37 L330.76,429.26 L330.31,428.14 L329.95,427.01 L329.70,425.88 L329.55,424.74 L329.50,423.60  L329.50,423.60 L329.80,421.50 L331.00,418.50 L332.40,415.50 L332.90,413.00 L332.90,395.50 L332.30,393.60 L330.60,391.60 L329.50,389.00 L329.30,386.30 Z" fill="none" stroke="#262626" stroke-width="1.3" stroke-linejoin="round"/>
<path d="M447.22,503.88 L447.07,504.04 L446.90,504.16 L446.74,504.22 L446.57,504.25 L446.40,504.25 L446.22,504.22 L446.05,504.17 L445.86,504.43 L445.68,504.94 L445.49,505.43 L445.30,505.89 L445.10,506.32 L444.90,506.71 L444.70,507.06 L444.50,507.36 L444.29,507.60 L444.08,507.79 L443.86,507.92 L443.64,508.01 L443.42,508.05 L443.19,508.06 L442.97,508.03 L442.74,507.98 L442.50,507.92 L442.26,508.29 L442.02,508.78 L441.78,509.25 L441.53,509.69 L441.28,510.10 L441.03,510.46 L440.77,510.78 L440.51,511.04 L440.25,511.25 L439.98,511.41 L439.71,511.52 L439.44,511.58 L439.17,511.59 L438.89,511.57 L438.61,511.52 L438.32,511.45 L438.04,511.37 L437.75,511.84 L437.46,512.30 L437.16,512.75 L436.86,513.16 L436.56,513.54 L436.26,513.87 L435.95,514.15 L435.64,514.39 L435.33,514.56 L435.02,514.69 L434.70,514.76 L434.38,514.79 L434.06,514.77 L433.73,514.72 L433.41,514.64 L433.08,514.54 L432.74,514.56 L432.41,515.01 L432.07,515.45 L431.73,515.86 L431.39,516.24 L431.04,516.58 L430.70,516.88 L430.35,517.13 L429.99,517.32 L429.64,517.46 L429.28,517.55 L428.92,517.59 L428.56,517.58 L428.20,517.52 L427.83,517.44 L427.46,517.33 L427.09,517.20 L426.72,517.32 L426.35,517.74 L425.97,518.15 L425.59,518.53 L425.21,518.87 L424.83,519.18 L424.44,519.44 L424.05,519.64 L423.67,519.80 L423.27,519.90 L422.88,519.94 L422.49,519.94 L422.09,519.89 L421.69,519.80 L421.29,519.68 L420.89,519.53 L420.49,519.37 L420.08,519.60 L419.67,519.99 L419.27,520.36 L418.86,520.70 L418.44,521.01 L418.03,521.27 L417.62,521.49 L417.20,521.65 L416.78,521.76 L416.36,521.82 L415.94,521.82 L415.52,521.78 L415.09,521.69 L414.67,521.56 L414.24,521.40 L413.81,521.22 L413.39,521.02 L412.95,521.35 L412.52,521.70 L412.09,522.03 L411.66,522.33 L411.22,522.60 L410.79,522.82 L410.35,522.99 L409.91,523.11 L409.47,523.18 L409.03,523.19 L408.59,523.15 L408.15,523.06 L407.70,522.93 L407.26,522.76 L406.82,522.56 L406.37,522.34 L405.92,522.20 L405.48,522.53 L405.03,522.85 L404.58,523.14 L404.13,523.40 L403.68,523.62 L403.23,523.80 L402.78,523.93 L402.33,524.00 L401.88,524.02 L401.42,523.99 L400.97,523.90 L400.52,523.77 L400.06,523.59 L399.61,523.38 L399.16,523.14 L398.70,522.89 L398.25,522.84 L397.79,523.13 L397.34,523.41 L396.88,523.66 L396.42,523.88 L395.97,524.06 L395.51,524.19 L395.06,524.27 L394.60,524.30 L394.14,524.27 L393.69,524.19 L393.23,524.06 L392.78,523.88 L392.32,523.66 L391.86,523.41 L391.41,523.13 L390.95,522.84 L390.50,522.89 L390.04,523.14 L389.59,523.38 L389.14,523.59 L388.68,523.77 L388.23,523.90 L387.78,523.99 L387.32,524.02 L386.87,524.00 L386.42,523.93 L385.97,523.80 L385.52,523.62 L385.07,523.40 L384.62,523.14 L384.17,522.85 L383.72,522.53 L383.28,522.20 L382.83,522.34 L382.38,522.56 L381.94,522.76 L381.50,522.93 L381.05,523.06 L380.61,523.15 L380.17,523.19 L379.73,523.18 L379.29,523.11 L378.85,522.99 L378.41,522.82 L377.98,522.60 L377.54,522.33 L377.11,522.03 L376.68,521.70 L376.25,521.35 L375.81,521.02 L375.39,521.22 L374.96,521.40 L374.53,521.56 L374.11,521.69 L373.68,521.78 L373.26,521.82 L372.84,521.82 L372.42,521.76 L372.00,521.65 L371.58,521.49 L371.17,521.27 L370.76,521.01 L370.34,520.70 L369.93,520.36 L369.53,519.99 L369.12,519.60 L368.71,519.37 L368.31,519.53 L367.91,519.68 L367.51,519.80 L367.11,519.89 L366.71,519.94 L366.32,519.94 L365.93,519.90 L365.53,519.80 L365.15,519.64 L364.76,519.44 L364.37,519.18 L363.99,518.87 L363.61,518.53 L363.23,518.15 L362.85,517.74 L362.48,517.32 L362.11,517.20 L361.74,517.33 L361.37,517.44 L361.00,517.52 L360.64,517.58 L360.28,517.59 L359.92,517.55 L359.56,517.46 L359.21,517.32 L358.85,517.13 L358.50,516.88 L358.16,516.58 L357.81,516.24 L357.47,515.86 L357.13,515.45 L356.79,515.01 L356.46,514.56 L356.12,514.54 L355.79,514.64 L355.47,514.72 L355.14,514.77 L354.82,514.79 L354.50,514.76 L354.18,514.69 L353.87,514.56 L353.56,514.39 L353.25,514.15 L352.94,513.87 L352.64,513.54 L352.34,513.16 L352.04,512.75 L351.74,512.30 L351.45,511.84 L351.16,511.37 L350.88,511.45 L350.59,511.52 L350.31,511.57 L350.03,511.59 L349.76,511.58 L349.49,511.52 L349.22,511.41 L348.95,511.25 L348.69,511.04 L348.43,510.78 L348.17,510.46 L347.92,510.10 L347.67,509.69 L347.42,509.25 L347.18,508.78 L346.94,508.29 L346.70,507.92 L346.46,507.98 L346.23,508.03 L346.01,508.06 L345.78,508.05 L345.56,508.01 L345.34,507.92 L345.12,507.79 L344.91,507.60 L344.70,507.36 L344.50,507.06 L344.30,506.71 L344.10,506.32 L343.90,505.89 L343.71,505.43 L343.52,504.94 L343.34,504.43 L343.15,504.17 L342.98,504.22 L342.80,504.25 L342.63,504.25 L342.46,504.22 L342.30,504.16 L342.13,504.04 L341.98,503.88 Z" fill="#fff" stroke="none"/>
<path d="M459.90,487.00 L459.70,489.12 L459.10,491.22 L458.10,493.30 L456.70,495.34 L454.93,497.33 L452.78,499.26 L450.28,501.11 L447.43,502.87 L444.25,504.54 L440.77,506.09 L437.01,507.53 L432.98,508.84 L428.72,510.02 L424.25,511.06 L419.59,511.94 L414.78,512.68 L409.84,513.25 L404.82,513.67 L399.72,513.92 L394.60,514.00 L389.48,513.92 L384.38,513.67 L379.36,513.25 L374.42,512.68 L369.61,511.94 L364.95,511.06 L360.48,510.02 L356.22,508.84 L352.19,507.53 L348.43,506.09 L344.95,504.54 L341.77,502.87 L338.92,501.11 L336.42,499.26 L334.27,497.33 L332.50,495.34 L331.10,493.30 L330.10,491.22 L329.50,489.12 L329.30,487.00 L329.50,484.88 L330.10,482.78 L331.10,480.70 L332.50,478.66 L334.27,476.67 L336.42,474.74 L338.92,472.89 L341.77,471.13 L344.95,469.46 L348.43,467.91 L352.19,466.47 L356.22,465.16 L360.48,463.98 L364.95,462.94 L369.61,462.06 L374.42,461.32 L379.36,460.75 L384.38,460.33 L389.48,460.08 L394.60,460.00 L399.72,460.08 L404.82,460.33 L409.84,460.75 L414.78,461.32 L419.59,462.06 L424.25,462.94 L428.72,463.98 L432.98,465.16 L437.01,466.47 L440.77,467.91 L444.25,469.46 L447.43,471.13 L450.28,472.89 L452.78,474.74 L454.93,476.67 L456.70,478.66 L458.10,480.70 L459.10,482.78 L459.70,484.88 L459.90,487.00 Z" fill="#fff" stroke="none"/>
<clipPath id="lclip"><path d="M457.40,487.00 L457.21,488.96 L456.63,490.91 L455.66,492.84 L454.33,494.73 L452.62,496.57 L450.56,498.35 L448.15,500.06 L445.41,501.69 L442.35,503.24 L439.01,504.68 L435.39,506.01 L431.51,507.23 L427.41,508.32 L423.11,509.28 L418.63,510.10 L414.01,510.78 L409.26,511.31 L404.42,511.69 L399.53,511.92 L394.60,512.00 L389.67,511.92 L384.78,511.69 L379.94,511.31 L375.19,510.78 L370.57,510.10 L366.09,509.28 L361.79,508.32 L357.69,507.23 L353.81,506.01 L350.19,504.68 L346.85,503.24 L343.79,501.69 L341.05,500.06 L338.64,498.35 L336.58,496.57 L334.87,494.73 L333.54,492.84 L332.57,490.91 L331.99,488.96 L331.80,487.00 L331.99,485.04 L332.57,483.09 L333.54,481.16 L334.87,479.27 L336.58,477.43 L338.64,475.65 L341.05,473.94 L343.79,472.31 L346.85,470.76 L350.19,469.32 L353.81,467.99 L357.69,466.77 L361.79,465.68 L366.09,464.72 L370.57,463.90 L375.19,463.22 L379.94,462.69 L384.78,462.31 L389.67,462.08 L394.60,462.00 L399.53,462.08 L404.42,462.31 L409.26,462.69 L414.01,463.22 L418.63,463.90 L423.11,464.72 L427.41,465.68 L431.51,466.77 L435.39,467.99 L439.01,469.32 L442.35,470.76 L445.41,472.31 L448.15,473.94 L450.56,475.65 L452.62,477.43 L454.33,479.27 L455.66,481.16 L456.63,483.09 L457.21,485.04 L457.40,487.00 Z"/></clipPath>
<path d="M435.67,497.63 L434.74,499.34 L433.82,500.70 L432.89,501.70 L431.97,502.36 M430.80,505.99 L429.34,506.87 L427.88,507.40 L426.42,507.57 L424.96,507.40 M418.34,511.41 L416.85,512.07 L415.35,512.39 L413.86,512.36 L412.37,511.98 M401.72,513.94 L400.22,514.49 L398.72,514.69 L397.22,514.54 L395.72,514.04 M384.26,513.30 L382.76,513.75 L381.26,513.84 L379.77,513.58 L378.27,512.97 M369.42,509.77 L367.93,510.06 L366.45,510.00 L364.97,509.60 L363.49,508.84 M359.95,504.48 L358.58,504.39 L357.22,503.95 L355.85,503.15 L354.48,502.01 M352.79,499.47 L354.09,498.34 L355.38,496.87 L356.68,495.04 L357.97,492.86 M357.24,490.45 L359.28,490.48 L361.32,490.16 L363.36,489.50 L365.40,488.48 M369.67,484.87 L371.76,485.19 L373.85,485.17 L375.94,484.80 L378.03,484.07 M386.28,482.24 L388.38,482.73 L390.48,482.87 L392.58,482.66 L394.68,482.10 M403.74,482.79 L405.84,483.43 L407.94,483.72 L410.03,483.66 L412.13,483.25 M418.60,486.21 L420.67,487.06 L422.75,487.56 L424.82,487.71 L426.90,487.51 M428.16,491.19 L430.07,492.58 L431.98,493.61 L433.90,494.30 L435.81,494.64 M440.56,499.96 L439.20,501.12 L437.84,501.94 L436.48,502.40 L435.13,502.51 M432.09,506.97 L430.61,507.76 L429.13,508.20 L427.66,508.29 L426.18,508.03 M418.16,511.71 L416.66,512.35 L415.17,512.64 L413.67,512.58 L412.18,512.17 M401.07,513.84 L399.57,514.38 L398.07,514.58 L396.57,514.42 L395.07,513.91 M383.44,513.17 L381.94,513.62 L380.44,513.72 L378.95,513.47 L377.45,512.87 M367.95,509.88 L366.46,510.21 L364.97,510.19 L363.49,509.82 L362.00,509.10 M356.88,504.71 L355.45,504.79 L354.01,504.53 L352.58,503.92 L351.14,502.96 M350.57,499.60 L349.90,498.78 L349.23,497.61 L348.56,496.09 L347.90,494.22 M347.56,491.56 L349.46,491.19 L351.36,490.47 L353.26,489.40 L355.16,487.98 M355.93,484.25 L358.00,484.40 L360.07,484.21 L362.13,483.66 L364.20,482.76 M369.84,479.39 L371.94,479.75 L374.03,479.77 L376.13,479.43 L378.22,478.74 M386.93,477.18 L389.03,477.68 L391.13,477.83 L393.23,477.63 L395.33,477.08 M404.56,477.78 L406.66,478.41 L408.76,478.69 L410.85,478.62 L412.95,478.20 M420.06,480.97 L422.14,481.77 L424.23,482.22 L426.31,482.32 L428.39,482.07 M431.17,485.95 L433.18,487.09 L435.19,487.87 L437.20,488.31 L439.20,488.39 M438.10,490.34 L439.03,492.74 L439.97,494.80 L440.90,496.50 L441.84,497.86 M447.58,493.06 L446.65,494.77 L445.73,496.12 L444.80,497.13 L443.88,497.79 M443.82,501.10 L442.39,502.08 L440.96,502.71 L439.53,502.99 L438.10,502.92 M434.13,507.16 L432.64,507.91 L431.16,508.32 L429.68,508.37 L428.20,508.08 M420.40,511.40 L418.90,512.04 L417.40,512.33 L415.91,512.27 L414.41,511.86 M404.17,513.55 L402.67,514.11 L401.18,514.31 L399.68,514.17 L398.18,513.67 M387.23,513.45 L385.73,513.93 L384.23,514.06 L382.73,513.83 L381.24,513.26 M371.40,511.16 L369.91,511.55 L368.42,511.59 L366.92,511.28 L365.43,510.62 M358.39,507.00 L356.91,507.26 L355.43,507.17 L353.96,506.73 L352.48,505.94 M349.49,501.68 L348.10,501.66 L346.70,501.29 L345.30,500.57 L343.90,499.50 M344.00,496.75 L343.58,495.84 L343.15,494.57 L342.73,492.96 L342.30,490.99 M341.46,489.01 L343.32,488.56 L345.18,487.76 L347.04,486.60 L348.90,485.10 M348.46,481.77 L350.52,481.85 L352.57,481.58 L354.62,480.95 L356.67,479.98 M360.33,476.46 L362.42,476.76 L364.51,476.70 L366.59,476.29 L368.68,475.54 M375.51,473.16 L377.61,473.58 L379.71,473.66 L381.81,473.39 L383.90,472.77 M392.32,472.06 L394.42,472.60 L396.52,472.78 L398.62,472.62 L400.72,472.11 M408.94,473.22 L411.03,473.87 L413.13,474.17 L415.22,474.12 L417.32,473.71 M423.56,476.42 L425.64,477.21 L427.73,477.66 L429.81,477.75 L431.89,477.50 M434.67,481.14 L436.70,482.18 L438.74,482.88 L440.77,483.22 L442.80,483.22 M441.55,486.11 L443.26,487.86 L444.96,489.26 L446.67,490.32 L448.37,491.02 M452.64,495.09 L451.33,496.35 L450.02,497.25 L448.71,497.81 L447.40,498.01 M445.96,502.19 L444.50,503.07 L443.05,503.59 L441.59,503.77 L440.13,503.60 M434.74,507.73 L433.25,508.45 L431.77,508.82 L430.28,508.84 L428.79,508.51 M420.18,511.57 L418.68,512.19 L417.18,512.47 L415.69,512.39 L414.19,511.96 M403.59,513.46 L402.09,514.01 L400.59,514.21 L399.09,514.06 L397.59,513.56 M386.47,513.29 L384.97,513.77 L383.47,513.90 L381.97,513.68 L380.47,513.11 M370.33,511.10 L368.83,511.50 L367.34,511.55 L365.84,511.25 L364.35,510.61 M356.59,507.15 L355.11,507.44 L353.63,507.39 L352.14,506.98 L350.66,506.22 M346.43,501.92 L344.99,502.02 L343.56,501.77 L342.12,501.17 L340.68,500.22 M340.31,496.44 L339.16,496.00 L338.02,495.20 L336.88,494.05 L335.73,492.56 M334.92,490.87 L336.22,489.74 L337.51,488.26 L338.81,486.43 L340.10,484.26 M338.11,482.24 L340.09,482.08 L342.08,481.57 L344.06,480.71 L346.05,479.50 M347.17,475.75 L349.24,475.91 L351.31,475.72 L353.38,475.18 L355.45,474.29 M360.21,470.93 L362.30,471.26 L364.39,471.24 L366.48,470.86 L368.57,470.14 M375.95,467.98 L378.05,468.42 L380.15,468.51 L382.25,468.25 L384.35,467.64 M393.00,467.06 L395.10,467.60 L397.20,467.79 L399.30,467.63 L401.40,467.12 M409.82,468.20 L411.92,468.84 L414.01,469.13 L416.11,469.07 L418.21,468.66 M424.93,471.24 L427.02,472.01 L429.10,472.42 L431.19,472.49 L433.28,472.20 M437.02,475.80 L439.07,476.76 L441.13,477.37 L443.18,477.63 L445.24,477.54 M445.19,481.10 L447.11,482.49 L449.02,483.53 L450.93,484.22 L452.85,484.56 M451.28,485.54 L451.68,488.12 L452.07,490.36 L452.47,492.25 L452.87,493.79 M458.50,488.87 L457.58,490.58 L456.65,491.93 L455.73,492.94 L454.80,493.59 M455.14,496.86 L453.74,497.90 L452.33,498.60 L450.92,498.95 L449.52,498.94 M446.67,503.27 L445.20,504.09 L443.73,504.55 L442.26,504.66 L440.79,504.43 M434.47,508.30 L432.98,508.99 L431.48,509.34 L429.99,509.33 L428.50,508.97 M419.50,511.74 L418.00,512.35 L416.50,512.61 L415.01,512.52 L413.51,512.08 M402.90,513.38 L401.40,513.93 L399.90,514.12 L398.40,513.97 L396.90,513.46 M385.90,513.16 L384.40,513.64 L382.90,513.77 L381.40,513.55 L379.90,512.98 M369.76,511.10 L368.27,511.51 L366.77,511.57 L365.27,511.28 L363.78,510.64 M355.68,507.40 L354.19,507.72 L352.70,507.69 L351.22,507.30 L349.73,506.57 M344.66,502.42 L343.20,502.59 L341.74,502.41 L340.29,501.88 L338.83,501.00 M337.37,496.81 L336.04,496.65 L334.71,496.14 L333.37,495.27 L332.04,494.06 M332.43,491.61 L332.27,490.64 L332.11,489.32 L331.95,487.66 L331.79,485.64 M330.52,483.90 L332.33,483.37 L334.15,482.48 L335.96,481.24 L337.77,479.65 M336.61,476.48 L338.64,476.47 L340.67,476.11 L342.70,475.40 L344.73,474.34 M347.03,470.61 L349.11,470.83 L351.19,470.69 L353.27,470.21 L355.34,469.38 M360.74,466.27 L362.84,466.62 L364.93,466.62 L367.02,466.28 L369.11,465.58 M376.67,463.65 L378.77,464.11 L380.87,464.21 L382.97,463.96 L385.07,463.36 M393.63,462.89 L395.73,463.43 L397.83,463.62 L399.93,463.47 L402.03,462.96 M410.36,464.00 L412.45,464.63 L414.55,464.91 L416.65,464.85 L418.74,464.43 M425.61,466.85 L427.70,467.59 L429.79,467.98 L431.88,468.03 L433.97,467.72 M438.29,471.15 L440.36,472.05 L442.42,472.60 L444.49,472.81 L446.55,472.66 M447.53,476.39 L449.52,477.59 L451.50,478.43 L453.49,478.93 L455.48,479.08 M453.39,481.38 L454.88,483.38 L456.37,485.04 L457.86,486.35 L459.34,487.31" fill="none" stroke="#858585" stroke-width="0.95" clip-path="url(#lclip)"/>
<path d="M427.90,500.70 L427.89,500.82 L427.88,500.94 L427.85,501.06 L427.82,501.18 L427.77,501.32 L427.72,501.46 L427.65,501.61 L427.57,501.76 L427.49,501.93 L427.39,502.11 L427.29,502.30 L427.17,503.40 L427.04,503.62 L426.91,503.84 L426.76,504.06 L426.61,504.28 L426.44,504.50 L426.27,504.72 L426.08,504.93 L425.89,505.15 L425.68,505.36 L425.47,505.57 L425.24,505.78 L425.01,505.99 L424.77,506.19 L424.52,506.40 L424.26,506.60 L423.99,506.80 L423.71,507.00 L423.43,507.20 L423.13,507.40 L422.82,507.59 L422.51,507.78 L422.19,507.97 L421.86,508.16 L421.52,508.34 L421.17,508.52 L420.82,508.70 L420.46,508.88 L420.09,509.06 L419.71,509.23 L419.32,509.40 L418.93,509.57 L418.53,509.73 L418.12,509.89 L417.70,510.05 L417.28,510.21 L416.85,510.36 L416.41,510.51 L415.97,510.66 L415.52,510.80 L415.06,510.94 L414.60,511.08 L414.13,511.22 L413.66,511.35 L413.18,511.48 L412.69,511.60 L412.20,511.72 L411.70,511.84 L411.20,511.96 L410.69,512.07 L410.18,512.18 L409.66,512.28 L409.14,512.38 L408.62,512.48 L408.09,512.58 L407.55,512.67 L407.01,512.75 L406.47,512.84 L405.92,512.92 L405.37,512.99 L404.82,513.06 L404.27,513.13 L403.71,513.20 L403.14,513.26 L402.58,513.31 L402.01,513.37 L401.44,513.42 L400.87,513.46 L400.30,513.50 L399.72,513.54 L399.15,513.57 L398.57,513.60 L397.99,513.63 L397.41,513.65 L396.83,513.67 L396.25,513.68 L395.67,513.69 L395.08,513.70 L394.50,513.70 L393.92,513.70 L393.33,513.69 L392.75,513.68 L392.17,513.67 L391.59,513.65 L391.01,513.63 L390.43,513.60 L389.85,513.57 L389.28,513.54 L388.70,513.50 L388.13,513.46 L387.56,513.42 L386.99,513.37 L386.42,513.31 L385.86,513.26 L385.29,513.20 L384.73,513.13 L384.18,513.06 L383.63,512.99 L383.08,512.92 L382.53,512.84 L381.99,512.75 L381.45,512.67 L380.91,512.58 L380.38,512.48 L379.86,512.38 L379.34,512.28 L378.82,512.18 L378.31,512.07 L377.80,511.96 L377.30,511.84 L376.80,511.72 L376.31,511.60 L375.82,511.48 L375.34,511.35 L374.87,511.22 L374.40,511.08 L373.94,510.94 L373.48,510.80 L373.03,510.66 L372.59,510.51 L372.15,510.36 L371.72,510.21 L371.30,510.05 L370.88,509.89 L370.47,509.73 L370.07,509.57 L369.68,509.40 L369.29,509.23 L368.91,509.06 L368.54,508.88 L368.18,508.70 L367.83,508.52 L367.48,508.34 L367.14,508.16 L366.81,507.97 L366.49,507.78 L366.18,507.59 L365.87,507.40 L365.57,507.20 L365.29,507.00 L365.01,506.80 L364.74,506.60 L364.48,506.40 L364.23,506.19 L363.99,505.99 L363.76,505.78 L363.53,505.57 L363.32,505.36 L363.11,505.15 L362.92,504.93 L362.73,504.72 L362.56,504.50 L362.39,504.28 L362.24,504.06 L362.09,503.84 L361.96,503.62 L361.83,503.40 L361.71,502.30 L361.61,502.11 L361.51,501.93 L361.43,501.76 L361.35,501.61 L361.28,501.46 L361.23,501.32 L361.18,501.18 L361.15,501.06 L361.12,500.94 L361.11,500.82 L361.10,500.70 L361.11,500.36 L361.12,500.03 L361.15,499.70 L361.18,499.37 L361.23,499.05 L361.28,498.74 L361.35,498.44 L361.43,498.14 L361.51,497.86 L361.61,497.60 L361.71,497.34 L361.83,497.10 L361.96,496.88 L362.09,496.66 L362.24,496.47 L362.39,496.28 L362.56,496.11 L362.73,495.95 L362.92,495.81 L363.11,495.68 L363.32,495.55 L363.53,495.44 L363.76,495.33 L363.99,495.23 L364.23,495.13 L364.48,494.97 L364.74,494.66 L365.01,494.35 L365.29,494.05 L365.57,493.75 L365.87,493.46 L366.18,493.19 L366.49,492.92 L366.81,492.67 L367.14,492.43 L367.48,492.20 L367.83,491.99 L368.18,491.80 L368.54,491.62 L368.91,491.46 L369.29,491.31 L369.68,491.18 L370.07,491.06 L370.47,490.96 L370.88,490.87 L371.30,490.79 L371.72,490.73 L372.15,490.67 L372.59,490.63 L373.03,490.59 L373.48,490.55 L373.94,490.39 L374.40,490.15 L374.87,489.90 L375.34,489.67 L375.82,489.45 L376.31,489.23 L376.80,489.03 L377.30,488.84 L377.80,488.66 L378.31,488.50 L378.82,488.36 L379.34,488.23 L379.86,488.12 L380.38,488.02 L380.91,487.94 L381.45,487.88 L381.99,487.84 L382.53,487.81 L383.08,487.79 L383.63,487.79 L384.18,487.81 L384.73,487.83 L385.29,487.87 L385.86,487.91 L386.42,487.96 L386.99,488.02 L387.56,487.89 L388.13,487.74 L388.70,487.59 L389.28,487.45 L389.85,487.32 L390.43,487.21 L391.01,487.10 L391.59,487.01 L392.17,486.94 L392.75,486.88 L393.33,486.83 L393.92,486.81 L394.50,486.80 L395.08,486.81 L395.67,486.83 L396.25,486.88 L396.83,486.94 L397.41,487.01 L397.99,487.10 L398.57,487.21 L399.15,487.32 L399.72,487.45 L400.30,487.59 L400.87,487.74 L401.44,487.89 L402.01,488.02 L402.58,487.96 L403.14,487.91 L403.71,487.87 L404.27,487.83 L404.82,487.81 L405.37,487.79 L405.92,487.79 L406.47,487.81 L407.01,487.84 L407.55,487.88 L408.09,487.94 L408.62,488.02 L409.14,488.12 L409.66,488.23 L410.18,488.36 L410.69,488.50 L411.20,488.66 L411.70,488.84 L412.20,489.03 L412.69,489.23 L413.18,489.45 L413.66,489.67 L414.13,489.90 L414.60,490.15 L415.06,490.39 L415.52,490.55 L415.97,490.59 L416.41,490.63 L416.85,490.67 L417.28,490.73 L417.70,490.79 L418.12,490.87 L418.53,490.96 L418.93,491.06 L419.32,491.18 L419.71,491.31 L420.09,491.46 L420.46,491.62 L420.82,491.80 L421.17,491.99 L421.52,492.20 L421.86,492.43 L422.19,492.67 L422.51,492.92 L422.82,493.19 L423.13,493.46 L423.43,493.75 L423.71,494.05 L423.99,494.35 L424.26,494.66 L424.52,494.97 L424.77,495.13 L425.01,495.23 L425.24,495.33 L425.47,495.44 L425.68,495.55 L425.89,495.68 L426.08,495.81 L426.27,495.95 L426.44,496.11 L426.61,496.28 L426.76,496.47 L426.91,496.66 L427.04,496.88 L427.17,497.10 L427.29,497.34 L427.39,497.60 L427.49,497.86 L427.57,498.14 L427.65,498.44 L427.72,498.74 L427.77,499.05 L427.82,499.37 L427.85,499.70 L427.88,500.03 L427.89,500.36 L427.90,500.70 Z" fill="#fff" stroke="#a0a0a0" stroke-width="0.75"/>
<path d="M452.26,499.68 L451.41,500.32 L450.51,500.95 L449.58,501.57 L448.61,502.18 L447.60,502.77 L446.54,503.36 L445.46,503.94 L444.33,504.50 L443.17,505.05 L441.97,505.59 L440.73,506.11 L439.47,506.62 L438.17,507.11 L436.84,507.59 L435.47,508.06 L434.08,508.51 L432.66,508.94 L431.21,509.36 L429.73,509.76 L428.23,510.14 L426.71,510.51 L425.16,510.86 L423.58,511.19 L421.99,511.51 L420.38,511.81 L418.74,512.09 L417.09,512.35 L415.43,512.59 L413.75,512.81 L412.05,513.02 L410.34,513.20 L408.62,513.37 L406.89,513.52 L405.15,513.65 L403.41,513.75 L401.65,513.84 L399.89,513.91 L398.13,513.96 L396.37,513.99 L394.60,514.00 L392.83,513.99 L391.07,513.96 L389.31,513.91 L387.55,513.84 L385.79,513.75 L384.05,513.65 L382.31,513.52 L380.58,513.37 L378.86,513.20 L377.15,513.02 L375.45,512.81 L373.77,512.59 L372.11,512.35 L370.46,512.09 L368.82,511.81 L367.21,511.51 L365.62,511.19 L364.04,510.86 L362.49,510.51 L360.97,510.14 L359.47,509.76 L357.99,509.36 L356.54,508.94 L355.12,508.51 L353.73,508.06 L352.36,507.59 L351.03,507.11 L349.73,506.62 L348.47,506.11 L347.23,505.59 L346.03,505.05 L344.87,504.50 L343.74,503.94 L342.66,503.36 L341.60,502.77 L340.59,502.18 L339.62,501.57 L338.69,500.95 L337.79,500.32 L336.94,499.68" fill="none" stroke="#5a5a5a" stroke-width="0.9"/>
<path d="M452.83,499.14 L452.10,499.85 L451.33,500.55 L450.51,501.24 L449.63,501.93 L448.71,502.60 L447.74,503.25 L446.72,503.90 L445.66,504.54 L444.56,505.16 L443.40,505.76 L442.21,506.35 L440.97,506.93 L439.70,507.49 L438.38,508.04 L437.03,508.57 L435.63,509.08 L434.21,509.58 L432.74,510.05 L431.25,510.51 L429.72,510.95 L428.16,511.38 L426.57,511.78 L424.95,512.16 L423.31,512.52 L421.64,512.87 L419.94,513.19 L418.23,513.49 L416.49,513.77 L414.73,514.03 L412.96,514.26 L411.17,514.48 L409.37,514.67 L407.55,514.84 L405.72,514.99 L403.88,515.11 L402.04,515.22 L400.18,515.30 L398.32,515.35 L396.46,515.39 L394.60,515.40 L392.74,515.39 L390.88,515.35 L389.02,515.30 L387.16,515.22 L385.32,515.11 L383.48,514.99 L381.65,514.84 L379.83,514.67 L378.03,514.48 L376.24,514.26 L374.47,514.03 L372.71,513.77 L370.97,513.49 L369.26,513.19 L367.56,512.87 L365.89,512.52 L364.25,512.16 L362.63,511.78 L361.04,511.38 L359.48,510.95 L357.95,510.51 L356.46,510.05 L354.99,509.58 L353.57,509.08 L352.17,508.57 L350.82,508.04 L349.50,507.49 L348.23,506.93 L346.99,506.35 L345.80,505.76 L344.64,505.16 L343.54,504.54 L342.48,503.90 L341.46,503.25 L340.49,502.60 L339.57,501.93 L338.69,501.24 L337.87,500.55 L337.10,499.85 L336.37,499.14" fill="none" stroke="#9a9a9a" stroke-width="0.7"/>
<path d="M330.94,489.20 L330.90,488.16 L330.97,487.13 L331.13,486.10 L331.40,485.07 L331.77,484.04 L332.25,483.02 L332.82,482.01 L333.49,481.02 L334.26,480.03 L335.13,479.05 L336.09,478.09 L337.15,477.15 L338.30,476.23 L339.55,475.32 L340.88,474.44 L342.29,473.58 L343.79,472.74 L345.38,471.92 L347.04,471.14 L348.78,470.38 L350.59,469.65 L352.47,468.95 L354.43,468.28 L356.44,467.64 L358.52,467.04 L360.66,466.47 L362.85,465.93 L365.09,465.44 L367.38,464.97 L369.71,464.55 L372.08,464.17 L374.49,463.82 L376.94,463.51 L379.41,463.24 L381.90,463.02 L384.42,462.83 L386.95,462.69 L389.49,462.58 L392.04,462.52 L394.60,462.50 L397.16,462.52 L399.71,462.58 L402.25,462.69 L404.78,462.83 L407.30,463.02 L409.79,463.24 L412.26,463.51 L414.71,463.82 L417.12,464.17 L419.49,464.55 L421.82,464.97 L424.11,465.44 L426.35,465.93 L428.54,466.47 L430.68,467.04 L432.76,467.64 L434.77,468.28 L436.73,468.95 L438.61,469.65 L440.42,470.38 L442.16,471.14 L443.82,471.92 L445.41,472.74 L446.91,473.58 L448.32,474.44 L449.65,475.32 L450.90,476.23 L452.05,477.15 L453.11,478.09 L454.07,479.05 L454.94,480.03 L455.71,481.02 L456.38,482.01 L456.95,483.02 L457.43,484.04 L457.80,485.07 L458.07,486.10 L458.23,487.13 L458.30,488.16 L458.26,489.20" fill="none" stroke="#a0a0a0" stroke-width="0.6"/>
<path d="M338.05,500.50 L336.94,499.68 L335.91,498.84 L334.95,497.98 L334.05,497.11 L333.24,496.23 L332.50,495.34 L331.83,494.44 L331.24,493.53 L330.73,492.61 L330.29,491.69 L329.94,490.76 L329.66,489.82 L329.46,488.88 L329.34,487.94 L329.30,487.00 L329.34,486.06 L329.46,485.12 L329.66,484.18 L329.94,483.24 L330.29,482.31 L330.73,481.39 L331.24,480.47 L331.83,479.56 L332.50,478.66 L333.24,477.77 L334.05,476.89 L334.95,476.02 L335.91,475.16 L336.94,474.32 L338.05,473.50 L339.22,472.69 L340.46,471.90 L341.77,471.13 L343.14,470.38 L344.58,469.64 L346.07,468.93 L347.63,468.24 L349.24,467.58 L350.91,466.94 L352.63,466.32 L354.40,465.72 L356.22,465.16 L358.08,464.62 L360.00,464.10 L361.95,463.62 L363.94,463.16 L365.97,462.73 L368.04,462.33 L370.14,461.97 L372.27,461.63 L374.42,461.32 L376.60,461.05 L378.80,460.80 L381.02,460.59 L383.26,460.41 L385.51,460.26 L387.77,460.15 L390.04,460.07 L392.32,460.02 L394.60,460.00 L396.88,460.02 L399.16,460.07 L401.43,460.15 L403.69,460.26 L405.94,460.41 L408.18,460.59 L410.40,460.80 L412.60,461.05 L414.78,461.32 L416.93,461.63 L419.06,461.97 L421.16,462.33 L423.23,462.73 L425.26,463.16 L427.25,463.62 L429.20,464.10 L431.12,464.62 L432.98,465.16 L434.80,465.72 L436.57,466.32 L438.29,466.94 L439.96,467.58 L441.57,468.24 L443.13,468.93 L444.62,469.64 L446.06,470.38 L447.43,471.13 L448.74,471.90 L449.98,472.69 L451.15,473.50 L452.26,474.32 L453.29,475.16 L454.25,476.02 L455.15,476.89 L455.96,477.77 L456.70,478.66 L457.37,479.56 L457.96,480.47 L458.47,481.39 L458.91,482.31 L459.26,483.24 L459.54,484.18 L459.74,485.12 L459.86,486.06 L459.90,487.00 L459.86,487.94 L459.74,488.88 L459.54,489.82 L459.26,490.76 L458.91,491.69 L458.47,492.61 L457.96,493.53 L457.37,494.44 L456.70,495.34 L455.96,496.23 L455.15,497.11 L454.25,497.98 L453.29,498.84 L452.26,499.68 L451.15,500.50" fill="none" stroke="#262626" stroke-width="1.3" stroke-linejoin="round"/>
<path d="M451.15,500.50 L447.22,503.88 L447.07,504.04 L446.90,504.16 L446.74,504.22 L446.57,504.25 L446.40,504.25 L446.22,504.22 L446.05,504.17 L445.86,504.43 L445.68,504.94 L445.49,505.43 L445.30,505.89 L445.10,506.32 L444.90,506.71 L444.70,507.06 L444.50,507.36 L444.29,507.60 L444.08,507.79 L443.86,507.92 L443.64,508.01 L443.42,508.05 L443.19,508.06 L442.97,508.03 L442.74,507.98 L442.50,507.92 L442.26,508.29 L442.02,508.78 L441.78,509.25 L441.53,509.69 L441.28,510.10 L441.03,510.46 L440.77,510.78 L440.51,511.04 L440.25,511.25 L439.98,511.41 L439.71,511.52 L439.44,511.58 L439.17,511.59 L438.89,511.57 L438.61,511.52 L438.32,511.45 L438.04,511.37 L437.75,511.84 L437.46,512.30 L437.16,512.75 L436.86,513.16 L436.56,513.54 L436.26,513.87 L435.95,514.15 L435.64,514.39 L435.33,514.56 L435.02,514.69 L434.70,514.76 L434.38,514.79 L434.06,514.77 L433.73,514.72 L433.41,514.64 L433.08,514.54 L432.74,514.56 L432.41,515.01 L432.07,515.45 L431.73,515.86 L431.39,516.24 L431.04,516.58 L430.70,516.88 L430.35,517.13 L429.99,517.32 L429.64,517.46 L429.28,517.55 L428.92,517.59 L428.56,517.58 L428.20,517.52 L427.83,517.44 L427.46,517.33 L427.09,517.20 L426.72,517.32 L426.35,517.74 L425.97,518.15 L425.59,518.53 L425.21,518.87 L424.83,519.18 L424.44,519.44 L424.05,519.64 L423.67,519.80 L423.27,519.90 L422.88,519.94 L422.49,519.94 L422.09,519.89 L421.69,519.80 L421.29,519.68 L420.89,519.53 L420.49,519.37 L420.08,519.60 L419.67,519.99 L419.27,520.36 L418.86,520.70 L418.44,521.01 L418.03,521.27 L417.62,521.49 L417.20,521.65 L416.78,521.76 L416.36,521.82 L415.94,521.82 L415.52,521.78 L415.09,521.69 L414.67,521.56 L414.24,521.40 L413.81,521.22 L413.39,521.02 L412.95,521.35 L412.52,521.70 L412.09,522.03 L411.66,522.33 L411.22,522.60 L410.79,522.82 L410.35,522.99 L409.91,523.11 L409.47,523.18 L409.03,523.19 L408.59,523.15 L408.15,523.06 L407.70,522.93 L407.26,522.76 L406.82,522.56 L406.37,522.34 L405.92,522.20 L405.48,522.53 L405.03,522.85 L404.58,523.14 L404.13,523.40 L403.68,523.62 L403.23,523.80 L402.78,523.93 L402.33,524.00 L401.88,524.02 L401.42,523.99 L400.97,523.90 L400.52,523.77 L400.06,523.59 L399.61,523.38 L399.16,523.14 L398.70,522.89 L398.25,522.84 L397.79,523.13 L397.34,523.41 L396.88,523.66 L396.42,523.88 L395.97,524.06 L395.51,524.19 L395.06,524.27 L394.60,524.30 L394.14,524.27 L393.69,524.19 L393.23,524.06 L392.78,523.88 L392.32,523.66 L391.86,523.41 L391.41,523.13 L390.95,522.84 L390.50,522.89 L390.04,523.14 L389.59,523.38 L389.14,523.59 L388.68,523.77 L388.23,523.90 L387.78,523.99 L387.32,524.02 L386.87,524.00 L386.42,523.93 L385.97,523.80 L385.52,523.62 L385.07,523.40 L384.62,523.14 L384.17,522.85 L383.72,522.53 L383.28,522.20 L382.83,522.34 L382.38,522.56 L381.94,522.76 L381.50,522.93 L381.05,523.06 L380.61,523.15 L380.17,523.19 L379.73,523.18 L379.29,523.11 L378.85,522.99 L378.41,522.82 L377.98,522.60 L377.54,522.33 L377.11,522.03 L376.68,521.70 L376.25,521.35 L375.81,521.02 L375.39,521.22 L374.96,521.40 L374.53,521.56 L374.11,521.69 L373.68,521.78 L373.26,521.82 L372.84,521.82 L372.42,521.76 L372.00,521.65 L371.58,521.49 L371.17,521.27 L370.76,521.01 L370.34,520.70 L369.93,520.36 L369.53,519.99 L369.12,519.60 L368.71,519.37 L368.31,519.53 L367.91,519.68 L367.51,519.80 L367.11,519.89 L366.71,519.94 L366.32,519.94 L365.93,519.90 L365.53,519.80 L365.15,519.64 L364.76,519.44 L364.37,519.18 L363.99,518.87 L363.61,518.53 L363.23,518.15 L362.85,517.74 L362.48,517.32 L362.11,517.20 L361.74,517.33 L361.37,517.44 L361.00,517.52 L360.64,517.58 L360.28,517.59 L359.92,517.55 L359.56,517.46 L359.21,517.32 L358.85,517.13 L358.50,516.88 L358.16,516.58 L357.81,516.24 L357.47,515.86 L357.13,515.45 L356.79,515.01 L356.46,514.56 L356.12,514.54 L355.79,514.64 L355.47,514.72 L355.14,514.77 L354.82,514.79 L354.50,514.76 L354.18,514.69 L353.87,514.56 L353.56,514.39 L353.25,514.15 L352.94,513.87 L352.64,513.54 L352.34,513.16 L352.04,512.75 L351.74,512.30 L351.45,511.84 L351.16,511.37 L350.88,511.45 L350.59,511.52 L350.31,511.57 L350.03,511.59 L349.76,511.58 L349.49,511.52 L349.22,511.41 L348.95,511.25 L348.69,511.04 L348.43,510.78 L348.17,510.46 L347.92,510.10 L347.67,509.69 L347.42,509.25 L347.18,508.78 L346.94,508.29 L346.70,507.92 L346.46,507.98 L346.23,508.03 L346.01,508.06 L345.78,508.05 L345.56,508.01 L345.34,507.92 L345.12,507.79 L344.91,507.60 L344.70,507.36 L344.50,507.06 L344.30,506.71 L344.10,506.32 L343.90,505.89 L343.71,505.43 L343.52,504.94 L343.34,504.43 L343.15,504.17 L342.98,504.22 L342.80,504.25 L342.63,504.25 L342.46,504.22 L342.30,504.16 L342.13,504.04 L341.98,503.88 L338.05,500.50" fill="none" stroke="#4a4a4a" stroke-width="0.95" stroke-linejoin="round"/>
<path d="M357.5,566.2 L363.40000000000003,566.2 L364.0,573.4 L363.4,574.0 L356.0,574.0 L355.4,573.4 Z" fill="#bcbcbc" stroke="#3a3a3a" stroke-width="0.85" stroke-linejoin="round"/>
<path d="M359.7,566.2 L359.0,573.2" stroke="#e0e0e0" stroke-width="0.9"/>
<path d="M357.8,566.2 L357.8,541.7 A2.65,1.5 0 0 1 363.1,541.7 L363.1,566.2 Z" fill="#c2c2c2" stroke="#3a3a3a" stroke-width="0.85"/>
<line x1="360.1" y1="542.5" x2="360.1" y2="566.2" stroke="#ebebeb" stroke-width="1.2"/>
<ellipse cx="360.45" cy="541.70" rx="2.65" ry="1.5" fill="#d6d6d6" stroke="#3a3a3a" stroke-width="0.8"/>
<path d="M372.4,557.8 L378.90000000000003,557.8 L379.6,565.6 L379.0,566.2 L370.90000000000003,566.2 L370.3,565.6 Z" fill="#bcbcbc" stroke="#3a3a3a" stroke-width="0.85" stroke-linejoin="round"/>
<path d="M374.8,557.8 L374.1,565.4000000000001" stroke="#e0e0e0" stroke-width="0.9"/>
<path d="M372.7,557.8 L372.7,533.4 A2.95,1.5 0 0 1 378.6,533.4 L378.6,557.8 Z" fill="#c2c2c2" stroke="#3a3a3a" stroke-width="0.85"/>
<line x1="375.2" y1="534.1999999999999" x2="375.2" y2="557.8" stroke="#ebebeb" stroke-width="1.2"/>
<ellipse cx="375.65" cy="533.40" rx="2.95" ry="1.5" fill="#d6d6d6" stroke="#3a3a3a" stroke-width="0.8"/>
<path d="M363.1,552.5 L372.7,548.5 L372.7,554.0 L363.1,558.0 Z" fill="#c2c2c2" stroke="#3a3a3a" stroke-width="0.85" stroke-linejoin="round"/>
<path d="M363.1,558.0 L366.5,556.6 L366.5,560.5 L363.1,562 Z" fill="#c2c2c2" stroke="#3a3a3a" stroke-width="0.85" stroke-linejoin="round"/>
<path d="M360.4,579.3 L366.40000000000003,579.3 L369.1,587.1 L368.5,587.7 L359.0,587.7 L358.4,587.1 Z" fill="#bcbcbc" stroke="#3a3a3a" stroke-width="0.85" stroke-linejoin="round"/>
<path d="M362.6,579.3 L361.9,586.9000000000001" stroke="#e0e0e0" stroke-width="0.9"/>
<path d="M360.7,579.3 L360.7,557.8 A2.70,1.5 0 0 1 366.1,557.8 L366.1,579.3 Z" fill="#c2c2c2" stroke="#3a3a3a" stroke-width="0.85"/>
<line x1="363.0" y1="558.5999999999999" x2="363.0" y2="579.3" stroke="#ebebeb" stroke-width="1.2"/>
<ellipse cx="363.40" cy="557.80" rx="2.70" ry="1.5" fill="#d6d6d6" stroke="#3a3a3a" stroke-width="0.8"/>
<path d="M378.9,588.3 L385.5,588.3 L387.9,594.1999999999999 L387.29999999999995,594.8 L376.90000000000003,594.8 L376.3,594.1999999999999 Z" fill="#bcbcbc" stroke="#3a3a3a" stroke-width="0.85" stroke-linejoin="round"/>
<path d="M381.4,588.3 L380.7,594.0" stroke="#e0e0e0" stroke-width="0.9"/>
<path d="M379.2,588.3 L379.2,563.2 A3.00,1.5 0 0 1 385.2,563.2 L385.2,588.3 Z" fill="#c2c2c2" stroke="#3a3a3a" stroke-width="0.85"/>
<line x1="381.8" y1="564.0" x2="381.8" y2="588.3" stroke="#ebebeb" stroke-width="1.2"/>
<ellipse cx="382.20" cy="563.20" rx="3.00" ry="1.5" fill="#d6d6d6" stroke="#3a3a3a" stroke-width="0.8"/>
<path d="M366.1,571.0 L379.2,574.7 L379.2,580.5 L366.1,576.8 Z" fill="#c2c2c2" stroke="#3a3a3a" stroke-width="0.85" stroke-linejoin="round"/>
<path d="M404.09999999999997,557.0 L410.5,557.0 L410.8,564.1999999999999 L410.2,564.8 L402.6,564.8 L402.0,564.1999999999999 Z" fill="#bcbcbc" stroke="#3a3a3a" stroke-width="0.85" stroke-linejoin="round"/>
<path d="M406.5,557.0 L405.8,564.0" stroke="#e0e0e0" stroke-width="0.9"/>
<path d="M404.4,557.0 L404.4,533.0 A2.90,1.5 0 0 1 410.2,533.0 L410.2,557.0 Z" fill="#c2c2c2" stroke="#3a3a3a" stroke-width="0.85"/>
<line x1="406.9" y1="533.8" x2="406.9" y2="557.0" stroke="#ebebeb" stroke-width="1.2"/>
<ellipse cx="407.30" cy="533.00" rx="2.90" ry="1.5" fill="#d6d6d6" stroke="#3a3a3a" stroke-width="0.8"/>
<path d="M422.7,560.0 L428.8,560.0 L430.0,566.4 L429.4,567.0 L422.1,567.0 L421.5,566.4 Z" fill="#bcbcbc" stroke="#3a3a3a" stroke-width="0.85" stroke-linejoin="round"/>
<path d="M424.9,560.0 L424.2,566.2" stroke="#e0e0e0" stroke-width="0.9"/>
<path d="M423.0,560.0 L423.0,539.9 A2.75,1.5 0 0 1 428.5,539.9 L428.5,560.0 Z" fill="#c2c2c2" stroke="#3a3a3a" stroke-width="0.85"/>
<line x1="425.4" y1="540.6999999999999" x2="425.4" y2="560.0" stroke="#ebebeb" stroke-width="1.2"/>
<ellipse cx="425.75" cy="539.90" rx="2.75" ry="1.5" fill="#d6d6d6" stroke="#3a3a3a" stroke-width="0.8"/>
<path d="M410.2,546.8 L423.0,551.6 L423.0,557.2 L410.2,552.4 Z" fill="#c2c2c2" stroke="#3a3a3a" stroke-width="0.85" stroke-linejoin="round"/>
<path d="M426.7,577.8 L432.8,577.8 L434.6,585.3 L434.0,585.9 L424.6,585.9 L424.0,585.3 Z" fill="#bcbcbc" stroke="#3a3a3a" stroke-width="0.85" stroke-linejoin="round"/>
<path d="M428.9,577.8 L428.2,585.1" stroke="#e0e0e0" stroke-width="0.9"/>
<path d="M427.0,577.8 L427.0,554.2 A2.75,1.5 0 0 1 432.5,554.2 L432.5,577.8 Z" fill="#c2c2c2" stroke="#3a3a3a" stroke-width="0.85"/>
<line x1="429.4" y1="555.0" x2="429.4" y2="577.8" stroke="#ebebeb" stroke-width="1.2"/>
<ellipse cx="429.75" cy="554.20" rx="2.75" ry="1.5" fill="#d6d6d6" stroke="#3a3a3a" stroke-width="0.8"/>
<path d="M416.2,571.8 L427.0,567.2 L427.0,573.0 L416.2,577.8 Z" fill="#c2c2c2" stroke="#3a3a3a" stroke-width="0.85" stroke-linejoin="round"/>
<path d="M416.2,575 Q421,570 427,562 L427,566 Q422,572 416.2,578 Z" fill="#c6c6c6" stroke="#4a4a4a" stroke-width="0.7"/>
<path d="M410.2,585.0 L416.5,585.0 L418.4,592.1 L417.79999999999995,592.7 L408.6,592.7 L408.0,592.1 Z" fill="#bcbcbc" stroke="#3a3a3a" stroke-width="0.85" stroke-linejoin="round"/>
<path d="M412.6,585.0 L411.9,591.9000000000001" stroke="#e0e0e0" stroke-width="0.9"/>
<path d="M410.5,585.0 L410.5,562.3 A2.85,1.5 0 0 1 416.2,562.3 L416.2,585.0 Z" fill="#c2c2c2" stroke="#3a3a3a" stroke-width="0.85"/>
<line x1="413.0" y1="563.0999999999999" x2="413.0" y2="585.0" stroke="#ebebeb" stroke-width="1.2"/>
<ellipse cx="413.35" cy="562.30" rx="2.85" ry="1.5" fill="#d6d6d6" stroke="#3a3a3a" stroke-width="0.8"/>
</svg>
</body></html>
